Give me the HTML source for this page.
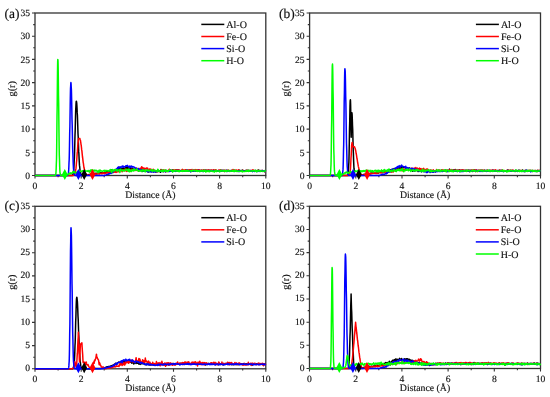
<!DOCTYPE html>
<html><head><meta charset="utf-8"><style>
html,body{margin:0;padding:0;background:#fff;width:550px;height:397px;overflow:hidden}
svg{display:block;filter:blur(0.35px)}
text{text-rendering:geometricPrecision;stroke:#111;stroke-width:0.15px}
.t{font-family:"Liberation Serif", serif;font-size:9.6px;fill:#111}
.ax{font-family:"Liberation Serif", serif;font-size:9.8px;fill:#111}
.gr{font-family:"Liberation Serif", serif;font-size:10.2px;fill:#111}
.lg{font-family:"Liberation Serif", serif;font-size:10px;fill:#111}
.pl{font-family:"Liberation Serif", serif;font-size:13.5px;fill:#111}
</style></head><body>
<svg width="550" height="397" viewBox="0 0 550 397">
<rect width="550" height="397" fill="#fff"/>
<rect x="35" y="13" width="230.8" height="162.5" fill="none" stroke="#333" stroke-width="1.3"/>
<path d="M35.0 175.5v3 M58.1 175.5v1.8 M81.2 175.5v3 M104.2 175.5v1.8 M127.3 175.5v3 M150.4 175.5v1.8 M173.5 175.5v3 M196.6 175.5v1.8 M219.6 175.5v3 M242.7 175.5v1.8 M265.8 175.5v3 M35 175.5h-3 M35 163.9h-1.8 M35 152.3h-3 M35 140.7h-1.8 M35 129.1h-3 M35 117.5h-1.8 M35 105.9h-3 M35 94.2h-1.8 M35 82.6h-3 M35 71.0h-1.8 M35 59.4h-3 M35 47.8h-1.8 M35 36.2h-3 M35 24.6h-1.8 M35 13.0h-3" stroke="#333" stroke-width="1.1" fill="none"/>
<polyline points="35.0,175.5 36.2,175.5 37.3,175.5 38.5,175.5 39.6,175.5 40.8,175.5 41.9,175.5 43.1,175.5 44.2,175.5 45.4,175.5 46.5,175.5 47.7,175.5 48.8,175.5 50.0,175.5 51.2,175.5 51.3,175.5 51.4,175.5 51.5,175.5 51.6,175.5 51.7,175.5 51.8,175.5 52.0,175.5 52.1,175.5 52.2,175.5 52.3,175.5 52.4,175.5 52.5,175.5 52.7,175.5 52.8,175.5 52.9,175.5 53.0,175.5 53.1,175.5 53.2,175.5 53.3,175.5 53.5,175.5 53.6,175.5 53.7,175.5 53.8,175.5 53.9,175.5 54.0,175.5 54.2,175.5 54.3,175.5 54.4,175.5 54.5,175.5 54.6,175.5 54.7,175.5 54.8,175.5 55.0,175.5 55.1,175.5 55.2,175.5 55.3,175.5 55.4,175.5 55.5,175.5 55.7,175.5 55.8,175.5 55.9,175.5 56.0,175.5 56.1,175.5 56.2,175.5 56.3,175.5 56.5,175.5 56.6,175.5 56.7,175.5 56.8,175.5 56.9,175.5 57.0,175.5 57.2,175.5 57.3,175.5 57.4,175.5 57.5,175.5 57.6,175.5 57.7,175.5 57.8,175.5 58.0,175.5 58.1,175.5 58.2,175.5 58.3,175.5 58.4,175.5 58.5,175.5 58.7,175.5 58.8,175.5 58.9,175.5 59.0,175.5 59.1,175.5 59.2,175.5 59.3,175.5 59.5,175.5 59.6,175.5 59.7,175.5 59.8,175.5 59.9,175.5 60.0,175.5 60.2,175.5 60.3,175.5 60.4,175.5 60.5,175.5 60.6,175.5 60.7,175.5 60.8,175.5 61.0,175.5 61.1,175.5 61.2,175.5 61.3,175.5 61.4,175.5 61.5,175.5 61.7,175.5 61.8,175.5 61.9,175.5 62.0,175.5 62.1,175.5 62.2,175.5 62.3,175.5 62.5,175.5 62.6,175.5 62.7,175.5 62.8,175.5 62.9,175.5 63.0,175.5 63.2,175.5 63.3,175.5 63.4,175.5 63.5,175.5 63.6,175.5 63.7,175.5 63.9,175.5 64.0,175.5 64.1,175.5 64.2,175.5 64.3,175.5 64.4,175.5 64.5,175.5 64.7,175.5 64.8,175.5 64.9,175.5 65.0,175.5 65.1,175.5 65.2,175.5 65.4,175.5 65.5,175.5 65.6,175.5 65.7,175.5 65.8,175.5 65.9,175.5 66.0,175.5 66.2,175.5 66.3,175.5 66.4,175.5 66.5,175.5 66.6,175.5 66.7,175.5 66.9,175.5 67.0,175.5 67.1,175.5 67.2,175.5 67.3,175.5 67.4,175.5 67.5,175.5 67.7,175.5 67.8,175.5 67.9,175.5 68.0,175.5 68.1,175.5 68.2,175.5 68.4,175.5 68.5,175.5 68.6,175.5 68.7,175.5 68.8,175.5 68.9,175.5 69.0,175.5 69.2,175.5 69.3,175.5 69.4,175.5 69.5,175.5 69.6,175.5 69.7,175.5 69.9,175.5 70.0,175.5 70.1,175.5 70.2,175.5 70.3,175.5 70.4,175.5 70.5,175.5 70.7,175.5 70.8,175.5 70.9,175.5 71.0,175.5 71.1,175.5 71.2,175.5 71.4,175.5 71.5,175.5 71.6,175.5 71.7,175.5 71.8,175.5 71.9,175.4 72.0,175.4 72.2,175.4 72.3,175.3 72.4,175.3 72.5,175.2 72.6,175.1 72.7,174.9 72.9,174.7 73.0,174.4 73.1,174.0 73.2,173.6 73.3,173.0 73.4,172.2 73.5,171.3 73.7,170.2 73.8,168.9 73.9,167.3 74.0,165.4 74.1,163.3 74.2,160.8 74.4,158.0 74.5,154.8 74.6,151.4 74.7,147.6 74.8,143.6 74.9,139.3 75.0,134.9 75.2,130.4 75.3,126.0 75.4,121.6 75.5,117.4 75.6,113.5 75.7,109.9 75.9,106.9 76.0,104.5 76.1,102.7 76.2,101.6 76.3,101.2 76.4,101.4 76.5,102.0 76.7,102.9 76.8,104.2 76.9,105.8 77.0,107.7 77.1,109.9 77.2,112.4 77.4,115.1 77.5,117.9 77.6,120.9 77.7,124.1 77.8,127.2 77.9,130.4 78.0,133.7 78.2,136.8 78.3,140.0 78.4,143.0 78.5,145.9 78.6,148.7 78.7,151.4 78.9,153.9 79.0,156.2 79.1,158.4 79.2,160.4 79.3,162.3 79.4,163.9 79.5,165.4 79.7,166.8 79.8,168.0 79.9,169.1 80.0,170.0 80.1,170.9 80.2,171.6 80.4,172.2 80.5,172.8 80.6,173.2 80.7,173.6 80.8,174.0 80.9,174.2 81.0,174.5 81.2,174.7 81.3,174.8 81.4,175.0 81.5,175.1 81.6,175.2 81.7,175.2 81.9,175.3 82.0,175.3 82.1,175.4 82.2,175.4 82.3,175.4 82.4,175.4 82.5,175.5 82.7,175.5 82.8,175.5 82.9,175.5 83.0,175.5 83.1,175.5 83.2,175.5 83.4,175.5 83.5,175.5 83.6,175.5 83.7,175.5 83.8,175.5 83.9,175.5 84.0,175.5 84.2,175.5 84.3,175.5 84.4,175.5 84.5,175.5 84.6,175.5 84.7,175.5 84.9,175.5 85.0,175.5 85.1,175.5 85.2,175.5 85.3,175.5 85.4,175.5 85.5,175.5 85.7,175.5 85.8,175.5 85.9,175.5 86.0,175.4 86.1,175.4 86.2,175.4 86.4,175.3 86.5,175.3 86.6,175.3 86.7,175.3 86.8,175.2 86.9,175.2 87.0,175.1 87.2,175.1 87.3,175.1 87.4,175.0 87.5,175.0 87.6,175.0 87.7,175.0 87.9,174.9 88.0,174.9 88.1,174.9 88.2,174.9 88.3,174.8 88.4,174.8 88.5,174.8 88.7,174.8 88.8,174.7 88.9,174.6 89.0,174.6 89.1,174.6 89.2,174.6 89.4,174.6 89.5,174.6 89.6,174.6 89.7,174.5 89.8,174.4 89.9,174.3 90.0,174.2 90.2,174.2 90.3,174.1 90.4,174.0 90.5,174.1 90.6,174.2 90.7,174.3 90.9,174.4 91.0,174.4 91.1,174.4 91.2,174.4 91.3,174.5 91.4,174.3 91.5,174.1 91.7,174.0 91.8,173.8 91.9,173.6 92.0,173.5 92.1,173.4 92.2,173.2 92.4,173.4 92.5,173.5 92.6,173.7 92.7,173.9 92.8,173.9 92.9,173.9 93.0,173.9 93.2,173.9 93.3,173.8 93.4,173.7 93.5,173.5 93.6,173.4 93.7,173.5 93.9,173.6 94.0,173.7 94.1,173.7 94.2,173.7 94.3,173.7 94.4,173.6 94.5,173.6 94.7,173.6 94.8,173.6 94.9,173.6 95.0,173.5 95.1,173.5 95.2,173.4 95.4,173.4 95.5,173.3 95.6,173.3 95.7,173.4 95.8,173.4 95.9,173.5 96.0,173.4 96.2,173.4 96.3,173.3 96.4,173.3 96.5,173.3 96.6,173.3 96.7,173.3 96.9,173.4 97.0,173.4 97.1,173.4 97.2,173.5 97.3,173.5 97.4,173.5 97.5,173.4 97.7,173.4 97.8,173.3 97.9,173.4 98.0,173.4 98.1,173.4 98.2,173.5 98.4,173.4 98.5,173.3 98.6,173.2 98.7,173.2 98.8,173.2 98.9,173.3 99.0,173.4 99.2,173.4 99.3,173.4 99.4,173.4 99.5,173.4 99.6,173.4 99.7,173.2 99.9,173.0 100.0,172.8 100.1,172.6 100.2,172.7 100.3,172.8 100.4,172.9 100.5,173.0 100.7,173.0 100.8,173.0 100.9,173.0 101.0,173.0 101.1,172.9 101.2,172.9 101.4,172.8 101.5,172.8 101.6,172.8 101.7,172.9 101.8,173.0 101.9,173.0 102.4,172.9 102.9,172.7 103.3,172.7 103.8,173.1 104.2,172.4 104.7,172.8 105.2,172.9 105.6,172.7 106.1,172.4 106.5,171.5 107.0,172.5 107.5,171.9 107.9,172.8 108.4,171.7 108.9,171.2 109.3,171.6 109.8,171.7 110.2,171.2 110.7,170.8 111.2,170.7 111.6,169.9 112.1,170.8 112.5,171.1 113.0,170.7 113.5,170.6 113.9,170.4 114.4,170.3 114.9,170.1 115.3,171.2 115.8,169.5 116.2,170.3 116.7,170.6 117.2,169.3 117.6,168.7 118.1,169.1 118.5,169.3 119.0,169.9 119.5,167.3 119.9,168.6 120.4,169.9 120.9,169.6 121.3,168.9 121.8,169.9 122.2,168.7 122.7,169.1 123.2,167.9 123.6,168.0 124.1,170.4 124.6,168.5 125.0,169.5 125.5,167.6 125.9,168.2 126.4,167.8 126.9,168.9 127.3,166.8 127.8,166.8 128.2,168.9 128.7,168.0 129.2,168.8 129.6,168.4 130.1,169.3 130.6,167.3 131.0,169.3 131.5,168.9 131.9,168.4 132.4,169.3 132.9,169.1 133.3,169.4 133.8,169.1 134.2,169.9 134.7,169.5 135.2,169.4 135.6,169.5 136.1,169.4 136.6,169.7 137.0,169.0 137.5,169.8 137.9,169.7 138.4,170.2 138.9,170.1 139.3,170.7 139.8,169.6 140.2,170.7 140.7,170.5 141.2,169.8 141.6,169.9 142.1,170.5 142.6,171.5 143.0,170.1 143.5,170.2 143.9,171.3 144.4,170.1 144.9,171.0 145.3,171.3 145.8,170.6 146.2,170.9 146.7,170.7 147.2,171.8 147.6,170.0 148.1,171.3 148.6,171.9 149.0,170.8 149.5,171.4 149.9,171.1 150.4,171.5 150.9,171.3 151.3,171.2 151.8,171.7 152.2,170.9 152.7,171.5 153.2,171.7 153.6,171.2 154.1,171.0 154.6,171.3 155.0,171.6 155.5,170.9 155.9,172.0 156.4,171.6 156.9,171.1 157.3,171.8 157.8,171.1 158.2,171.1 158.7,170.6 159.2,171.5 159.6,171.3 160.1,170.9 160.6,172.2 161.0,169.5 161.5,171.3 161.9,171.3 162.4,170.6 162.9,171.0 163.3,171.8 163.8,170.6 164.2,170.5 164.7,171.1 165.2,171.0 165.6,170.6 166.1,171.3 166.6,170.6 167.0,170.7 167.5,171.1 167.9,171.4 168.4,170.9 168.9,171.2 169.3,170.3 169.8,170.7 170.2,170.4 170.7,170.6 171.2,170.6 171.6,171.0 172.1,170.4 172.6,169.9 173.0,170.8 173.5,170.9 173.9,170.7 174.4,170.8 174.9,170.9 175.3,170.6 175.8,170.8 176.2,170.0 176.7,170.6 177.2,170.5 177.6,170.3 178.1,170.8 178.6,170.1 179.0,170.9 179.5,171.0 179.9,170.8 180.4,170.7 180.9,171.2 181.3,170.7 181.8,171.3 182.3,170.1 182.7,170.7 183.2,170.9 183.6,171.0 184.1,170.8 184.6,170.7 185.0,171.0 185.5,171.0 185.9,170.7 186.4,170.8 186.9,170.3 187.3,170.3 187.8,170.7 188.3,170.5 188.7,171.1 189.2,170.4 189.6,170.7 190.1,170.5 190.6,170.1 191.0,171.5 191.5,170.6 191.9,171.1 192.4,170.5 192.9,171.1 193.3,170.8 193.8,170.6 194.3,170.5 194.7,170.7 195.2,171.0 195.6,170.9 196.1,170.4 196.6,170.7 197.0,171.3 197.5,170.4 197.9,170.5 198.4,170.4 198.9,170.8 199.3,170.4 199.8,171.1 200.3,170.5 200.7,170.9 201.2,170.5 201.6,170.3 202.1,171.0 202.6,170.7 203.0,170.7 203.5,170.3 203.9,170.5 204.4,171.1 204.9,170.5 205.3,170.4 205.8,170.0 206.3,171.3 206.7,170.9 207.2,170.2 207.6,171.2 208.1,171.1 208.6,170.5 209.0,170.4 209.5,170.9 209.9,170.5 210.4,170.7 210.9,170.2 211.3,170.7 211.8,170.4 212.3,171.0 212.7,170.8 213.2,170.8 213.6,170.3 214.1,170.5 214.6,171.0 215.0,170.5 215.5,170.5 215.9,170.8 216.4,170.8 216.9,170.8 217.3,171.3 217.8,170.7 218.3,170.7 218.7,171.0 219.2,170.5 219.6,171.2 220.1,170.9 220.6,170.9 221.0,170.1 221.5,171.3 221.9,170.6 222.4,170.4 222.9,170.6 223.3,170.3 223.8,171.1 224.3,171.5 224.7,170.5 225.2,171.2 225.6,170.9 226.1,171.2 226.6,170.4 227.0,170.5 227.5,171.0 227.9,170.5 228.4,170.7 228.9,170.8 229.3,170.7 229.8,170.8 230.3,170.6 230.7,170.7 231.2,170.9 231.6,170.4 232.1,171.0 232.6,170.7 233.0,170.6 233.5,170.3 233.9,170.9 234.4,170.2 234.9,170.7 235.3,170.8 235.8,171.0 236.3,170.6 236.7,170.8 237.2,171.2 237.6,171.2 238.1,171.0 238.6,171.0 239.0,170.4 239.5,170.3 240.0,170.5 240.4,170.7 240.9,170.9 241.3,170.8 241.8,170.5 242.3,170.1 242.7,170.5 243.2,170.9 243.6,170.8 244.1,171.0 244.6,171.1 245.0,170.9 245.5,170.7 246.0,170.2 246.4,170.8 246.9,170.4 247.3,170.2 247.8,170.8 248.3,170.3 248.7,170.6 249.2,171.0 249.6,170.7 250.1,170.8 250.6,170.9 251.0,170.9 251.5,170.8 252.0,170.7 252.4,171.1 252.9,170.8 253.3,171.3 253.8,170.7 254.3,170.6 254.7,170.8 255.2,170.7 255.6,170.6 256.1,171.1 256.6,170.9 257.0,170.7 257.5,170.5 258.0,170.7 258.4,170.0 258.9,170.9 259.3,170.5 259.8,170.4 260.3,170.9 260.7,171.1 261.2,171.2 261.6,170.8 262.1,170.5 262.6,170.8 263.0,170.8 263.5,171.0 264.0,170.7 264.4,171.6 264.9,170.8 265.3,170.8 265.8,171.3" fill="none" stroke="#000000" stroke-width="1.5" stroke-linejoin="round"/>
<polyline points="35.0,175.5 36.2,175.5 37.3,175.5 38.5,175.5 39.6,175.5 40.8,175.5 41.9,175.5 43.1,175.5 44.2,175.5 45.4,175.5 46.5,175.5 47.7,175.5 48.8,175.5 50.0,175.5 51.2,175.5 51.3,175.5 51.4,175.5 51.5,175.5 51.6,175.5 51.7,175.5 51.8,175.5 52.0,175.5 52.1,175.5 52.2,175.5 52.3,175.5 52.4,175.5 52.5,175.5 52.7,175.5 52.8,175.5 52.9,175.5 53.0,175.5 53.1,175.5 53.2,175.5 53.3,175.5 53.5,175.5 53.6,175.5 53.7,175.5 53.8,175.5 53.9,175.5 54.0,175.5 54.2,175.5 54.3,175.5 54.4,175.5 54.5,175.5 54.6,175.5 54.7,175.5 54.8,175.5 55.0,175.5 55.1,175.5 55.2,175.5 55.3,175.5 55.4,175.5 55.5,175.5 55.7,175.5 55.8,175.5 55.9,175.5 56.0,175.5 56.1,175.5 56.2,175.5 56.3,175.5 56.5,175.5 56.6,175.5 56.7,175.5 56.8,175.5 56.9,175.5 57.0,175.5 57.2,175.5 57.3,175.5 57.4,175.5 57.5,175.5 57.6,175.5 57.7,175.5 57.8,175.5 58.0,175.5 58.1,175.5 58.2,175.5 58.3,175.5 58.4,175.5 58.5,175.5 58.7,175.5 58.8,175.5 58.9,175.5 59.0,175.5 59.1,175.5 59.2,175.5 59.3,175.5 59.5,175.5 59.6,175.5 59.7,175.5 59.8,175.5 59.9,175.5 60.0,175.5 60.2,175.5 60.3,175.5 60.4,175.5 60.5,175.5 60.6,175.5 60.7,175.5 60.8,175.5 61.0,175.5 61.1,175.5 61.2,175.5 61.3,175.5 61.4,175.5 61.5,175.5 61.7,175.5 61.8,175.5 61.9,175.5 62.0,175.5 62.1,175.5 62.2,175.5 62.3,175.5 62.5,175.5 62.6,175.5 62.7,175.5 62.8,175.5 62.9,175.5 63.0,175.5 63.2,175.5 63.3,175.5 63.4,175.5 63.5,175.5 63.6,175.5 63.7,175.5 63.9,175.5 64.0,175.5 64.1,175.5 64.2,175.5 64.3,175.5 64.4,175.5 64.5,175.5 64.7,175.5 64.8,175.5 64.9,175.5 65.0,175.5 65.1,175.5 65.2,175.5 65.4,175.5 65.5,175.5 65.6,175.5 65.7,175.5 65.8,175.5 65.9,175.5 66.0,175.5 66.2,175.5 66.3,175.5 66.4,175.5 66.5,175.5 66.6,175.5 66.7,175.5 66.9,175.5 67.0,175.5 67.1,175.5 67.2,175.5 67.3,175.5 67.4,175.5 67.5,175.5 67.7,175.5 67.8,175.5 67.9,175.5 68.0,175.5 68.1,175.5 68.2,175.5 68.4,175.5 68.5,175.5 68.6,175.5 68.7,175.5 68.8,175.5 68.9,175.5 69.0,175.5 69.2,175.5 69.3,175.5 69.4,175.5 69.5,175.5 69.6,175.5 69.7,175.5 69.9,175.5 70.0,175.5 70.1,175.5 70.2,175.5 70.3,175.5 70.4,175.5 70.5,175.5 70.7,175.5 70.8,175.5 70.9,175.5 71.0,175.5 71.1,175.5 71.2,175.5 71.4,175.5 71.5,175.5 71.6,175.5 71.7,175.5 71.8,175.5 71.9,175.5 72.0,175.5 72.2,175.5 72.3,175.5 72.4,175.5 72.5,175.5 72.6,175.5 72.7,175.5 72.9,175.5 73.0,175.5 73.1,175.4 73.2,175.4 73.3,175.4 73.4,175.4 73.5,175.3 73.7,175.3 73.8,175.2 73.9,175.2 74.0,175.1 74.1,175.0 74.2,174.9 74.4,174.7 74.5,174.6 74.6,174.4 74.7,174.1 74.8,173.9 74.9,173.6 75.0,173.2 75.2,172.8 75.3,172.3 75.4,171.8 75.5,171.2 75.6,170.5 75.7,169.7 75.9,168.9 76.0,168.0 76.1,167.0 76.2,165.9 76.3,164.7 76.4,163.4 76.5,162.1 76.7,160.7 76.8,159.2 76.9,157.7 77.0,156.2 77.1,154.6 77.2,153.0 77.4,151.4 77.5,149.8 77.6,148.2 77.7,146.7 77.8,145.3 77.9,144.0 78.0,142.7 78.2,141.6 78.3,140.7 78.4,139.8 78.5,139.2 78.6,138.7 78.7,138.5 78.9,138.4 79.0,138.4 79.1,138.4 79.2,138.4 79.3,138.4 79.4,138.4 79.5,138.4 79.7,138.4 79.8,138.5 79.9,138.7 80.0,139.0 80.1,139.3 80.2,139.7 80.4,140.2 80.5,140.7 80.6,141.3 80.7,142.0 80.8,142.7 80.9,143.5 81.0,144.3 81.2,145.2 81.3,146.1 81.4,147.0 81.5,147.9 81.6,148.9 81.7,149.9 81.9,150.9 82.0,151.9 82.1,153.0 82.2,154.0 82.3,155.0 82.4,156.0 82.5,157.0 82.7,158.0 82.8,159.0 82.9,159.9 83.0,160.8 83.1,161.7 83.2,162.6 83.4,163.4 83.5,164.2 83.6,165.0 83.7,165.8 83.8,166.5 83.9,167.1 84.0,167.8 84.2,168.4 84.3,169.0 84.4,169.5 84.5,170.0 84.6,170.5 84.7,170.9 84.9,171.3 85.0,171.7 85.1,172.1 85.2,172.4 85.3,172.7 85.4,173.0 85.5,173.2 85.7,173.5 85.8,173.7 85.9,173.9 86.0,174.0 86.1,174.2 86.2,174.4 86.4,174.5 86.5,174.6 86.6,174.7 86.7,174.8 86.8,174.9 86.9,175.0 87.0,175.0 87.2,175.1 87.3,175.1 87.4,175.1 87.5,175.1 87.6,175.1 87.7,175.1 87.9,175.2 88.0,175.2 88.1,175.2 88.2,175.2 88.3,175.2 88.4,175.2 88.5,175.2 88.7,175.2 88.8,175.1 88.9,175.1 89.0,175.0 89.1,175.0 89.2,175.0 89.4,175.0 89.5,175.0 89.6,175.0 89.7,175.0 89.8,175.0 89.9,175.0 90.0,175.0 90.2,175.0 90.3,175.0 90.4,175.0 90.5,174.9 90.6,174.9 90.7,174.9 90.9,174.8 91.0,174.8 91.1,174.8 91.2,174.8 91.3,174.8 91.4,174.7 91.5,174.7 91.7,174.6 91.8,174.6 91.9,174.6 92.0,174.5 92.1,174.5 92.2,174.5 92.4,174.5 92.5,174.5 92.6,174.6 92.7,174.6 92.8,174.6 92.9,174.5 93.0,174.5 93.2,174.5 93.3,174.5 93.4,174.5 93.5,174.4 93.6,174.4 93.7,174.4 93.9,174.4 94.0,174.5 94.1,174.5 94.2,174.4 94.3,174.4 94.4,174.3 94.5,174.3 94.7,174.2 94.8,174.2 94.9,174.2 95.0,174.1 95.1,174.1 95.2,174.0 95.4,174.0 95.5,173.9 95.6,173.9 95.7,173.9 95.8,173.8 95.9,173.8 96.0,173.9 96.2,173.9 96.3,174.0 96.4,174.1 96.5,174.0 96.6,174.0 96.7,173.9 96.9,173.8 97.0,173.9 97.1,173.9 97.2,173.9 97.3,174.0 97.4,173.8 97.5,173.7 97.7,173.6 97.8,173.4 97.9,173.5 98.0,173.6 98.1,173.7 98.2,173.8 98.4,173.8 98.5,173.7 98.6,173.7 98.7,173.6 98.8,173.7 98.9,173.8 99.0,173.8 99.2,173.9 99.3,173.9 99.4,173.9 99.5,173.8 99.6,173.8 99.7,173.8 99.9,173.7 100.0,173.6 100.1,173.6 100.2,173.6 100.3,173.6 100.4,173.6 100.5,173.6 100.7,173.6 100.8,173.5 100.9,173.5 101.0,173.4 101.1,173.5 101.2,173.6 101.4,173.7 101.5,173.8 101.6,173.7 101.7,173.5 101.8,173.4 101.9,173.2 102.4,173.6 102.9,172.9 103.3,173.3 103.8,172.9 104.2,173.6 104.7,173.0 105.2,173.3 105.6,173.2 106.1,173.0 106.5,173.0 107.0,172.8 107.5,172.6 107.9,172.6 108.4,172.8 108.9,173.2 109.3,172.9 109.8,172.6 110.2,173.3 110.7,172.1 111.2,172.4 111.6,172.3 112.1,171.8 112.5,171.8 113.0,171.9 113.5,172.4 113.9,171.7 114.4,171.6 114.9,172.1 115.3,171.1 115.8,171.3 116.2,172.4 116.7,171.3 117.2,172.0 117.6,170.7 118.1,170.7 118.5,171.7 119.0,171.5 119.5,170.9 119.9,171.0 120.4,169.9 120.9,170.3 121.3,170.8 121.8,170.2 122.2,171.7 122.7,170.2 123.2,169.8 123.6,170.5 124.1,170.8 124.6,170.0 125.0,169.1 125.5,170.2 125.9,171.0 126.4,169.3 126.9,171.4 127.3,169.9 127.8,170.6 128.2,169.6 128.7,170.7 129.2,169.3 129.6,169.9 130.1,171.2 130.6,171.4 131.0,170.3 131.5,169.2 131.9,169.9 132.4,170.0 132.9,170.1 133.3,169.5 133.8,169.7 134.2,169.7 134.7,170.5 135.2,169.0 135.6,168.8 136.1,170.5 136.6,168.0 137.0,169.0 137.5,169.7 137.9,170.6 138.4,168.8 138.9,168.8 139.3,169.5 139.8,170.2 140.2,168.2 140.7,169.3 141.2,169.1 141.6,166.8 142.1,167.2 142.6,168.0 143.0,168.8 143.5,168.0 143.9,169.9 144.4,168.2 144.9,168.7 145.3,169.0 145.8,169.1 146.2,167.9 146.7,168.3 147.2,168.4 147.6,168.1 148.1,169.3 148.6,169.7 149.0,170.2 149.5,169.4 149.9,168.8 150.4,169.6 150.9,169.2 151.3,170.5 151.8,170.2 152.2,170.5 152.7,170.9 153.2,169.2 153.6,169.9 154.1,171.0 154.6,171.1 155.0,170.9 155.5,171.6 155.9,170.6 156.4,171.5 156.9,171.0 157.3,171.3 157.8,171.0 158.2,171.5 158.7,171.6 159.2,171.3 159.6,171.1 160.1,170.9 160.6,170.7 161.0,169.9 161.5,170.3 161.9,170.8 162.4,170.3 162.9,171.0 163.3,169.9 163.8,170.4 164.2,171.3 164.7,170.3 165.2,170.2 165.6,171.9 166.1,171.0 166.6,170.8 167.0,171.5 167.5,171.1 167.9,171.0 168.4,170.3 168.9,170.4 169.3,169.3 169.8,170.7 170.2,170.0 170.7,170.5 171.2,170.4 171.6,171.0 172.1,171.3 172.6,170.8 173.0,170.1 173.5,169.7 173.9,170.1 174.4,170.2 174.9,170.8 175.3,169.7 175.8,169.8 176.2,170.6 176.7,170.4 177.2,170.8 177.6,169.7 178.1,170.1 178.6,170.4 179.0,170.1 179.5,170.1 179.9,170.4 180.4,170.8 180.9,170.8 181.3,171.0 181.8,170.1 182.3,169.3 182.7,170.9 183.2,170.1 183.6,170.0 184.1,170.6 184.6,170.1 185.0,170.6 185.5,169.7 185.9,170.4 186.4,170.1 186.9,169.9 187.3,170.3 187.8,170.9 188.3,170.4 188.7,169.9 189.2,170.2 189.6,170.1 190.1,170.6 190.6,170.2 191.0,169.9 191.5,170.2 191.9,169.5 192.4,170.3 192.9,170.6 193.3,170.8 193.8,169.8 194.3,170.3 194.7,169.9 195.2,170.1 195.6,169.6 196.1,169.8 196.6,170.4 197.0,170.2 197.5,169.9 197.9,170.7 198.4,169.7 198.9,169.8 199.3,169.9 199.8,170.4 200.3,170.2 200.7,170.7 201.2,170.3 201.6,170.5 202.1,170.3 202.6,170.5 203.0,170.2 203.5,169.9 203.9,170.8 204.4,170.0 204.9,171.1 205.3,171.1 205.8,170.4 206.3,170.3 206.7,170.2 207.2,171.0 207.6,170.4 208.1,170.3 208.6,169.9 209.0,170.4 209.5,170.2 209.9,170.7 210.4,170.4 210.9,170.5 211.3,170.1 211.8,170.8 212.3,170.7 212.7,170.2 213.2,169.7 213.6,170.3 214.1,170.3 214.6,170.5 215.0,170.0 215.5,170.2 215.9,169.8 216.4,170.3 216.9,170.8 217.3,170.6 217.8,170.8 218.3,170.9 218.7,170.0 219.2,170.2 219.6,170.9 220.1,169.8 220.6,170.4 221.0,170.8 221.5,170.3 221.9,170.5 222.4,170.8 222.9,171.2 223.3,170.5 223.8,170.4 224.3,171.4 224.7,170.3 225.2,170.3 225.6,170.7 226.1,170.5 226.6,170.6 227.0,170.8 227.5,170.7 227.9,170.0 228.4,171.1 228.9,170.5 229.3,170.5 229.8,170.8 230.3,170.7 230.7,171.1 231.2,170.9 231.6,170.6 232.1,170.5 232.6,170.9 233.0,169.5 233.5,170.8 233.9,170.5 234.4,170.7 234.9,170.7 235.3,170.1 235.8,170.8 236.3,170.1 236.7,170.2 237.2,171.0 237.6,170.3 238.1,170.8 238.6,169.7 239.0,170.8 239.5,171.0 240.0,171.3 240.4,171.1 240.9,170.8 241.3,171.0 241.8,171.1 242.3,170.9 242.7,170.7 243.2,170.2 243.6,171.3 244.1,170.9 244.6,171.0 245.0,171.2 245.5,171.1 246.0,171.0 246.4,170.4 246.9,170.8 247.3,170.9 247.8,170.5 248.3,170.6 248.7,170.8 249.2,170.6 249.6,171.0 250.1,170.5 250.6,170.6 251.0,170.9 251.5,171.2 252.0,170.2 252.4,170.7 252.9,169.7 253.3,171.0 253.8,170.5 254.3,170.9 254.7,170.7 255.2,170.5 255.6,171.0 256.1,170.8 256.6,170.7 257.0,170.7 257.5,170.6 258.0,170.4 258.4,170.5 258.9,170.7 259.3,170.9 259.8,171.2 260.3,171.1 260.7,171.0 261.2,170.6 261.6,170.9 262.1,171.2 262.6,170.6 263.0,171.1 263.5,171.1 264.0,170.9 264.4,170.7 264.9,171.7 265.3,171.2 265.8,170.8" fill="none" stroke="#ff0000" stroke-width="1.5" stroke-linejoin="round"/>
<polyline points="35.0,175.5 36.2,175.5 37.3,175.5 38.5,175.5 39.6,175.5 40.8,175.5 41.9,175.5 43.1,175.5 44.2,175.5 45.4,175.5 46.5,175.5 47.7,175.5 48.8,175.5 50.0,175.5 51.2,175.5 51.3,175.5 51.4,175.5 51.5,175.5 51.6,175.5 51.7,175.5 51.8,175.5 52.0,175.5 52.1,175.5 52.2,175.5 52.3,175.5 52.4,175.5 52.5,175.5 52.7,175.5 52.8,175.5 52.9,175.5 53.0,175.5 53.1,175.5 53.2,175.5 53.3,175.5 53.5,175.5 53.6,175.5 53.7,175.5 53.8,175.5 53.9,175.5 54.0,175.5 54.2,175.5 54.3,175.5 54.4,175.5 54.5,175.5 54.6,175.5 54.7,175.5 54.8,175.5 55.0,175.5 55.1,175.5 55.2,175.5 55.3,175.5 55.4,175.5 55.5,175.5 55.7,175.5 55.8,175.5 55.9,175.5 56.0,175.5 56.1,175.5 56.2,175.5 56.3,175.5 56.5,175.5 56.6,175.5 56.7,175.5 56.8,175.5 56.9,175.5 57.0,175.5 57.2,175.5 57.3,175.5 57.4,175.5 57.5,175.5 57.6,175.5 57.7,175.5 57.8,175.5 58.0,175.5 58.1,175.5 58.2,175.5 58.3,175.5 58.4,175.5 58.5,175.5 58.7,175.5 58.8,175.5 58.9,175.5 59.0,175.5 59.1,175.5 59.2,175.5 59.3,175.5 59.5,175.5 59.6,175.5 59.7,175.5 59.8,175.5 59.9,175.5 60.0,175.5 60.2,175.5 60.3,175.5 60.4,175.5 60.5,175.5 60.6,175.5 60.7,175.5 60.8,175.5 61.0,175.5 61.1,175.5 61.2,175.5 61.3,175.5 61.4,175.5 61.5,175.5 61.7,175.5 61.8,175.5 61.9,175.5 62.0,175.5 62.1,175.5 62.2,175.5 62.3,175.5 62.5,175.5 62.6,175.5 62.7,175.5 62.8,175.5 62.9,175.5 63.0,175.5 63.2,175.5 63.3,175.5 63.4,175.5 63.5,175.5 63.6,175.5 63.7,175.5 63.9,175.5 64.0,175.5 64.1,175.5 64.2,175.5 64.3,175.5 64.4,175.5 64.5,175.5 64.7,175.5 64.8,175.5 64.9,175.5 65.0,175.5 65.1,175.5 65.2,175.5 65.4,175.5 65.5,175.5 65.6,175.5 65.7,175.5 65.8,175.5 65.9,175.5 66.0,175.5 66.2,175.5 66.3,175.5 66.4,175.5 66.5,175.5 66.6,175.5 66.7,175.5 66.9,175.5 67.0,175.5 67.1,175.5 67.2,175.5 67.3,175.4 67.4,175.4 67.5,175.4 67.7,175.3 67.8,175.2 67.9,175.0 68.0,174.8 68.1,174.5 68.2,174.0 68.4,173.4 68.5,172.5 68.6,171.4 68.7,170.0 68.8,168.1 68.9,165.8 69.0,162.9 69.2,159.5 69.3,155.4 69.4,150.7 69.5,145.4 69.6,139.4 69.7,133.0 69.9,126.2 70.0,119.2 70.1,112.2 70.2,105.4 70.3,99.1 70.4,93.6 70.5,88.9 70.7,85.5 70.8,83.4 70.9,82.6 71.0,83.1 71.1,84.5 71.2,86.7 71.4,89.8 71.5,93.6 71.6,97.9 71.7,102.8 71.8,108.1 71.9,113.6 72.0,119.2 72.2,124.8 72.3,130.3 72.4,135.6 72.5,140.6 72.6,145.4 72.7,149.7 72.9,153.6 73.0,157.1 73.1,160.2 73.2,162.9 73.3,165.3 73.4,167.2 73.5,168.9 73.7,170.3 73.8,171.4 73.9,172.3 74.0,173.1 74.1,173.7 74.2,174.1 74.4,174.5 74.5,174.7 74.6,174.9 74.7,175.1 74.8,175.2 74.9,175.3 75.0,175.4 75.2,175.4 75.3,175.4 75.4,175.5 75.5,175.5 75.6,175.5 75.7,175.5 75.9,175.5 76.0,175.5 76.1,175.5 76.2,175.5 76.3,175.5 76.4,175.5 76.5,175.5 76.7,175.5 76.8,175.5 76.9,175.5 77.0,175.5 77.1,175.5 77.2,175.5 77.4,175.5 77.5,175.5 77.6,175.5 77.7,175.5 77.8,175.5 77.9,175.5 78.0,175.5 78.2,175.5 78.3,175.5 78.4,175.5 78.5,175.5 78.6,175.5 78.7,175.5 78.9,175.5 79.0,175.5 79.1,175.5 79.2,175.5 79.3,175.5 79.4,175.5 79.5,175.5 79.7,175.5 79.8,175.5 79.9,175.5 80.0,175.5 80.1,175.5 80.2,175.5 80.4,175.5 80.5,175.5 80.6,175.5 80.7,175.5 80.8,175.5 80.9,175.5 81.0,175.5 81.2,175.5 81.3,175.5 81.4,175.5 81.5,175.5 81.6,175.5 81.7,175.5 81.9,175.5 82.0,175.5 82.1,175.5 82.2,175.5 82.3,175.5 82.4,175.5 82.5,175.5 82.7,175.5 82.8,175.5 82.9,175.5 83.0,175.5 83.1,175.5 83.2,175.5 83.4,175.5 83.5,175.5 83.6,175.5 83.7,175.5 83.8,175.5 83.9,175.5 84.0,175.5 84.2,175.5 84.3,175.5 84.4,175.5 84.5,175.5 84.6,175.5 84.7,175.5 84.9,175.5 85.0,175.5 85.1,175.5 85.2,175.5 85.3,175.5 85.4,175.5 85.5,175.5 85.7,175.5 85.8,175.5 85.9,175.5 86.0,175.5 86.1,175.5 86.2,175.5 86.4,175.5 86.5,175.5 86.6,175.5 86.7,175.5 86.8,175.5 86.9,175.5 87.0,175.5 87.2,175.5 87.3,175.5 87.4,175.5 87.5,175.5 87.6,175.5 87.7,175.5 87.9,175.5 88.0,175.5 88.1,175.5 88.2,175.5 88.3,175.5 88.4,175.5 88.5,175.5 88.7,175.5 88.8,175.5 88.9,175.5 89.0,175.5 89.1,175.5 89.2,175.5 89.4,175.5 89.5,175.5 89.6,175.5 89.7,175.5 89.8,175.5 89.9,175.5 90.0,175.5 90.2,175.5 90.3,175.5 90.4,175.5 90.5,175.5 90.6,175.5 90.7,175.5 90.9,175.5 91.0,175.5 91.1,175.5 91.2,175.5 91.3,175.5 91.4,175.5 91.5,175.5 91.7,175.5 91.8,175.5 91.9,175.5 92.0,175.5 92.1,175.5 92.2,175.5 92.4,175.5 92.5,175.5 92.6,175.5 92.7,175.5 92.8,175.5 92.9,175.5 93.0,175.5 93.2,175.5 93.3,175.5 93.4,175.5 93.5,175.5 93.6,175.5 93.7,175.5 93.9,175.5 94.0,175.5 94.1,175.5 94.2,175.5 94.3,175.5 94.4,175.5 94.5,175.5 94.7,175.5 94.8,175.5 94.9,175.5 95.0,175.5 95.1,175.5 95.2,175.5 95.4,175.5 95.5,175.5 95.6,175.5 95.7,175.5 95.8,175.5 95.9,175.5 96.0,175.5 96.2,175.5 96.3,175.5 96.4,175.5 96.5,175.5 96.6,175.5 96.7,175.5 96.9,175.5 97.0,175.5 97.1,175.5 97.2,175.5 97.3,175.5 97.4,175.5 97.5,175.5 97.7,175.5 97.8,175.5 97.9,175.5 98.0,175.5 98.1,175.5 98.2,175.5 98.4,175.5 98.5,175.5 98.6,175.5 98.7,175.5 98.8,175.5 98.9,175.5 99.0,175.5 99.2,175.5 99.3,175.5 99.4,175.5 99.5,175.5 99.6,175.5 99.7,175.5 99.9,175.5 100.0,175.5 100.1,175.5 100.2,175.5 100.3,175.5 100.4,175.5 100.5,175.5 100.7,175.5 100.8,175.5 100.9,175.5 101.0,175.5 101.1,175.5 101.2,175.5 101.4,175.5 101.5,175.5 101.6,175.5 101.7,175.5 101.8,175.5 101.9,175.5 102.4,175.5 102.9,175.5 103.3,175.5 103.8,175.5 104.2,175.5 104.7,175.3 105.2,175.2 105.6,175.1 106.1,174.9 106.5,174.7 107.0,174.6 107.5,174.5 107.9,174.4 108.4,174.2 108.9,173.8 109.3,173.9 109.8,173.7 110.2,173.3 110.7,173.2 111.2,172.8 111.6,173.4 112.1,172.3 112.5,172.4 113.0,171.9 113.5,171.3 113.9,170.8 114.4,170.5 114.9,170.6 115.3,169.5 115.8,170.2 116.2,169.8 116.7,168.9 117.2,169.3 117.6,167.5 118.1,167.8 118.5,166.9 119.0,167.8 119.5,167.8 119.9,167.3 120.4,166.9 120.9,167.5 121.3,166.9 121.8,167.0 122.2,166.0 122.7,167.1 123.2,166.1 123.6,166.9 124.1,167.0 124.6,166.7 125.0,166.9 125.5,166.2 125.9,165.7 126.4,166.2 126.9,166.0 127.3,165.4 127.8,166.2 128.2,166.3 128.7,166.6 129.2,167.3 129.6,166.1 130.1,167.5 130.6,166.2 131.0,166.6 131.5,166.0 131.9,166.7 132.4,167.1 132.9,166.5 133.3,167.1 133.8,167.1 134.2,167.2 134.7,167.5 135.2,167.8 135.6,168.4 136.1,168.2 136.6,169.5 137.0,168.7 137.5,169.5 137.9,168.4 138.4,168.5 138.9,170.6 139.3,169.5 139.8,169.7 140.2,170.3 140.7,169.5 141.2,170.2 141.6,171.0 142.1,170.3 142.6,170.3 143.0,170.2 143.5,171.0 143.9,170.2 144.4,170.2 144.9,171.2 145.3,171.1 145.8,170.9 146.2,171.2 146.7,170.3 147.2,171.0 147.6,171.7 148.1,171.7 148.6,171.4 149.0,170.6 149.5,171.7 149.9,171.6 150.4,171.6 150.9,171.8 151.3,170.9 151.8,171.9 152.2,171.4 152.7,171.6 153.2,171.4 153.6,172.1 154.1,171.0 154.6,171.7 155.0,171.6 155.5,171.9 155.9,171.8 156.4,171.3 156.9,171.2 157.3,171.2 157.8,171.0 158.2,171.2 158.7,171.4 159.2,171.1 159.6,171.2 160.1,171.4 160.6,171.1 161.0,170.9 161.5,171.3 161.9,171.5 162.4,171.0 162.9,170.6 163.3,171.3 163.8,171.3 164.2,171.3 164.7,170.8 165.2,171.8 165.6,171.0 166.1,170.7 166.6,171.4 167.0,170.6 167.5,170.9 167.9,171.3 168.4,171.0 168.9,171.6 169.3,171.2 169.8,170.4 170.2,171.3 170.7,170.3 171.2,171.0 171.6,170.6 172.1,170.9 172.6,171.7 173.0,171.1 173.5,170.8 173.9,171.2 174.4,171.3 174.9,170.7 175.3,171.1 175.8,171.4 176.2,171.1 176.7,170.6 177.2,171.0 177.6,170.6 178.1,170.4 178.6,170.9 179.0,171.2 179.5,171.3 179.9,170.9 180.4,170.6 180.9,170.8 181.3,170.7 181.8,171.0 182.3,170.8 182.7,171.0 183.2,171.0 183.6,171.3 184.1,171.3 184.6,171.0 185.0,171.2 185.5,171.2 185.9,170.7 186.4,170.9 186.9,170.1 187.3,170.6 187.8,171.1 188.3,170.7 188.7,170.8 189.2,171.1 189.6,170.6 190.1,171.1 190.6,171.7 191.0,170.7 191.5,171.1 191.9,170.5 192.4,171.1 192.9,171.2 193.3,170.5 193.8,171.2 194.3,170.9 194.7,170.5 195.2,170.9 195.6,170.9 196.1,170.9 196.6,170.7 197.0,171.1 197.5,170.7 197.9,170.8 198.4,170.3 198.9,171.0 199.3,171.2 199.8,170.7 200.3,171.0 200.7,170.8 201.2,170.9 201.6,170.6 202.1,171.1 202.6,171.0 203.0,171.6 203.5,171.2 203.9,170.5 204.4,171.1 204.9,171.1 205.3,171.3 205.8,170.8 206.3,170.9 206.7,171.3 207.2,170.8 207.6,170.9 208.1,170.7 208.6,171.1 209.0,170.5 209.5,170.8 209.9,171.0 210.4,171.1 210.9,171.0 211.3,170.7 211.8,171.0 212.3,170.7 212.7,170.8 213.2,170.6 213.6,170.7 214.1,171.0 214.6,171.5 215.0,170.9 215.5,170.7 215.9,170.9 216.4,170.8 216.9,171.1 217.3,171.1 217.8,171.2 218.3,170.6 218.7,170.9 219.2,171.1 219.6,171.3 220.1,171.0 220.6,170.6 221.0,170.9 221.5,171.2 221.9,170.6 222.4,170.6 222.9,170.7 223.3,170.8 223.8,170.7 224.3,170.8 224.7,170.8 225.2,171.2 225.6,170.6 226.1,170.9 226.6,170.4 227.0,171.5 227.5,170.8 227.9,170.7 228.4,171.1 228.9,170.9 229.3,170.8 229.8,170.8 230.3,171.1 230.7,171.0 231.2,170.7 231.6,170.7 232.1,171.0 232.6,171.0 233.0,171.0 233.5,170.7 233.9,171.3 234.4,171.4 234.9,171.0 235.3,171.3 235.8,171.2 236.3,171.0 236.7,170.9 237.2,171.3 237.6,170.8 238.1,171.5 238.6,170.9 239.0,171.4 239.5,171.4 240.0,170.9 240.4,171.1 240.9,171.2 241.3,171.1 241.8,170.9 242.3,171.0 242.7,171.0 243.2,170.7 243.6,171.2 244.1,171.2 244.6,171.2 245.0,170.7 245.5,170.8 246.0,170.7 246.4,171.0 246.9,171.1 247.3,170.8 247.8,171.1 248.3,170.8 248.7,170.9 249.2,171.2 249.6,171.1 250.1,171.1 250.6,170.6 251.0,170.4 251.5,171.1 252.0,171.1 252.4,171.7 252.9,171.0 253.3,171.1 253.8,171.3 254.3,170.9 254.7,171.5 255.2,171.1 255.6,171.0 256.1,171.4 256.6,170.8 257.0,170.8 257.5,171.4 258.0,171.4 258.4,170.9 258.9,171.1 259.3,171.4 259.8,171.2 260.3,171.1 260.7,171.1 261.2,170.9 261.6,171.0 262.1,170.6 262.6,170.7 263.0,170.9 263.5,170.8 264.0,170.7 264.4,170.9 264.9,171.4 265.3,170.9 265.8,171.1" fill="none" stroke="#0000ff" stroke-width="1.5" stroke-linejoin="round"/>
<polyline points="35.0,175.5 36.2,175.5 37.3,175.5 38.5,175.5 39.6,175.5 40.8,175.5 41.9,175.5 43.1,175.5 44.2,175.5 45.4,175.5 46.5,175.5 47.7,175.5 48.8,175.5 50.0,175.5 51.2,175.5 51.3,175.5 51.4,175.5 51.5,175.5 51.6,175.5 51.7,175.5 51.8,175.5 52.0,175.5 52.1,175.5 52.2,175.5 52.3,175.5 52.4,175.5 52.5,175.5 52.7,175.5 52.8,175.5 52.9,175.5 53.0,175.5 53.1,175.5 53.2,175.5 53.3,175.5 53.5,175.5 53.6,175.5 53.7,175.5 53.8,175.5 53.9,175.5 54.0,175.5 54.2,175.5 54.3,175.5 54.4,175.5 54.5,175.5 54.6,175.5 54.7,175.5 54.8,175.5 55.0,175.5 55.1,175.5 55.2,175.4 55.3,175.4 55.4,175.2 55.5,175.1 55.7,174.7 55.8,174.2 55.9,173.4 56.0,172.2 56.1,170.4 56.2,167.9 56.3,164.4 56.5,159.8 56.6,153.9 56.7,146.6 56.8,137.8 56.9,127.8 57.0,116.7 57.2,105.1 57.3,93.5 57.4,82.6 57.5,73.1 57.6,65.7 57.7,61.0 57.8,59.4 58.0,60.6 58.1,64.1 58.2,69.6 58.3,76.9 58.4,85.6 58.5,95.1 58.7,105.1 58.8,115.1 58.9,124.7 59.0,133.7 59.1,141.7 59.2,148.8 59.3,154.8 59.5,159.8 59.6,163.8 59.7,167.0 59.8,169.4 59.9,171.2 60.0,172.6 60.2,173.5 60.3,174.2 60.4,174.7 60.5,175.0 60.6,175.2 60.7,175.3 60.8,175.4 61.0,175.4 61.1,175.5 61.2,175.5 61.3,175.5 61.4,175.5 61.5,175.5 61.7,175.5 61.8,175.5 61.9,175.5 62.0,175.5 62.1,175.5 62.2,175.5 62.3,175.5 62.5,175.5 62.6,175.5 62.7,175.5 62.8,175.5 62.9,175.5 63.0,175.5 63.2,175.5 63.3,175.5 63.4,175.5 63.5,175.5 63.6,175.5 63.7,175.5 63.9,175.5 64.0,175.5 64.1,175.5 64.2,175.5 64.3,175.5 64.4,175.5 64.5,175.5 64.7,175.5 64.8,175.5 64.9,175.5 65.0,175.5 65.1,175.5 65.2,175.5 65.4,175.5 65.5,175.5 65.6,175.5 65.7,175.5 65.8,175.5 65.9,175.5 66.0,175.5 66.2,175.5 66.3,175.4 66.4,175.4 66.5,175.3 66.6,175.3 66.7,175.2 66.9,175.2 67.0,175.0 67.1,174.9 67.2,174.8 67.3,174.6 67.4,174.6 67.5,174.6 67.7,174.5 67.8,174.5 67.9,174.5 68.0,174.5 68.1,174.5 68.2,174.5 68.4,174.3 68.5,174.0 68.6,173.8 68.7,173.6 68.8,173.6 68.9,173.7 69.0,173.7 69.2,173.8 69.3,173.6 69.4,173.5 69.5,173.3 69.6,173.1 69.7,173.2 69.9,173.2 70.0,173.3 70.1,173.4 70.2,173.3 70.3,173.2 70.4,173.1 70.5,172.9 70.7,173.0 70.8,173.1 70.9,173.2 71.0,173.3 71.1,173.4 71.2,173.4 71.4,173.4 71.5,173.4 71.6,173.3 71.7,173.2 71.8,173.1 71.9,173.0 72.0,172.9 72.2,172.7 72.3,172.6 72.4,172.5 72.5,172.4 72.6,172.3 72.7,172.2 72.9,172.1 73.0,171.9 73.1,171.7 73.2,171.5 73.3,171.3 73.4,171.7 73.5,172.0 73.7,172.4 73.8,172.8 73.9,172.5 74.0,172.3 74.1,172.0 74.2,171.8 74.4,172.0 74.5,172.1 74.6,172.3 74.7,172.5 74.8,172.4 74.9,172.3 75.0,172.3 75.2,172.2 75.3,172.3 75.4,172.5 75.5,172.6 75.6,172.8 75.7,172.8 75.9,172.8 76.0,172.7 76.1,172.7 76.2,172.6 76.3,172.5 76.4,172.4 76.5,172.3 76.7,172.4 76.8,172.4 76.9,172.4 77.0,172.5 77.1,172.3 77.2,172.2 77.4,172.0 77.5,171.8 77.6,171.9 77.7,172.0 77.8,172.0 77.9,172.1 78.0,171.9 78.2,171.6 78.3,171.3 78.4,171.0 78.5,171.2 78.6,171.3 78.7,171.4 78.9,171.5 79.0,171.5 79.1,171.5 79.2,171.5 79.3,171.5 79.4,171.3 79.5,171.2 79.7,171.0 79.8,170.9 79.9,170.9 80.0,171.0 80.1,171.1 80.2,171.2 80.4,171.2 80.5,171.3 80.6,171.3 80.7,171.4 80.8,171.4 80.9,171.4 81.0,171.4 81.2,171.4 81.3,171.4 81.4,171.4 81.5,171.4 81.6,171.4 81.7,171.2 81.9,171.0 82.0,170.8 82.1,170.7 82.2,170.7 82.3,170.8 82.4,170.8 82.5,170.8 82.7,170.9 82.8,171.0 82.9,171.0 83.0,171.1 83.1,171.0 83.2,170.9 83.4,170.9 83.5,170.8 83.6,171.0 83.7,171.2 83.8,171.4 83.9,171.6 84.0,171.4 84.2,171.3 84.3,171.1 84.4,171.0 84.5,171.2 84.6,171.5 84.7,171.8 84.9,172.1 85.0,171.7 85.1,171.3 85.2,170.8 85.3,170.4 85.4,170.6 85.5,170.8 85.7,171.0 85.8,171.2 85.9,171.2 86.0,171.1 86.1,171.1 86.2,171.1 86.4,171.0 86.5,171.0 86.6,170.9 86.7,170.9 86.8,170.9 86.9,171.0 87.0,171.1 87.2,171.2 87.3,171.2 87.4,171.3 87.5,171.3 87.6,171.3 87.7,171.1 87.9,170.9 88.0,170.7 88.1,170.5 88.2,170.6 88.3,170.8 88.4,170.9 88.5,171.1 88.7,171.3 88.8,171.4 88.9,171.6 89.0,171.7 89.1,171.5 89.2,171.3 89.4,171.1 89.5,170.9 89.6,171.2 89.7,171.5 89.8,171.9 89.9,172.2 90.0,171.7 90.2,171.2 90.3,170.6 90.4,170.1 90.5,170.4 90.6,170.7 90.7,171.0 90.9,171.2 91.0,171.2 91.1,171.2 91.2,171.1 91.3,171.1 91.4,170.7 91.5,170.4 91.7,170.1 91.8,169.7 91.9,169.7 92.0,169.7 92.1,169.8 92.2,169.8 92.4,170.1 92.5,170.4 92.6,170.7 92.7,171.0 92.8,170.9 92.9,170.9 93.0,170.8 93.2,170.7 93.3,170.6 93.4,170.5 93.5,170.5 93.6,170.4 93.7,170.3 93.9,170.2 94.0,170.1 94.1,170.0 94.2,170.3 94.3,170.6 94.4,170.9 94.5,171.1 94.7,171.1 94.8,171.0 94.9,171.0 95.0,171.0 95.1,170.8 95.2,170.6 95.4,170.4 95.5,170.3 95.6,170.4 95.7,170.6 95.8,170.7 95.9,170.9 96.0,170.8 96.2,170.7 96.3,170.6 96.4,170.5 96.5,170.6 96.6,170.6 96.7,170.6 96.9,170.6 97.0,170.9 97.1,171.2 97.2,171.4 97.3,171.7 97.4,171.7 97.5,171.6 97.7,171.6 97.8,171.5 97.9,171.8 98.0,172.1 98.1,172.4 98.2,172.7 98.4,172.3 98.5,171.9 98.6,171.5 98.7,171.1 98.8,170.9 98.9,170.6 99.0,170.4 99.2,170.1 99.3,170.5 99.4,170.9 99.5,171.3 99.6,171.7 99.7,171.3 99.9,170.9 100.0,170.5 100.1,170.2 100.2,170.2 100.3,170.2 100.4,170.3 100.5,170.3 100.7,170.5 100.8,170.6 100.9,170.8 101.0,171.0 101.1,170.9 101.2,170.9 101.4,170.9 101.5,170.9 101.6,170.9 101.7,170.9 101.8,170.9 101.9,170.9 102.4,171.4 102.9,171.1 103.3,170.9 103.8,170.5 104.2,170.3 104.7,171.3 105.2,170.3 105.6,171.3 106.1,170.9 106.5,170.5 107.0,170.8 107.5,170.8 107.9,170.6 108.4,171.1 108.9,171.2 109.3,170.8 109.8,170.0 110.2,170.7 110.7,169.4 111.2,170.5 111.6,172.7 112.1,170.9 112.5,169.5 113.0,170.6 113.5,170.9 113.9,171.2 114.4,169.6 114.9,169.8 115.3,170.1 115.8,170.2 116.2,169.5 116.7,169.9 117.2,171.3 117.6,169.9 118.1,170.3 118.5,170.5 119.0,169.9 119.5,170.4 119.9,172.5 120.4,169.3 120.9,169.6 121.3,170.4 121.8,170.6 122.2,170.1 122.7,171.2 123.2,170.1 123.6,170.4 124.1,170.5 124.6,170.9 125.0,170.7 125.5,169.4 125.9,169.2 126.4,169.8 126.9,170.2 127.3,170.8 127.8,169.6 128.2,169.0 128.7,171.4 129.2,169.3 129.6,171.8 130.1,170.5 130.6,170.0 131.0,171.3 131.5,171.4 131.9,170.2 132.4,169.7 132.9,170.7 133.3,169.4 133.8,170.9 134.2,169.1 134.7,170.3 135.2,170.2 135.6,170.0 136.1,170.2 136.6,169.1 137.0,168.9 137.5,170.1 137.9,170.6 138.4,171.3 138.9,171.0 139.3,170.5 139.8,170.6 140.2,170.6 140.7,170.6 141.2,170.2 141.6,171.5 142.1,171.3 142.6,169.9 143.0,170.1 143.5,171.0 143.9,169.8 144.4,171.1 144.9,170.9 145.3,171.9 145.8,170.2 146.2,170.7 146.7,170.0 147.2,170.3 147.6,170.7 148.1,170.7 148.6,170.0 149.0,170.9 149.5,170.9 149.9,170.8 150.4,170.3 150.9,170.3 151.3,169.6 151.8,170.9 152.2,170.0 152.7,171.3 153.2,170.5 153.6,170.8 154.1,169.8 154.6,170.5 155.0,171.1 155.5,170.5 155.9,170.6 156.4,171.0 156.9,171.0 157.3,171.4 157.8,169.2 158.2,170.8 158.7,170.3 159.2,171.5 159.6,171.5 160.1,170.9 160.6,170.9 161.0,170.4 161.5,171.4 161.9,170.5 162.4,170.0 162.9,171.4 163.3,170.3 163.8,171.4 164.2,170.7 164.7,170.7 165.2,169.9 165.6,171.2 166.1,170.8 166.6,170.3 167.0,171.5 167.5,170.9 167.9,171.3 168.4,171.2 168.9,170.5 169.3,170.5 169.8,169.6 170.2,170.2 170.7,170.2 171.2,170.9 171.6,171.0 172.1,170.8 172.6,172.0 173.0,170.1 173.5,171.2 173.9,171.4 174.4,171.1 174.9,170.5 175.3,170.3 175.8,171.0 176.2,170.7 176.7,170.9 177.2,171.3 177.6,170.8 178.1,170.9 178.6,171.5 179.0,170.4 179.5,171.6 179.9,170.8 180.4,171.3 180.9,171.2 181.3,171.2 181.8,170.6 182.3,171.4 182.7,171.0 183.2,170.3 183.6,171.2 184.1,170.9 184.6,170.6 185.0,171.1 185.5,170.7 185.9,171.1 186.4,170.6 186.9,170.9 187.3,171.3 187.8,170.4 188.3,170.9 188.7,171.0 189.2,171.3 189.6,171.1 190.1,170.9 190.6,170.8 191.0,170.5 191.5,171.4 191.9,171.0 192.4,170.4 192.9,170.8 193.3,170.7 193.8,170.3 194.3,170.8 194.7,170.7 195.2,170.9 195.6,170.2 196.1,170.5 196.6,171.2 197.0,170.7 197.5,171.4 197.9,170.5 198.4,170.7 198.9,171.0 199.3,171.1 199.8,171.6 200.3,170.6 200.7,171.0 201.2,171.0 201.6,170.6 202.1,171.2 202.6,171.1 203.0,171.2 203.5,171.4 203.9,170.0 204.4,171.0 204.9,171.1 205.3,170.6 205.8,172.1 206.3,170.9 206.7,170.9 207.2,171.3 207.6,170.8 208.1,171.7 208.6,170.9 209.0,170.6 209.5,171.8 209.9,171.5 210.4,171.0 210.9,171.0 211.3,171.2 211.8,170.8 212.3,170.9 212.7,171.5 213.2,171.0 213.6,171.5 214.1,171.8 214.6,171.9 215.0,170.6 215.5,171.0 215.9,170.2 216.4,171.6 216.9,171.1 217.3,170.9 217.8,171.1 218.3,170.8 218.7,170.9 219.2,171.2 219.6,171.9 220.1,171.4 220.6,170.3 221.0,170.7 221.5,170.5 221.9,171.2 222.4,171.1 222.9,171.3 223.3,170.8 223.8,171.0 224.3,170.8 224.7,170.3 225.2,171.3 225.6,170.7 226.1,171.5 226.6,170.6 227.0,171.2 227.5,171.0 227.9,170.9 228.4,170.4 228.9,171.0 229.3,171.2 229.8,171.5 230.3,170.9 230.7,171.3 231.2,171.2 231.6,171.0 232.1,170.7 232.6,171.3 233.0,170.7 233.5,170.3 233.9,171.6 234.4,170.5 234.9,170.2 235.3,171.2 235.8,170.8 236.3,171.5 236.7,170.9 237.2,171.1 237.6,170.9 238.1,171.4 238.6,171.3 239.0,171.2 239.5,171.3 240.0,171.3 240.4,171.1 240.9,171.4 241.3,171.1 241.8,170.8 242.3,171.9 242.7,170.9 243.2,171.3 243.6,171.5 244.1,171.5 244.6,171.4 245.0,171.3 245.5,170.9 246.0,171.5 246.4,170.6 246.9,171.3 247.3,170.8 247.8,170.6 248.3,171.5 248.7,170.6 249.2,170.2 249.6,171.2 250.1,170.8 250.6,171.1 251.0,171.0 251.5,171.1 252.0,171.2 252.4,170.7 252.9,170.7 253.3,171.0 253.8,170.4 254.3,170.6 254.7,170.7 255.2,171.3 255.6,170.3 256.1,170.5 256.6,171.8 257.0,171.4 257.5,171.2 258.0,170.6 258.4,170.5 258.9,171.1 259.3,170.9 259.8,170.7 260.3,171.5 260.7,170.8 261.2,171.1 261.6,170.9 262.1,171.0 262.6,171.4 263.0,171.4 263.5,171.0 264.0,170.9 264.4,171.1 264.9,170.6 265.3,171.1 265.8,171.5" fill="none" stroke="#00ff00" stroke-width="1.5" stroke-linejoin="round"/>
<path d="M64.8 169.0L67.7 174.5L64.8 180.0L61.9 174.5Z" fill="#00ff00"/>
<path d="M78.4 169.0L81.3 174.5L78.4 180.0L75.5 174.5Z" fill="#0000ff"/>
<path d="M84.2 169.0L87.1 174.5L84.2 180.0L81.3 174.5Z" fill="#000000"/>
<path d="M92.5 169.0L95.4 174.5L92.5 180.0L89.6 174.5Z" fill="#ff0000"/>
<text x="35.0" y="188.5" text-anchor="middle" class="t">0</text>
<text x="81.2" y="188.5" text-anchor="middle" class="t">2</text>
<text x="127.3" y="188.5" text-anchor="middle" class="t">4</text>
<text x="173.5" y="188.5" text-anchor="middle" class="t">6</text>
<text x="219.6" y="188.5" text-anchor="middle" class="t">8</text>
<text x="265.8" y="188.5" text-anchor="middle" class="t">10</text>
<text x="30.0" y="178.7" text-anchor="end" class="t">0</text>
<text x="30.0" y="155.5" text-anchor="end" class="t">5</text>
<text x="30.0" y="132.3" text-anchor="end" class="t">10</text>
<text x="30.0" y="109.1" text-anchor="end" class="t">15</text>
<text x="30.0" y="85.8" text-anchor="end" class="t">20</text>
<text x="30.0" y="62.6" text-anchor="end" class="t">25</text>
<text x="30.0" y="39.4" text-anchor="end" class="t">30</text>
<text x="30.0" y="16.2" text-anchor="end" class="t">35</text>
<text x="150.4" y="197.5" text-anchor="middle" class="ax">Distance (Å)</text>
<text transform="translate(14.6,88.8) rotate(-90)" text-anchor="middle" class="gr">g(r)</text>
<text x="4.5" y="17.6" class="pl">(a)</text>
<line x1="201.3" y1="24.4" x2="224.3" y2="24.4" stroke="#000000" stroke-width="1.5"/>
<text x="226.3" y="27.9" class="lg">Al-O</text>
<line x1="201.3" y1="36.5" x2="224.3" y2="36.5" stroke="#ff0000" stroke-width="1.5"/>
<text x="226.3" y="40.0" class="lg">Fe-O</text>
<line x1="201.3" y1="48.6" x2="224.3" y2="48.6" stroke="#0000ff" stroke-width="1.5"/>
<text x="226.3" y="52.1" class="lg">Si-O</text>
<line x1="201.3" y1="60.7" x2="224.3" y2="60.7" stroke="#00ff00" stroke-width="1.5"/>
<text x="226.3" y="64.2" class="lg">H-O</text>
<rect x="309.6" y="13.0" width="230.9" height="162.5" fill="none" stroke="#333" stroke-width="1.3"/>
<path d="M309.6 175.5v3 M332.7 175.5v1.8 M355.8 175.5v3 M378.9 175.5v1.8 M402.0 175.5v3 M425.1 175.5v1.8 M448.1 175.5v3 M471.2 175.5v1.8 M494.3 175.5v3 M517.4 175.5v1.8 M540.5 175.5v3 M309.6 175.5h-3 M309.6 163.9h-1.8 M309.6 152.3h-3 M309.6 140.7h-1.8 M309.6 129.1h-3 M309.6 117.5h-1.8 M309.6 105.9h-3 M309.6 94.2h-1.8 M309.6 82.6h-3 M309.6 71.0h-1.8 M309.6 59.4h-3 M309.6 47.8h-1.8 M309.6 36.2h-3 M309.6 24.6h-1.8 M309.6 13.0h-3" stroke="#333" stroke-width="1.1" fill="none"/>
<polyline points="309.6,175.5 310.8,175.5 311.9,175.5 313.1,175.5 314.2,175.5 315.4,175.5 316.5,175.5 317.7,175.5 318.8,175.5 320.0,175.5 321.1,175.5 322.3,175.5 323.5,175.5 324.6,175.5 325.8,175.5 325.9,175.5 326.0,175.5 326.1,175.5 326.2,175.5 326.3,175.5 326.5,175.5 326.6,175.5 326.7,175.5 326.8,175.5 326.9,175.5 327.0,175.5 327.1,175.5 327.3,175.5 327.4,175.5 327.5,175.5 327.6,175.5 327.7,175.5 327.8,175.5 328.0,175.5 328.1,175.5 328.2,175.5 328.3,175.5 328.4,175.5 328.5,175.5 328.6,175.5 328.8,175.5 328.9,175.5 329.0,175.5 329.1,175.5 329.2,175.5 329.3,175.5 329.5,175.5 329.6,175.5 329.7,175.5 329.8,175.5 329.9,175.5 330.0,175.5 330.2,175.5 330.3,175.5 330.4,175.5 330.5,175.5 330.6,175.5 330.7,175.5 330.8,175.5 331.0,175.5 331.1,175.5 331.2,175.5 331.3,175.5 331.4,175.5 331.5,175.5 331.7,175.5 331.8,175.5 331.9,175.5 332.0,175.5 332.1,175.5 332.2,175.5 332.3,175.5 332.5,175.5 332.6,175.5 332.7,175.5 332.8,175.5 332.9,175.5 333.0,175.5 333.2,175.5 333.3,175.5 333.4,175.5 333.5,175.5 333.6,175.5 333.7,175.5 333.8,175.5 334.0,175.5 334.1,175.5 334.2,175.5 334.3,175.5 334.4,175.5 334.5,175.5 334.7,175.5 334.8,175.5 334.9,175.5 335.0,175.5 335.1,175.5 335.2,175.5 335.3,175.5 335.5,175.5 335.6,175.5 335.7,175.5 335.8,175.5 335.9,175.5 336.0,175.5 336.2,175.5 336.3,175.5 336.4,175.5 336.5,175.5 336.6,175.5 336.7,175.5 336.8,175.5 337.0,175.5 337.1,175.5 337.2,175.5 337.3,175.5 337.4,175.5 337.5,175.5 337.7,175.5 337.8,175.5 337.9,175.5 338.0,175.5 338.1,175.5 338.2,175.5 338.3,175.5 338.5,175.5 338.6,175.5 338.7,175.5 338.8,175.5 338.9,175.5 339.0,175.5 339.2,175.5 339.3,175.5 339.4,175.5 339.5,175.5 339.6,175.5 339.7,175.5 339.8,175.5 340.0,175.5 340.1,175.5 340.2,175.5 340.3,175.5 340.4,175.5 340.5,175.5 340.7,175.5 340.8,175.5 340.9,175.5 341.0,175.5 341.1,175.5 341.2,175.5 341.3,175.5 341.5,175.5 341.6,175.5 341.7,175.5 341.8,175.5 341.9,175.5 342.0,175.5 342.2,175.5 342.3,175.5 342.4,175.5 342.5,175.5 342.6,175.5 342.7,175.5 342.8,175.5 343.0,175.5 343.1,175.5 343.2,175.5 343.3,175.5 343.4,175.5 343.5,175.5 343.7,175.5 343.8,175.5 343.9,175.5 344.0,175.5 344.1,175.5 344.2,175.5 344.4,175.5 344.5,175.5 344.6,175.5 344.7,175.5 344.8,175.5 344.9,175.5 345.0,175.5 345.2,175.5 345.3,175.5 345.4,175.5 345.5,175.5 345.6,175.5 345.7,175.5 345.9,175.5 346.0,175.5 346.1,175.5 346.2,175.5 346.3,175.5 346.4,175.5 346.5,175.5 346.7,175.5 346.8,175.5 346.9,175.5 347.0,175.5 347.1,175.5 347.2,175.5 347.4,175.4 347.5,175.4 347.6,175.3 347.7,175.2 347.8,175.0 347.9,174.7 348.0,174.2 348.2,173.6 348.3,172.7 348.4,171.5 348.5,169.9 348.6,167.9 348.7,165.3 348.9,162.0 349.0,158.1 349.1,153.5 349.2,148.2 349.3,142.4 349.4,136.1 349.5,129.6 349.7,123.1 349.8,116.9 349.9,111.2 350.0,106.5 350.1,102.8 350.2,100.6 350.4,99.8 350.5,100.9 350.6,103.9 350.7,108.7 350.8,114.9 350.9,122.0 351.0,129.6 351.2,137.2 351.3,131.2 351.4,125.3 351.5,120.2 351.6,116.2 351.7,113.7 351.9,112.8 352.0,113.2 352.1,114.4 352.2,116.2 352.3,118.7 352.4,121.8 352.5,125.3 352.7,129.2 352.8,133.3 352.9,137.5 353.0,141.7 353.1,145.8 353.2,149.7 353.4,153.4 353.5,156.8 353.6,159.9 353.7,162.6 353.8,165.0 353.9,167.0 354.0,168.7 354.2,170.2 354.3,171.4 354.4,172.3 354.5,173.1 354.6,173.7 354.7,174.2 354.9,174.5 355.0,174.8 355.1,175.0 355.2,175.2 355.3,175.3 355.4,175.3 355.5,175.4 355.7,175.4 355.8,175.5 355.9,175.5 356.0,175.5 356.1,175.5 356.2,175.5 356.4,175.5 356.5,175.5 356.6,175.5 356.7,175.5 356.8,175.5 356.9,175.5 357.0,175.5 357.2,175.5 357.3,175.5 357.4,175.5 357.5,175.5 357.6,175.5 357.7,175.5 357.9,175.5 358.0,175.5 358.1,175.5 358.2,175.5 358.3,175.5 358.4,175.5 358.6,175.5 358.7,175.5 358.8,175.5 358.9,175.5 359.0,175.5 359.1,175.5 359.2,175.5 359.4,175.5 359.5,175.5 359.6,175.5 359.7,175.5 359.8,175.5 359.9,175.5 360.1,175.5 360.2,175.5 360.3,175.5 360.4,175.5 360.5,175.5 360.6,175.4 360.7,175.4 360.9,175.4 361.0,175.3 361.1,175.3 361.2,175.2 361.3,175.2 361.4,175.2 361.6,175.2 361.7,175.1 361.8,175.1 361.9,175.1 362.0,175.1 362.1,175.1 362.2,175.0 362.4,175.0 362.5,175.0 362.6,175.0 362.7,175.0 362.8,174.9 362.9,174.8 363.1,174.7 363.2,174.6 363.3,174.6 363.4,174.5 363.5,174.4 363.6,174.4 363.7,174.4 363.9,174.5 364.0,174.5 364.1,174.6 364.2,174.6 364.3,174.5 364.4,174.5 364.6,174.5 364.7,174.4 364.8,174.3 364.9,174.3 365.0,174.2 365.1,174.2 365.2,174.2 365.4,174.2 365.5,174.3 365.6,174.2 365.7,174.2 365.8,174.1 365.9,174.1 366.1,174.0 366.2,174.0 366.3,174.0 366.4,174.0 366.5,173.9 366.6,173.8 366.7,173.8 366.9,173.7 367.0,173.6 367.1,173.6 367.2,173.5 367.3,173.4 367.4,173.4 367.6,173.5 367.7,173.5 367.8,173.6 367.9,173.5 368.0,173.5 368.1,173.4 368.2,173.4 368.4,173.4 368.5,173.5 368.6,173.6 368.7,173.6 368.8,173.6 368.9,173.5 369.1,173.5 369.2,173.4 369.3,173.6 369.4,173.7 369.5,173.8 369.6,174.0 369.7,173.9 369.9,173.9 370.0,173.8 370.1,173.8 370.2,173.6 370.3,173.5 370.4,173.3 370.6,173.2 370.7,173.3 370.8,173.3 370.9,173.4 371.0,173.5 371.1,173.4 371.3,173.3 371.4,173.2 371.5,173.2 371.6,173.1 371.7,173.1 371.8,173.1 371.9,173.1 372.1,173.1 372.2,173.0 372.3,172.9 372.4,172.9 372.5,172.9 372.6,172.9 372.8,172.9 372.9,173.0 373.0,172.9 373.1,172.9 373.2,172.9 373.3,172.9 373.4,172.9 373.6,173.0 373.7,173.1 373.8,173.2 373.9,173.2 374.0,173.2 374.1,173.3 374.3,173.3 374.4,173.3 374.5,173.3 374.6,173.3 374.7,173.3 374.8,173.2 374.9,173.2 375.1,173.2 375.2,173.2 375.3,173.2 375.4,173.2 375.5,173.3 375.6,173.3 375.8,173.3 375.9,173.2 376.0,173.2 376.1,173.1 376.2,173.1 376.3,173.0 376.4,173.0 376.6,172.9 377.0,172.8 377.5,172.9 377.9,173.4 378.4,172.8 378.9,172.6 379.3,172.2 379.8,172.3 380.3,172.6 380.7,172.6 381.2,171.4 381.6,171.8 382.1,171.2 382.6,170.9 383.0,172.1 383.5,171.5 383.9,171.3 384.4,171.1 384.9,171.0 385.3,171.1 385.8,171.0 386.3,171.8 386.7,171.0 387.2,171.2 387.6,170.6 388.1,170.8 388.6,170.1 389.0,169.8 389.5,170.0 390.0,169.9 390.4,169.9 390.9,170.2 391.3,169.9 391.8,170.0 392.3,169.3 392.7,169.5 393.2,169.0 393.6,170.1 394.1,168.5 394.6,169.5 395.0,169.4 395.5,168.9 396.0,169.0 396.4,168.3 396.9,168.8 397.3,169.0 397.8,168.8 398.3,167.2 398.7,167.9 399.2,168.6 399.7,167.7 400.1,168.6 400.6,166.3 401.0,168.4 401.5,166.9 402.0,166.8 402.4,168.2 402.9,167.2 403.3,166.8 403.8,167.3 404.3,167.5 404.7,167.2 405.2,167.8 405.7,167.8 406.1,168.3 406.6,167.9 407.0,169.0 407.5,168.0 408.0,169.0 408.4,169.5 408.9,168.6 409.3,167.9 409.8,168.5 410.3,169.6 410.7,168.9 411.2,169.8 411.7,169.6 412.1,169.5 412.6,171.2 413.0,169.6 413.5,170.5 414.0,170.3 414.4,170.9 414.9,171.0 415.4,170.6 415.8,169.5 416.3,169.1 416.7,170.2 417.2,169.6 417.7,170.5 418.1,171.6 418.6,170.4 419.0,170.3 419.5,170.8 420.0,170.5 420.4,170.4 420.9,171.3 421.4,171.7 421.8,171.0 422.3,171.1 422.7,171.2 423.2,170.5 423.7,170.2 424.1,171.4 424.6,170.9 425.1,170.8 425.5,171.0 426.0,170.8 426.4,171.5 426.9,170.9 427.4,170.2 427.8,170.8 428.3,171.5 428.7,170.9 429.2,170.6 429.7,171.0 430.1,171.4 430.6,170.4 431.1,171.7 431.5,170.9 432.0,171.1 432.4,171.7 432.9,170.5 433.4,170.9 433.8,171.6 434.3,170.8 434.7,171.2 435.2,171.9 435.7,171.3 436.1,170.9 436.6,170.7 437.1,170.9 437.5,170.9 438.0,170.7 438.4,171.0 438.9,170.4 439.4,170.8 439.8,170.7 440.3,170.6 440.8,171.3 441.2,171.2 441.7,170.1 442.1,170.7 442.6,170.9 443.1,170.6 443.5,171.0 444.0,170.6 444.4,171.0 444.9,170.6 445.4,171.4 445.8,170.1 446.3,170.9 446.8,171.4 447.2,170.7 447.7,170.8 448.1,170.6 448.6,171.1 449.1,170.5 449.5,169.1 450.0,171.2 450.4,170.5 450.9,170.8 451.4,170.6 451.8,171.4 452.3,171.1 452.8,170.5 453.2,170.7 453.7,170.0 454.1,170.9 454.6,170.6 455.1,169.5 455.5,170.9 456.0,171.0 456.5,170.7 456.9,170.7 457.4,170.3 457.8,170.6 458.3,170.9 458.8,170.6 459.2,169.7 459.7,170.2 460.1,171.6 460.6,170.7 461.1,171.0 461.5,170.4 462.0,170.7 462.5,170.0 462.9,170.3 463.4,170.4 463.8,170.6 464.3,170.7 464.8,170.5 465.2,170.2 465.7,170.5 466.2,170.8 466.6,170.2 467.1,170.6 467.5,170.7 468.0,170.9 468.5,170.9 468.9,170.9 469.4,171.6 469.8,170.3 470.3,170.5 470.8,170.8 471.2,170.3 471.7,170.5 472.2,170.6 472.6,171.5 473.1,170.8 473.5,170.5 474.0,170.1 474.5,170.1 474.9,170.2 475.4,171.1 475.8,171.5 476.3,170.5 476.8,170.7 477.2,170.4 477.7,170.7 478.2,170.6 478.6,171.2 479.1,170.5 479.5,170.9 480.0,170.6 480.5,170.5 480.9,170.7 481.4,170.6 481.9,170.7 482.3,170.4 482.8,170.5 483.2,170.9 483.7,170.9 484.2,170.1 484.6,170.8 485.1,170.4 485.5,170.6 486.0,170.9 486.5,171.0 486.9,170.7 487.4,170.6 487.9,170.5 488.3,171.2 488.8,170.9 489.2,170.8 489.7,170.2 490.2,171.5 490.6,170.6 491.1,170.9 491.5,170.6 492.0,170.9 492.5,170.6 492.9,170.2 493.4,170.6 493.9,170.6 494.3,170.6 494.8,171.0 495.2,170.6 495.7,170.8 496.2,171.0 496.6,170.8 497.1,170.8 497.6,170.5 498.0,170.8 498.5,170.9 498.9,170.3 499.4,170.4 499.9,170.3 500.3,170.5 500.8,170.8 501.2,170.9 501.7,170.9 502.2,170.4 502.6,170.7 503.1,171.3 503.6,170.8 504.0,171.2 504.5,170.7 504.9,171.2 505.4,171.2 505.9,170.7 506.3,170.8 506.8,171.3 507.3,170.5 507.7,170.0 508.2,171.3 508.6,170.2 509.1,171.0 509.6,170.9 510.0,170.8 510.5,171.3 510.9,170.3 511.4,170.6 511.9,171.0 512.3,170.9 512.8,171.3 513.3,170.9 513.7,170.5 514.2,171.4 514.6,170.9 515.1,170.7 515.6,170.4 516.0,170.3 516.5,171.0 516.9,171.0 517.4,170.6 517.9,170.9 518.3,170.9 518.8,170.4 519.3,170.2 519.7,170.7 520.2,170.9 520.6,170.6 521.1,171.4 521.6,170.8 522.0,171.2 522.5,170.0 523.0,170.6 523.4,170.8 523.9,170.9 524.3,171.7 524.8,170.6 525.3,170.3 525.7,171.1 526.2,170.6 526.6,170.6 527.1,171.3 527.6,170.5 528.0,170.4 528.5,170.8 529.0,170.8 529.4,170.6 529.9,171.3 530.3,170.8 530.8,170.5 531.3,171.3 531.7,170.5 532.2,171.0 532.6,171.5 533.1,170.9 533.6,171.2 534.0,170.7 534.5,171.2 535.0,170.5 535.4,171.1 535.9,170.7 536.3,171.0 536.8,171.0 537.3,170.4 537.7,170.8 538.2,171.0 538.7,171.3 539.1,170.5 539.6,170.6 540.0,171.0 540.5,170.8" fill="none" stroke="#000000" stroke-width="1.5" stroke-linejoin="round"/>
<polyline points="309.6,175.5 310.8,175.5 311.9,175.5 313.1,175.5 314.2,175.5 315.4,175.5 316.5,175.5 317.7,175.5 318.8,175.5 320.0,175.5 321.1,175.5 322.3,175.5 323.5,175.5 324.6,175.5 325.8,175.5 325.9,175.5 326.0,175.5 326.1,175.5 326.2,175.5 326.3,175.5 326.5,175.5 326.6,175.5 326.7,175.5 326.8,175.5 326.9,175.5 327.0,175.5 327.1,175.5 327.3,175.5 327.4,175.5 327.5,175.5 327.6,175.5 327.7,175.5 327.8,175.5 328.0,175.5 328.1,175.5 328.2,175.5 328.3,175.5 328.4,175.5 328.5,175.5 328.6,175.5 328.8,175.5 328.9,175.5 329.0,175.5 329.1,175.5 329.2,175.5 329.3,175.5 329.5,175.5 329.6,175.5 329.7,175.5 329.8,175.5 329.9,175.5 330.0,175.5 330.2,175.5 330.3,175.5 330.4,175.5 330.5,175.5 330.6,175.5 330.7,175.5 330.8,175.5 331.0,175.5 331.1,175.5 331.2,175.5 331.3,175.5 331.4,175.5 331.5,175.5 331.7,175.5 331.8,175.5 331.9,175.5 332.0,175.5 332.1,175.5 332.2,175.5 332.3,175.5 332.5,175.5 332.6,175.5 332.7,175.5 332.8,175.5 332.9,175.5 333.0,175.5 333.2,175.5 333.3,175.5 333.4,175.5 333.5,175.5 333.6,175.5 333.7,175.5 333.8,175.5 334.0,175.5 334.1,175.5 334.2,175.5 334.3,175.5 334.4,175.5 334.5,175.5 334.7,175.5 334.8,175.5 334.9,175.5 335.0,175.5 335.1,175.5 335.2,175.5 335.3,175.5 335.5,175.5 335.6,175.5 335.7,175.5 335.8,175.5 335.9,175.5 336.0,175.5 336.2,175.5 336.3,175.5 336.4,175.5 336.5,175.5 336.6,175.5 336.7,175.5 336.8,175.5 337.0,175.5 337.1,175.5 337.2,175.5 337.3,175.5 337.4,175.5 337.5,175.5 337.7,175.5 337.8,175.5 337.9,175.5 338.0,175.5 338.1,175.5 338.2,175.5 338.3,175.5 338.5,175.5 338.6,175.5 338.7,175.5 338.8,175.5 338.9,175.5 339.0,175.5 339.2,175.5 339.3,175.5 339.4,175.5 339.5,175.5 339.6,175.5 339.7,175.5 339.8,175.5 340.0,175.5 340.1,175.5 340.2,175.5 340.3,175.5 340.4,175.5 340.5,175.5 340.7,175.5 340.8,175.5 340.9,175.5 341.0,175.5 341.1,175.5 341.2,175.5 341.3,175.5 341.5,175.5 341.6,175.5 341.7,175.5 341.8,175.5 341.9,175.5 342.0,175.5 342.2,175.5 342.3,175.5 342.4,175.5 342.5,175.5 342.6,175.5 342.7,175.5 342.8,175.5 343.0,175.5 343.1,175.5 343.2,175.5 343.3,175.5 343.4,175.5 343.5,175.5 343.7,175.5 343.8,175.5 343.9,175.5 344.0,175.5 344.1,175.5 344.2,175.5 344.4,175.5 344.5,175.5 344.6,175.5 344.7,175.5 344.8,175.5 344.9,175.5 345.0,175.5 345.2,175.5 345.3,175.5 345.4,175.5 345.5,175.5 345.6,175.5 345.7,175.5 345.9,175.5 346.0,175.5 346.1,175.5 346.2,175.5 346.3,175.5 346.4,175.5 346.5,175.5 346.7,175.5 346.8,175.5 346.9,175.5 347.0,175.5 347.1,175.5 347.2,175.5 347.4,175.5 347.5,175.5 347.6,175.5 347.7,175.5 347.8,175.5 347.9,175.5 348.0,175.5 348.2,175.5 348.3,175.5 348.4,175.5 348.5,175.5 348.6,175.5 348.7,175.4 348.9,175.4 349.0,175.4 349.1,175.3 349.2,175.3 349.3,175.1 349.4,175.0 349.5,174.7 349.7,174.4 349.8,174.1 349.9,173.5 350.0,172.9 350.1,172.1 350.2,171.0 350.4,169.8 350.5,168.4 350.6,166.7 350.7,164.8 350.8,162.7 350.9,160.4 351.0,158.0 351.2,155.5 351.3,153.0 351.4,150.6 351.5,148.4 351.6,146.4 351.7,144.8 351.9,143.5 352.0,142.8 352.1,142.5 352.2,142.7 352.3,143.2 352.4,144.0 352.5,145.1 352.7,146.4 352.8,146.7 352.9,146.7 353.0,146.7 353.1,146.7 353.2,146.7 353.4,146.7 353.5,146.7 353.6,146.7 353.7,146.7 353.8,146.7 353.9,146.7 354.0,146.7 354.2,146.7 354.3,146.7 354.4,146.8 354.5,146.9 354.6,147.1 354.7,147.3 354.9,147.6 355.0,147.9 355.1,148.3 355.2,148.7 355.3,149.1 355.4,149.6 355.5,150.1 355.7,150.6 355.8,151.2 355.9,151.8 356.0,152.5 356.1,153.1 356.2,153.8 356.4,154.5 356.5,155.2 356.6,155.9 356.7,156.6 356.8,157.3 356.9,158.0 357.0,158.8 357.2,159.5 357.3,160.2 357.4,160.9 357.5,161.6 357.6,162.3 357.7,163.0 357.9,163.7 358.0,164.3 358.1,164.9 358.2,165.6 358.3,166.2 358.4,166.7 358.6,167.3 358.7,167.8 358.8,168.3 358.9,168.8 359.0,169.3 359.1,169.7 359.2,170.1 359.4,170.5 359.5,170.9 359.6,171.3 359.7,171.6 359.8,171.9 359.9,172.2 360.1,172.5 360.2,172.7 360.3,173.0 360.4,173.2 360.5,173.4 360.6,173.6 360.7,173.8 360.9,173.9 361.0,174.1 361.1,174.2 361.2,174.4 361.3,174.5 361.4,174.6 361.6,174.7 361.7,174.7 361.8,174.8 361.9,174.8 362.0,174.9 362.1,174.9 362.2,175.0 362.4,175.0 362.5,175.0 362.6,175.0 362.7,174.9 362.8,174.9 362.9,175.0 363.1,175.0 363.2,175.0 363.3,174.9 363.4,174.9 363.5,174.9 363.6,174.9 363.7,174.9 363.9,174.9 364.0,174.9 364.1,174.9 364.2,174.9 364.3,174.9 364.4,174.9 364.6,174.9 364.7,174.8 364.8,174.7 364.9,174.7 365.0,174.6 365.1,174.6 365.2,174.6 365.4,174.5 365.5,174.5 365.6,174.5 365.7,174.5 365.8,174.6 365.9,174.6 366.1,174.6 366.2,174.6 366.3,174.6 366.4,174.6 366.5,174.5 366.6,174.4 366.7,174.3 366.9,174.2 367.0,174.2 367.1,174.2 367.2,174.2 367.3,174.2 367.4,174.1 367.6,173.9 367.7,173.8 367.8,173.6 367.9,173.7 368.0,173.8 368.1,174.0 368.2,174.1 368.4,174.0 368.5,174.0 368.6,174.0 368.7,174.0 368.8,173.9 368.9,173.9 369.1,173.8 369.2,173.8 369.3,173.8 369.4,173.9 369.5,173.9 369.6,174.0 369.7,174.0 369.9,173.9 370.0,173.9 370.1,173.8 370.2,173.6 370.3,173.5 370.4,173.3 370.6,173.2 370.7,173.3 370.8,173.3 370.9,173.4 371.0,173.5 371.1,173.6 371.3,173.6 371.4,173.6 371.5,173.6 371.6,173.6 371.7,173.7 371.8,173.7 371.9,173.7 372.1,173.6 372.2,173.5 372.3,173.3 372.4,173.2 372.5,173.2 372.6,173.2 372.8,173.2 372.9,173.1 373.0,173.2 373.1,173.2 373.2,173.2 373.3,173.2 373.4,173.2 373.6,173.3 373.7,173.3 373.8,173.3 373.9,173.3 374.0,173.2 374.1,173.2 374.3,173.1 374.4,173.1 374.5,173.1 374.6,173.0 374.7,173.0 374.8,173.1 374.9,173.2 375.1,173.2 375.2,173.3 375.3,173.2 375.4,173.1 375.5,173.0 375.6,172.9 375.8,173.0 375.9,173.2 376.0,173.4 376.1,173.6 376.2,173.6 376.3,173.5 376.4,173.4 376.6,173.3 377.0,173.0 377.5,172.9 377.9,173.2 378.4,172.7 378.9,172.4 379.3,172.5 379.8,172.5 380.3,172.3 380.7,172.4 381.2,172.9 381.6,172.5 382.1,171.9 382.6,172.8 383.0,172.3 383.5,172.4 383.9,172.5 384.4,172.5 384.9,172.0 385.3,171.8 385.8,171.7 386.3,172.4 386.7,171.8 387.2,171.5 387.6,171.1 388.1,171.2 388.6,171.0 389.0,170.8 389.5,170.8 390.0,171.6 390.4,171.1 390.9,171.4 391.3,172.2 391.8,171.8 392.3,169.6 392.7,171.3 393.2,171.9 393.6,170.9 394.1,169.6 394.6,170.4 395.0,170.1 395.5,170.4 396.0,170.2 396.4,169.3 396.9,169.5 397.3,170.0 397.8,169.3 398.3,169.2 398.7,170.0 399.2,169.7 399.7,169.7 400.1,170.3 400.6,169.0 401.0,169.9 401.5,170.2 402.0,170.9 402.4,170.6 402.9,168.7 403.3,170.4 403.8,169.4 404.3,169.9 404.7,169.3 405.2,169.2 405.7,170.1 406.1,169.8 406.6,169.5 407.0,169.5 407.5,169.5 408.0,169.7 408.4,169.1 408.9,168.6 409.3,169.1 409.8,169.9 410.3,169.1 410.7,169.3 411.2,169.0 411.7,168.0 412.1,169.3 412.6,169.2 413.0,169.7 413.5,169.3 414.0,169.4 414.4,167.9 414.9,168.8 415.4,169.3 415.8,167.6 416.3,169.8 416.7,168.3 417.2,168.1 417.7,168.4 418.1,168.9 418.6,168.8 419.0,168.9 419.5,168.1 420.0,170.1 420.4,168.9 420.9,168.6 421.4,169.2 421.8,170.1 422.3,169.2 422.7,169.6 423.2,168.7 423.7,168.4 424.1,169.4 424.6,170.9 425.1,169.8 425.5,170.4 426.0,169.5 426.4,169.0 426.9,170.0 427.4,169.0 427.8,169.5 428.3,170.1 428.7,171.1 429.2,170.6 429.7,171.6 430.1,170.2 430.6,170.7 431.1,170.1 431.5,170.6 432.0,171.8 432.4,170.4 432.9,170.3 433.4,169.9 433.8,171.2 434.3,171.2 434.7,170.7 435.2,171.2 435.7,171.4 436.1,171.2 436.6,169.4 437.1,171.0 437.5,171.2 438.0,170.9 438.4,170.7 438.9,170.0 439.4,170.2 439.8,170.3 440.3,170.6 440.8,170.6 441.2,170.9 441.7,171.3 442.1,169.7 442.6,170.8 443.1,170.1 443.5,170.7 444.0,170.6 444.4,170.7 444.9,171.2 445.4,170.6 445.8,170.4 446.3,170.2 446.8,170.3 447.2,170.1 447.7,170.4 448.1,170.5 448.6,171.4 449.1,170.7 449.5,169.9 450.0,170.5 450.4,170.2 450.9,170.6 451.4,170.8 451.8,169.6 452.3,170.3 452.8,169.9 453.2,170.2 453.7,170.6 454.1,171.3 454.6,170.4 455.1,171.1 455.5,171.3 456.0,169.9 456.5,170.1 456.9,170.2 457.4,170.4 457.8,170.4 458.3,170.2 458.8,170.3 459.2,170.3 459.7,170.1 460.1,171.3 460.6,170.0 461.1,170.6 461.5,170.1 462.0,169.9 462.5,170.7 462.9,170.1 463.4,170.1 463.8,170.7 464.3,170.6 464.8,170.4 465.2,171.2 465.7,170.6 466.2,170.4 466.6,170.6 467.1,171.0 467.5,170.6 468.0,169.9 468.5,170.0 468.9,170.5 469.4,170.7 469.8,170.5 470.3,170.4 470.8,170.7 471.2,170.6 471.7,170.2 472.2,170.1 472.6,171.3 473.1,170.1 473.5,170.4 474.0,170.1 474.5,170.5 474.9,170.3 475.4,169.9 475.8,171.6 476.3,169.9 476.8,170.4 477.2,171.1 477.7,171.5 478.2,170.4 478.6,170.9 479.1,170.1 479.5,170.4 480.0,170.6 480.5,170.2 480.9,170.4 481.4,170.3 481.9,170.2 482.3,170.4 482.8,170.2 483.2,170.2 483.7,171.0 484.2,170.6 484.6,170.6 485.1,170.7 485.5,171.1 486.0,170.7 486.5,170.4 486.9,170.5 487.4,170.0 487.9,170.8 488.3,170.7 488.8,170.8 489.2,170.7 489.7,170.8 490.2,171.2 490.6,170.4 491.1,170.2 491.5,170.2 492.0,171.0 492.5,170.6 492.9,169.9 493.4,170.6 493.9,170.5 494.3,170.6 494.8,170.2 495.2,170.3 495.7,169.8 496.2,170.4 496.6,170.4 497.1,171.0 497.6,170.8 498.0,170.9 498.5,170.7 498.9,171.1 499.4,170.2 499.9,171.0 500.3,170.5 500.8,171.1 501.2,170.5 501.7,170.1 502.2,170.9 502.6,170.5 503.1,170.7 503.6,170.5 504.0,170.5 504.5,170.9 504.9,170.7 505.4,170.9 505.9,170.9 506.3,171.1 506.8,170.3 507.3,170.9 507.7,170.4 508.2,170.5 508.6,171.0 509.1,170.3 509.6,171.0 510.0,170.5 510.5,170.2 510.9,170.9 511.4,171.0 511.9,171.0 512.3,169.9 512.8,170.8 513.3,171.1 513.7,170.4 514.2,170.8 514.6,170.7 515.1,171.1 515.6,171.5 516.0,171.0 516.5,171.1 516.9,171.3 517.4,171.1 517.9,171.1 518.3,170.5 518.8,170.5 519.3,170.6 519.7,170.9 520.2,171.2 520.6,170.6 521.1,170.6 521.6,170.4 522.0,170.8 522.5,170.8 523.0,170.7 523.4,171.1 523.9,171.0 524.3,170.5 524.8,171.2 525.3,170.8 525.7,170.5 526.2,170.7 526.6,170.6 527.1,171.2 527.6,170.8 528.0,170.9 528.5,170.6 529.0,170.6 529.4,170.8 529.9,170.2 530.3,170.6 530.8,170.9 531.3,171.0 531.7,170.8 532.2,171.0 532.6,170.3 533.1,170.6 533.6,170.9 534.0,171.0 534.5,171.2 535.0,170.9 535.4,170.4 535.9,170.5 536.3,170.8 536.8,170.8 537.3,171.5 537.7,170.6 538.2,170.9 538.7,170.4 539.1,170.9 539.6,171.0 540.0,170.8 540.5,171.1" fill="none" stroke="#ff0000" stroke-width="1.5" stroke-linejoin="round"/>
<polyline points="309.6,175.5 310.8,175.5 311.9,175.5 313.1,175.5 314.2,175.5 315.4,175.5 316.5,175.5 317.7,175.5 318.8,175.5 320.0,175.5 321.1,175.5 322.3,175.5 323.5,175.5 324.6,175.5 325.8,175.5 325.9,175.5 326.0,175.5 326.1,175.5 326.2,175.5 326.3,175.5 326.5,175.5 326.6,175.5 326.7,175.5 326.8,175.5 326.9,175.5 327.0,175.5 327.1,175.5 327.3,175.5 327.4,175.5 327.5,175.5 327.6,175.5 327.7,175.5 327.8,175.5 328.0,175.5 328.1,175.5 328.2,175.5 328.3,175.5 328.4,175.5 328.5,175.5 328.6,175.5 328.8,175.5 328.9,175.5 329.0,175.5 329.1,175.5 329.2,175.5 329.3,175.5 329.5,175.5 329.6,175.5 329.7,175.5 329.8,175.5 329.9,175.5 330.0,175.5 330.2,175.5 330.3,175.5 330.4,175.5 330.5,175.5 330.6,175.5 330.7,175.5 330.8,175.5 331.0,175.5 331.1,175.5 331.2,175.5 331.3,175.5 331.4,175.5 331.5,175.5 331.7,175.5 331.8,175.5 331.9,175.5 332.0,175.5 332.1,175.5 332.2,175.5 332.3,175.5 332.5,175.5 332.6,175.5 332.7,175.5 332.8,175.5 332.9,175.5 333.0,175.5 333.2,175.5 333.3,175.5 333.4,175.5 333.5,175.5 333.6,175.5 333.7,175.5 333.8,175.5 334.0,175.5 334.1,175.5 334.2,175.5 334.3,175.5 334.4,175.5 334.5,175.5 334.7,175.5 334.8,175.5 334.9,175.5 335.0,175.5 335.1,175.5 335.2,175.5 335.3,175.5 335.5,175.5 335.6,175.5 335.7,175.5 335.8,175.5 335.9,175.5 336.0,175.5 336.2,175.5 336.3,175.5 336.4,175.5 336.5,175.5 336.6,175.5 336.7,175.5 336.8,175.5 337.0,175.5 337.1,175.5 337.2,175.5 337.3,175.5 337.4,175.5 337.5,175.5 337.7,175.5 337.8,175.5 337.9,175.5 338.0,175.5 338.1,175.5 338.2,175.5 338.3,175.5 338.5,175.5 338.6,175.5 338.7,175.5 338.8,175.5 338.9,175.5 339.0,175.5 339.2,175.5 339.3,175.5 339.4,175.5 339.5,175.5 339.6,175.5 339.7,175.5 339.8,175.5 340.0,175.5 340.1,175.5 340.2,175.5 340.3,175.5 340.4,175.5 340.5,175.5 340.7,175.5 340.8,175.5 340.9,175.5 341.0,175.5 341.1,175.5 341.2,175.5 341.3,175.5 341.5,175.5 341.6,175.5 341.7,175.5 341.8,175.4 341.9,175.4 342.0,175.3 342.2,175.2 342.3,175.0 342.4,174.7 342.5,174.3 342.6,173.7 342.7,172.8 342.8,171.6 343.0,169.9 343.1,167.7 343.2,164.7 343.3,161.0 343.4,156.5 343.5,150.9 343.7,144.4 343.8,137.0 343.9,128.8 344.0,119.9 344.1,110.7 344.2,101.5 344.4,92.8 344.5,84.8 344.6,78.1 344.7,73.0 344.8,69.8 344.9,68.7 345.0,69.4 345.2,71.3 345.3,74.5 345.4,78.8 345.5,84.0 345.6,90.0 345.7,96.6 345.9,103.6 346.0,110.7 346.1,117.9 346.2,124.9 346.3,131.6 346.4,137.9 346.5,143.7 346.7,148.9 346.8,153.5 346.9,157.6 347.0,161.0 347.1,164.0 347.2,166.5 347.4,168.5 347.5,170.1 347.6,171.4 347.7,172.4 347.8,173.2 347.9,173.9 348.0,174.3 348.2,174.7 348.3,174.9 348.4,175.1 348.5,175.2 348.6,175.3 348.7,175.4 348.9,175.4 349.0,175.4 349.1,175.5 349.2,175.5 349.3,175.5 349.4,175.5 349.5,175.5 349.7,175.5 349.8,175.5 349.9,175.5 350.0,175.5 350.1,175.5 350.2,175.5 350.4,175.5 350.5,175.5 350.6,175.5 350.7,175.5 350.8,175.5 350.9,175.5 351.0,175.5 351.2,175.5 351.3,175.5 351.4,175.5 351.5,175.5 351.6,175.5 351.7,175.5 351.9,175.5 352.0,175.5 352.1,175.5 352.2,175.5 352.3,175.5 352.4,175.5 352.5,175.5 352.7,175.5 352.8,175.5 352.9,175.5 353.0,175.5 353.1,175.5 353.2,175.5 353.4,175.5 353.5,175.5 353.6,175.5 353.7,175.5 353.8,175.5 353.9,175.5 354.0,175.5 354.2,175.5 354.3,175.5 354.4,175.5 354.5,175.5 354.6,175.5 354.7,175.5 354.9,175.5 355.0,175.5 355.1,175.5 355.2,175.5 355.3,175.5 355.4,175.5 355.5,175.5 355.7,175.5 355.8,175.5 355.9,175.5 356.0,175.5 356.1,175.5 356.2,175.5 356.4,175.5 356.5,175.5 356.6,175.5 356.7,175.5 356.8,175.5 356.9,175.5 357.0,175.5 357.2,175.5 357.3,175.5 357.4,175.5 357.5,175.5 357.6,175.5 357.7,175.5 357.9,175.5 358.0,175.5 358.1,175.5 358.2,175.5 358.3,175.5 358.4,175.5 358.6,175.5 358.7,175.5 358.8,175.5 358.9,175.5 359.0,175.5 359.1,175.5 359.2,175.5 359.4,175.5 359.5,175.5 359.6,175.5 359.7,175.5 359.8,175.5 359.9,175.5 360.1,175.5 360.2,175.5 360.3,175.5 360.4,175.5 360.5,175.5 360.6,175.5 360.7,175.5 360.9,175.5 361.0,175.5 361.1,175.5 361.2,175.5 361.3,175.5 361.4,175.5 361.6,175.5 361.7,175.5 361.8,175.5 361.9,175.5 362.0,175.5 362.1,175.5 362.2,175.5 362.4,175.5 362.5,175.5 362.6,175.5 362.7,175.5 362.8,175.5 362.9,175.5 363.1,175.5 363.2,175.5 363.3,175.5 363.4,175.5 363.5,175.5 363.6,175.5 363.7,175.5 363.9,175.5 364.0,175.5 364.1,175.5 364.2,175.5 364.3,175.5 364.4,175.5 364.6,175.5 364.7,175.5 364.8,175.5 364.9,175.5 365.0,175.5 365.1,175.5 365.2,175.5 365.4,175.5 365.5,175.5 365.6,175.5 365.7,175.5 365.8,175.5 365.9,175.5 366.1,175.5 366.2,175.5 366.3,175.5 366.4,175.5 366.5,175.5 366.6,175.5 366.7,175.5 366.9,175.5 367.0,175.5 367.1,175.5 367.2,175.5 367.3,175.5 367.4,175.5 367.6,175.5 367.7,175.5 367.8,175.5 367.9,175.5 368.0,175.5 368.1,175.5 368.2,175.5 368.4,175.5 368.5,175.5 368.6,175.5 368.7,175.5 368.8,175.5 368.9,175.5 369.1,175.5 369.2,175.5 369.3,175.5 369.4,175.5 369.5,175.5 369.6,175.5 369.7,175.5 369.9,175.5 370.0,175.5 370.1,175.5 370.2,175.5 370.3,175.5 370.4,175.5 370.6,175.5 370.7,175.5 370.8,175.5 370.9,175.5 371.0,175.5 371.1,175.5 371.3,175.5 371.4,175.5 371.5,175.5 371.6,175.5 371.7,175.5 371.8,175.5 371.9,175.5 372.1,175.5 372.2,175.5 372.3,175.5 372.4,175.5 372.5,175.5 372.6,175.5 372.8,175.5 372.9,175.5 373.0,175.5 373.1,175.5 373.2,175.5 373.3,175.5 373.4,175.5 373.6,175.5 373.7,175.5 373.8,175.5 373.9,175.5 374.0,175.5 374.1,175.5 374.3,175.5 374.4,175.5 374.5,175.5 374.6,175.5 374.7,175.5 374.8,175.5 374.9,175.5 375.1,175.5 375.2,175.5 375.3,175.5 375.4,175.5 375.5,175.5 375.6,175.5 375.8,175.5 375.9,175.5 376.0,175.5 376.1,175.5 376.2,175.5 376.3,175.5 376.4,175.5 376.6,175.5 377.0,175.5 377.5,175.5 377.9,175.5 378.4,175.5 378.9,175.5 379.3,175.4 379.8,175.2 380.3,175.1 380.7,175.0 381.2,174.9 381.6,174.5 382.1,174.6 382.6,174.5 383.0,174.1 383.5,174.3 383.9,174.5 384.4,174.3 384.9,174.1 385.3,173.7 385.8,173.5 386.3,173.9 386.7,172.9 387.2,173.3 387.6,172.6 388.1,172.3 388.6,172.1 389.0,172.0 389.5,171.7 390.0,172.0 390.4,171.2 390.9,170.7 391.3,170.4 391.8,169.4 392.3,169.8 392.7,169.8 393.2,169.0 393.6,169.6 394.1,170.2 394.6,170.5 395.0,168.3 395.5,168.4 396.0,167.9 396.4,168.3 396.9,167.6 397.3,166.5 397.8,167.0 398.3,167.5 398.7,166.9 399.2,165.6 399.7,166.6 400.1,167.2 400.6,166.7 401.0,166.1 401.5,165.1 402.0,165.7 402.4,166.4 402.9,166.8 403.3,166.4 403.8,166.6 404.3,167.0 404.7,167.0 405.2,167.5 405.7,166.2 406.1,168.7 406.6,167.5 407.0,168.4 407.5,167.6 408.0,168.3 408.4,168.1 408.9,168.2 409.3,168.5 409.8,168.2 410.3,169.6 410.7,168.4 411.2,169.1 411.7,168.9 412.1,168.3 412.6,168.7 413.0,168.3 413.5,170.7 414.0,170.1 414.4,169.1 414.9,170.4 415.4,169.9 415.8,169.0 416.3,169.5 416.7,170.6 417.2,170.0 417.7,170.0 418.1,170.4 418.6,170.5 419.0,170.5 419.5,171.4 420.0,170.7 420.4,171.3 420.9,170.8 421.4,170.9 421.8,171.5 422.3,171.0 422.7,171.2 423.2,171.4 423.7,171.2 424.1,171.7 424.6,171.8 425.1,171.8 425.5,171.8 426.0,171.3 426.4,172.6 426.9,171.8 427.4,172.4 427.8,171.9 428.3,171.6 428.7,171.6 429.2,171.3 429.7,171.5 430.1,172.6 430.6,172.0 431.1,171.0 431.5,171.0 432.0,171.5 432.4,172.1 432.9,170.7 433.4,172.2 433.8,171.3 434.3,171.5 434.7,171.3 435.2,171.8 435.7,171.5 436.1,171.0 436.6,171.5 437.1,171.8 437.5,171.3 438.0,171.3 438.4,171.3 438.9,171.5 439.4,171.0 439.8,171.3 440.3,171.6 440.8,171.1 441.2,171.2 441.7,171.1 442.1,171.7 442.6,171.4 443.1,170.9 443.5,170.7 444.0,170.9 444.4,171.0 444.9,170.8 445.4,170.6 445.8,170.4 446.3,170.8 446.8,171.1 447.2,170.7 447.7,171.6 448.1,170.9 448.6,171.0 449.1,170.9 449.5,170.7 450.0,170.9 450.4,171.3 450.9,171.0 451.4,171.1 451.8,170.9 452.3,170.8 452.8,171.2 453.2,170.6 453.7,170.5 454.1,171.0 454.6,170.7 455.1,171.3 455.5,171.0 456.0,170.6 456.5,171.4 456.9,171.0 457.4,171.1 457.8,170.6 458.3,170.6 458.8,171.1 459.2,170.9 459.7,171.6 460.1,170.7 460.6,170.8 461.1,170.5 461.5,171.6 462.0,170.8 462.5,171.0 462.9,171.6 463.4,171.1 463.8,170.9 464.3,170.7 464.8,170.8 465.2,171.0 465.7,170.8 466.2,170.9 466.6,171.1 467.1,171.2 467.5,170.9 468.0,170.9 468.5,170.4 468.9,171.0 469.4,170.5 469.8,170.8 470.3,170.6 470.8,171.2 471.2,171.2 471.7,171.0 472.2,170.7 472.6,170.9 473.1,170.7 473.5,170.8 474.0,170.6 474.5,170.9 474.9,171.1 475.4,170.8 475.8,170.9 476.3,170.4 476.8,171.0 477.2,170.9 477.7,171.0 478.2,170.6 478.6,170.7 479.1,170.8 479.5,171.3 480.0,171.4 480.5,170.9 480.9,170.7 481.4,170.5 481.9,171.4 482.3,171.0 482.8,171.4 483.2,171.2 483.7,171.0 484.2,170.7 484.6,171.1 485.1,171.1 485.5,171.0 486.0,170.6 486.5,170.3 486.9,171.4 487.4,171.0 487.9,171.1 488.3,170.6 488.8,170.8 489.2,170.5 489.7,171.2 490.2,171.0 490.6,171.1 491.1,171.3 491.5,171.0 492.0,171.3 492.5,170.4 492.9,170.9 493.4,171.2 493.9,171.1 494.3,170.5 494.8,171.1 495.2,170.8 495.7,170.8 496.2,170.7 496.6,170.8 497.1,171.0 497.6,171.1 498.0,171.5 498.5,171.0 498.9,170.9 499.4,171.1 499.9,171.0 500.3,171.3 500.8,170.4 501.2,171.1 501.7,171.3 502.2,171.2 502.6,171.0 503.1,170.8 503.6,171.7 504.0,170.9 504.5,171.2 504.9,171.0 505.4,170.7 505.9,170.8 506.3,171.2 506.8,171.0 507.3,170.5 507.7,170.6 508.2,170.8 508.6,171.0 509.1,170.8 509.6,170.9 510.0,171.2 510.5,171.3 510.9,170.9 511.4,170.9 511.9,170.7 512.3,171.1 512.8,170.6 513.3,171.1 513.7,170.7 514.2,170.9 514.6,171.2 515.1,171.3 515.6,171.1 516.0,171.1 516.5,170.8 516.9,171.2 517.4,171.4 517.9,171.0 518.3,170.5 518.8,170.6 519.3,171.2 519.7,171.1 520.2,171.0 520.6,171.2 521.1,171.1 521.6,171.1 522.0,171.3 522.5,171.2 523.0,171.2 523.4,171.0 523.9,171.4 524.3,171.0 524.8,171.3 525.3,171.3 525.7,171.4 526.2,170.0 526.6,170.7 527.1,170.7 527.6,170.8 528.0,171.1 528.5,171.0 529.0,171.0 529.4,170.9 529.9,170.9 530.3,170.7 530.8,171.9 531.3,171.2 531.7,170.9 532.2,171.2 532.6,171.1 533.1,170.7 533.6,171.0 534.0,170.6 534.5,171.1 535.0,171.0 535.4,171.4 535.9,171.6 536.3,171.2 536.8,171.1 537.3,171.2 537.7,171.4 538.2,170.9 538.7,171.1 539.1,171.1 539.6,171.3 540.0,170.7 540.5,170.7" fill="none" stroke="#0000ff" stroke-width="1.5" stroke-linejoin="round"/>
<polyline points="309.6,175.5 310.8,175.5 311.9,175.5 313.1,175.5 314.2,175.5 315.4,175.5 316.5,175.5 317.7,175.5 318.8,175.5 320.0,175.5 321.1,175.5 322.3,175.5 323.5,175.5 324.6,175.5 325.8,175.5 325.9,175.5 326.0,175.5 326.1,175.5 326.2,175.5 326.3,175.5 326.5,175.5 326.6,175.5 326.7,175.5 326.8,175.5 326.9,175.5 327.0,175.5 327.1,175.5 327.3,175.5 327.4,175.5 327.5,175.5 327.6,175.5 327.7,175.5 327.8,175.5 328.0,175.5 328.1,175.5 328.2,175.5 328.3,175.5 328.4,175.5 328.5,175.5 328.6,175.5 328.8,175.5 328.9,175.5 329.0,175.5 329.1,175.5 329.2,175.5 329.3,175.5 329.5,175.5 329.6,175.5 329.7,175.5 329.8,175.4 329.9,175.4 330.0,175.3 330.2,175.1 330.3,174.8 330.4,174.3 330.5,173.5 330.6,172.3 330.7,170.6 330.8,168.2 331.0,164.8 331.1,160.4 331.2,154.7 331.3,147.7 331.4,139.3 331.5,129.7 331.7,119.1 331.8,107.9 331.9,96.8 332.0,86.3 332.1,77.2 332.2,70.1 332.3,65.6 332.5,64.1 332.6,65.2 332.7,68.5 332.8,73.8 332.9,80.9 333.0,89.2 333.2,98.3 333.3,107.9 333.4,117.5 333.5,126.7 333.6,135.3 333.7,143.1 333.8,149.9 334.0,155.6 334.1,160.4 334.2,164.3 334.3,167.3 334.4,169.7 334.5,171.4 334.7,172.7 334.8,173.6 334.9,174.3 335.0,174.7 335.1,175.0 335.2,175.2 335.3,175.3 335.5,175.4 335.6,175.4 335.7,175.5 335.8,175.5 335.9,175.5 336.0,175.5 336.2,175.5 336.3,175.5 336.4,175.5 336.5,175.5 336.6,175.5 336.7,175.5 336.8,175.5 337.0,175.5 337.1,175.5 337.2,175.5 337.3,175.5 337.4,175.5 337.5,175.5 337.7,175.5 337.8,175.5 337.9,175.5 338.0,175.5 338.1,175.5 338.2,175.5 338.3,175.5 338.5,175.5 338.6,175.5 338.7,175.5 338.8,175.5 338.9,175.5 339.0,175.5 339.2,175.5 339.3,175.5 339.4,175.5 339.5,175.5 339.6,175.5 339.7,175.5 339.8,175.5 340.0,175.5 340.1,175.5 340.2,175.5 340.3,175.5 340.4,175.5 340.5,175.5 340.7,175.5 340.8,175.5 340.9,175.4 341.0,175.4 341.1,175.3 341.2,175.2 341.3,175.1 341.5,175.1 341.6,175.0 341.7,174.9 341.8,174.8 341.9,174.7 342.0,174.6 342.2,174.6 342.3,174.6 342.4,174.6 342.5,174.5 342.6,174.4 342.7,174.3 342.8,174.3 343.0,174.2 343.1,174.1 343.2,174.1 343.3,174.0 343.4,174.0 343.5,174.0 343.7,174.0 343.8,174.0 343.9,173.9 344.0,173.7 344.1,173.5 344.2,173.3 344.4,173.2 344.5,173.1 344.6,173.0 344.7,172.8 344.8,172.9 344.9,173.0 345.0,173.1 345.2,173.2 345.3,172.9 345.4,172.7 345.5,172.5 345.6,172.4 345.7,172.5 345.9,172.6 346.0,172.7 346.1,172.9 346.2,172.7 346.3,172.5 346.4,172.3 346.5,172.1 346.7,172.1 346.8,172.0 346.9,172.0 347.0,172.0 347.1,172.1 347.2,172.3 347.4,172.4 347.5,172.6 347.6,172.8 347.7,172.9 347.8,173.1 347.9,173.2 348.0,173.1 348.2,172.9 348.3,172.7 348.4,172.5 348.5,172.6 348.6,172.7 348.7,172.8 348.9,172.9 349.0,172.9 349.1,172.8 349.2,172.8 349.3,172.8 349.4,172.7 349.5,172.5 349.7,172.4 349.8,172.2 349.9,172.0 350.0,171.8 350.1,171.6 350.2,171.4 350.4,171.6 350.5,171.7 350.6,171.9 350.7,172.0 350.8,172.0 350.9,172.0 351.0,172.0 351.2,172.0 351.3,172.2 351.4,172.4 351.5,172.6 351.6,172.8 351.7,172.6 351.9,172.5 352.0,172.3 352.1,172.1 352.2,172.2 352.3,172.3 352.4,172.4 352.5,172.5 352.7,172.2 352.8,172.0 352.9,171.7 353.0,171.4 353.1,171.5 353.2,171.7 353.4,171.8 353.5,171.9 353.6,171.8 353.7,171.8 353.8,171.7 353.9,171.6 354.0,171.6 354.2,171.6 354.3,171.5 354.4,171.5 354.5,171.5 354.6,171.5 354.7,171.5 354.9,171.6 355.0,171.4 355.1,171.2 355.2,171.0 355.3,170.8 355.4,170.9 355.5,170.9 355.7,171.0 355.8,171.0 355.9,171.2 356.0,171.3 356.1,171.4 356.2,171.5 356.4,171.4 356.5,171.4 356.6,171.3 356.7,171.2 356.8,171.2 356.9,171.1 357.0,171.0 357.2,171.0 357.3,170.8 357.4,170.7 357.5,170.6 357.6,170.5 357.7,170.7 357.9,170.8 358.0,171.0 358.1,171.2 358.2,171.0 358.3,170.8 358.4,170.6 358.6,170.4 358.7,170.7 358.8,171.0 358.9,171.3 359.0,171.6 359.1,171.6 359.2,171.5 359.4,171.4 359.5,171.4 359.6,171.6 359.7,171.8 359.8,171.9 359.9,172.1 360.1,171.8 360.2,171.4 360.3,171.1 360.4,170.7 360.5,171.0 360.6,171.3 360.7,171.6 360.9,171.8 361.0,171.8 361.1,171.8 361.2,171.8 361.3,171.8 361.4,171.5 361.6,171.3 361.7,171.0 361.8,170.7 361.9,170.9 362.0,171.1 362.1,171.3 362.2,171.5 362.4,171.5 362.5,171.6 362.6,171.6 362.7,171.6 362.8,171.4 362.9,171.1 363.1,170.9 363.2,170.6 363.3,170.8 363.4,170.9 363.5,171.1 363.6,171.3 363.7,171.1 363.9,170.9 364.0,170.8 364.1,170.6 364.2,170.8 364.3,171.0 364.4,171.2 364.6,171.4 364.7,171.2 364.8,171.0 364.9,170.9 365.0,170.7 365.1,170.6 365.2,170.6 365.4,170.5 365.5,170.5 365.6,170.6 365.7,170.8 365.8,170.9 365.9,171.1 366.1,170.8 366.2,170.5 366.3,170.3 366.4,170.0 366.5,170.3 366.6,170.7 366.7,171.0 366.9,171.3 367.0,171.3 367.1,171.3 367.2,171.3 367.3,171.2 367.4,171.2 367.6,171.1 367.7,171.1 367.8,171.0 367.9,170.9 368.0,170.7 368.1,170.6 368.2,170.4 368.4,170.6 368.5,170.8 368.6,171.0 368.7,171.2 368.8,171.3 368.9,171.3 369.1,171.3 369.2,171.3 369.3,171.2 369.4,171.1 369.5,171.0 369.6,170.9 369.7,170.7 369.9,170.6 370.0,170.4 370.1,170.3 370.2,170.5 370.3,170.8 370.4,171.0 370.6,171.3 370.7,171.4 370.8,171.6 370.9,171.7 371.0,171.8 371.1,171.6 371.3,171.5 371.4,171.3 371.5,171.1 371.6,171.0 371.7,170.8 371.8,170.7 371.9,170.6 372.1,170.8 372.2,171.0 372.3,171.1 372.4,171.3 372.5,171.2 372.6,171.1 372.8,171.0 372.9,170.9 373.0,171.2 373.1,171.5 373.2,171.8 373.3,172.2 373.4,171.9 373.6,171.6 373.7,171.2 373.8,170.9 373.9,170.9 374.0,170.9 374.1,170.9 374.3,170.9 374.4,170.8 374.5,170.7 374.6,170.6 374.7,170.5 374.8,170.6 374.9,170.6 375.1,170.7 375.2,170.7 375.3,170.7 375.4,170.6 375.5,170.5 375.6,170.4 375.8,170.7 375.9,171.0 376.0,171.3 376.1,171.6 376.2,171.3 376.3,171.0 376.4,170.7 376.6,170.5 377.0,172.0 377.5,171.3 377.9,170.2 378.4,170.3 378.9,172.1 379.3,170.5 379.8,171.1 380.3,171.3 380.7,170.7 381.2,170.7 381.6,169.9 382.1,171.7 382.6,171.0 383.0,170.8 383.5,172.0 383.9,169.9 384.4,169.5 384.9,171.1 385.3,170.4 385.8,170.8 386.3,170.5 386.7,171.1 387.2,170.0 387.6,171.4 388.1,169.6 388.6,170.3 389.0,168.9 389.5,171.7 390.0,170.6 390.4,171.4 390.9,170.6 391.3,170.2 391.8,171.1 392.3,171.5 392.7,171.7 393.2,170.3 393.6,169.5 394.1,169.6 394.6,170.4 395.0,171.1 395.5,170.6 396.0,171.4 396.4,171.5 396.9,169.5 397.3,170.5 397.8,170.1 398.3,170.5 398.7,169.3 399.2,169.2 399.7,170.8 400.1,170.5 400.6,170.7 401.0,169.2 401.5,169.2 402.0,170.4 402.4,168.5 402.9,170.2 403.3,171.1 403.8,171.7 404.3,170.3 404.7,170.0 405.2,170.7 405.7,170.0 406.1,169.4 406.6,170.3 407.0,169.7 407.5,169.1 408.0,170.0 408.4,170.8 408.9,170.1 409.3,170.0 409.8,168.9 410.3,170.7 410.7,171.5 411.2,170.2 411.7,170.2 412.1,170.8 412.6,170.1 413.0,170.3 413.5,169.7 414.0,171.1 414.4,171.0 414.9,170.6 415.4,170.9 415.8,169.7 416.3,170.2 416.7,170.6 417.2,169.6 417.7,170.3 418.1,170.0 418.6,170.1 419.0,170.8 419.5,170.8 420.0,170.7 420.4,171.4 420.9,171.0 421.4,170.2 421.8,170.6 422.3,171.4 422.7,169.2 423.2,171.5 423.7,170.4 424.1,170.4 424.6,170.0 425.1,171.4 425.5,170.8 426.0,171.0 426.4,170.1 426.9,170.6 427.4,170.6 427.8,170.5 428.3,169.6 428.7,170.4 429.2,170.3 429.7,171.4 430.1,170.4 430.6,171.6 431.1,170.3 431.5,170.8 432.0,171.4 432.4,171.5 432.9,170.9 433.4,170.8 433.8,171.2 434.3,171.0 434.7,171.0 435.2,171.1 435.7,170.9 436.1,170.7 436.6,170.1 437.1,170.5 437.5,171.1 438.0,169.9 438.4,170.2 438.9,171.0 439.4,170.3 439.8,171.1 440.3,171.2 440.8,171.2 441.2,170.0 441.7,170.7 442.1,170.7 442.6,170.8 443.1,171.0 443.5,170.6 444.0,170.5 444.4,169.8 444.9,171.2 445.4,170.1 445.8,170.5 446.3,171.7 446.8,170.3 447.2,170.0 447.7,170.3 448.1,170.7 448.6,170.7 449.1,171.7 449.5,170.7 450.0,170.7 450.4,171.2 450.9,170.7 451.4,171.1 451.8,169.8 452.3,171.4 452.8,171.2 453.2,171.8 453.7,171.0 454.1,170.8 454.6,170.8 455.1,171.1 455.5,170.5 456.0,170.8 456.5,170.4 456.9,170.9 457.4,171.6 457.8,170.9 458.3,171.3 458.8,170.5 459.2,171.1 459.7,171.0 460.1,170.9 460.6,171.5 461.1,171.0 461.5,170.5 462.0,171.1 462.5,171.0 462.9,170.8 463.4,171.1 463.8,171.0 464.3,170.7 464.8,171.0 465.2,170.9 465.7,171.0 466.2,171.3 466.6,171.4 467.1,170.1 467.5,170.4 468.0,170.9 468.5,170.5 468.9,170.5 469.4,170.5 469.8,171.0 470.3,171.5 470.8,171.4 471.2,171.0 471.7,170.4 472.2,170.3 472.6,171.0 473.1,171.0 473.5,170.4 474.0,170.1 474.5,171.3 474.9,170.7 475.4,170.9 475.8,171.0 476.3,171.0 476.8,171.0 477.2,170.9 477.7,171.5 478.2,170.9 478.6,170.6 479.1,170.6 479.5,170.6 480.0,170.8 480.5,170.8 480.9,170.2 481.4,171.0 481.9,170.9 482.3,170.4 482.8,170.9 483.2,171.4 483.7,171.1 484.2,171.1 484.6,171.0 485.1,171.1 485.5,170.5 486.0,170.6 486.5,170.7 486.9,171.1 487.4,170.5 487.9,170.5 488.3,170.1 488.8,171.2 489.2,171.0 489.7,170.4 490.2,171.3 490.6,170.8 491.1,170.8 491.5,170.9 492.0,171.3 492.5,170.9 492.9,171.5 493.4,170.5 493.9,171.1 494.3,170.9 494.8,170.9 495.2,170.9 495.7,170.9 496.2,170.8 496.6,171.1 497.1,170.9 497.6,171.4 498.0,171.3 498.5,171.3 498.9,171.3 499.4,171.5 499.9,171.2 500.3,170.7 500.8,170.8 501.2,171.1 501.7,170.8 502.2,170.8 502.6,169.9 503.1,171.5 503.6,170.8 504.0,171.4 504.5,170.5 504.9,171.0 505.4,170.8 505.9,170.9 506.3,170.7 506.8,172.0 507.3,171.4 507.7,170.9 508.2,171.4 508.6,170.7 509.1,170.5 509.6,171.4 510.0,171.1 510.5,170.7 510.9,170.3 511.4,170.6 511.9,170.7 512.3,171.3 512.8,170.9 513.3,170.9 513.7,171.2 514.2,170.8 514.6,171.1 515.1,171.1 515.6,170.1 516.0,171.0 516.5,170.2 516.9,171.1 517.4,171.0 517.9,171.4 518.3,171.2 518.8,170.4 519.3,171.0 519.7,171.7 520.2,170.4 520.6,171.3 521.1,171.1 521.6,171.0 522.0,171.7 522.5,170.4 523.0,170.5 523.4,171.1 523.9,170.8 524.3,171.1 524.8,171.2 525.3,171.1 525.7,171.5 526.2,171.1 526.6,171.2 527.1,170.3 527.6,171.5 528.0,170.5 528.5,170.7 529.0,170.9 529.4,171.2 529.9,170.3 530.3,170.4 530.8,171.0 531.3,171.1 531.7,170.9 532.2,170.3 532.6,171.3 533.1,171.0 533.6,170.6 534.0,171.5 534.5,171.0 535.0,170.6 535.4,171.2 535.9,171.0 536.3,171.6 536.8,170.8 537.3,171.4 537.7,171.1 538.2,170.9 538.7,171.2 539.1,170.7 539.6,170.7 540.0,170.8 540.5,170.6" fill="none" stroke="#00ff00" stroke-width="1.5" stroke-linejoin="round"/>
<path d="M339.4 169.0L342.3 174.5L339.4 180.0L336.5 174.5Z" fill="#00ff00"/>
<path d="M353.0 169.0L355.9 174.5L353.0 180.0L350.1 174.5Z" fill="#0000ff"/>
<path d="M358.8 169.0L361.7 174.5L358.8 180.0L355.9 174.5Z" fill="#000000"/>
<path d="M367.1 169.0L370.0 174.5L367.1 180.0L364.2 174.5Z" fill="#ff0000"/>
<text x="309.6" y="188.5" text-anchor="middle" class="t">0</text>
<text x="355.8" y="188.5" text-anchor="middle" class="t">2</text>
<text x="402.0" y="188.5" text-anchor="middle" class="t">4</text>
<text x="448.1" y="188.5" text-anchor="middle" class="t">6</text>
<text x="494.3" y="188.5" text-anchor="middle" class="t">8</text>
<text x="540.5" y="188.5" text-anchor="middle" class="t">10</text>
<text x="304.6" y="178.7" text-anchor="end" class="t">0</text>
<text x="304.6" y="155.5" text-anchor="end" class="t">5</text>
<text x="304.6" y="132.3" text-anchor="end" class="t">10</text>
<text x="304.6" y="109.1" text-anchor="end" class="t">15</text>
<text x="304.6" y="85.8" text-anchor="end" class="t">20</text>
<text x="304.6" y="62.6" text-anchor="end" class="t">25</text>
<text x="304.6" y="39.4" text-anchor="end" class="t">30</text>
<text x="304.6" y="16.2" text-anchor="end" class="t">35</text>
<text x="425.1" y="197.5" text-anchor="middle" class="ax">Distance (Å)</text>
<text transform="translate(289.2,88.8) rotate(-90)" text-anchor="middle" class="gr">g(r)</text>
<text x="279.1" y="17.6" class="pl">(b)</text>
<line x1="475.9" y1="24.4" x2="498.9" y2="24.4" stroke="#000000" stroke-width="1.5"/>
<text x="500.9" y="27.9" class="lg">Al-O</text>
<line x1="475.9" y1="36.5" x2="498.9" y2="36.5" stroke="#ff0000" stroke-width="1.5"/>
<text x="500.9" y="40.0" class="lg">Fe-O</text>
<line x1="475.9" y1="48.6" x2="498.9" y2="48.6" stroke="#0000ff" stroke-width="1.5"/>
<text x="500.9" y="52.1" class="lg">Si-O</text>
<line x1="475.9" y1="60.7" x2="498.9" y2="60.7" stroke="#00ff00" stroke-width="1.5"/>
<text x="500.9" y="64.2" class="lg">H-O</text>
<rect x="35.0" y="206.3" width="230.8" height="162.5" fill="none" stroke="#333" stroke-width="1.3"/>
<path d="M35.0 368.8v3 M58.1 368.8v1.8 M81.2 368.8v3 M104.2 368.8v1.8 M127.3 368.8v3 M150.4 368.8v1.8 M173.5 368.8v3 M196.6 368.8v1.8 M219.6 368.8v3 M242.7 368.8v1.8 M265.8 368.8v3 M35.0 368.8h-3 M35.0 357.2h-1.8 M35.0 345.6h-3 M35.0 334.0h-1.8 M35.0 322.4h-3 M35.0 310.8h-1.8 M35.0 299.2h-3 M35.0 287.6h-1.8 M35.0 275.9h-3 M35.0 264.3h-1.8 M35.0 252.7h-3 M35.0 241.1h-1.8 M35.0 229.5h-3 M35.0 217.9h-1.8 M35.0 206.3h-3" stroke="#333" stroke-width="1.1" fill="none"/>
<polyline points="35.0,368.8 36.2,368.8 37.3,368.8 38.5,368.8 39.6,368.8 40.8,368.8 41.9,368.8 43.1,368.8 44.2,368.8 45.4,368.8 46.5,368.8 47.7,368.8 48.8,368.8 50.0,368.8 51.2,368.8 51.3,368.8 51.4,368.8 51.5,368.8 51.6,368.8 51.7,368.8 51.8,368.8 52.0,368.8 52.1,368.8 52.2,368.8 52.3,368.8 52.4,368.8 52.5,368.8 52.7,368.8 52.8,368.8 52.9,368.8 53.0,368.8 53.1,368.8 53.2,368.8 53.3,368.8 53.5,368.8 53.6,368.8 53.7,368.8 53.8,368.8 53.9,368.8 54.0,368.8 54.2,368.8 54.3,368.8 54.4,368.8 54.5,368.8 54.6,368.8 54.7,368.8 54.8,368.8 55.0,368.8 55.1,368.8 55.2,368.8 55.3,368.8 55.4,368.8 55.5,368.8 55.7,368.8 55.8,368.8 55.9,368.8 56.0,368.8 56.1,368.8 56.2,368.8 56.3,368.8 56.5,368.8 56.6,368.8 56.7,368.8 56.8,368.8 56.9,368.8 57.0,368.8 57.2,368.8 57.3,368.8 57.4,368.8 57.5,368.8 57.6,368.8 57.7,368.8 57.8,368.8 58.0,368.8 58.1,368.8 58.2,368.8 58.3,368.8 58.4,368.8 58.5,368.8 58.7,368.8 58.8,368.8 58.9,368.8 59.0,368.8 59.1,368.8 59.2,368.8 59.3,368.8 59.5,368.8 59.6,368.8 59.7,368.8 59.8,368.8 59.9,368.8 60.0,368.8 60.2,368.8 60.3,368.8 60.4,368.8 60.5,368.8 60.6,368.8 60.7,368.8 60.8,368.8 61.0,368.8 61.1,368.8 61.2,368.8 61.3,368.8 61.4,368.8 61.5,368.8 61.7,368.8 61.8,368.8 61.9,368.8 62.0,368.8 62.1,368.8 62.2,368.8 62.3,368.8 62.5,368.8 62.6,368.8 62.7,368.8 62.8,368.8 62.9,368.8 63.0,368.8 63.2,368.8 63.3,368.8 63.4,368.8 63.5,368.8 63.6,368.8 63.7,368.8 63.9,368.8 64.0,368.8 64.1,368.8 64.2,368.8 64.3,368.8 64.4,368.8 64.5,368.8 64.7,368.8 64.8,368.8 64.9,368.8 65.0,368.8 65.1,368.8 65.2,368.8 65.4,368.8 65.5,368.8 65.6,368.8 65.7,368.8 65.8,368.8 65.9,368.8 66.0,368.8 66.2,368.8 66.3,368.8 66.4,368.8 66.5,368.8 66.6,368.8 66.7,368.8 66.9,368.8 67.0,368.8 67.1,368.8 67.2,368.8 67.3,368.8 67.4,368.8 67.5,368.8 67.7,368.8 67.8,368.8 67.9,368.8 68.0,368.8 68.1,368.8 68.2,368.8 68.4,368.8 68.5,368.8 68.6,368.8 68.7,368.8 68.8,368.8 68.9,368.8 69.0,368.8 69.2,368.8 69.3,368.8 69.4,368.8 69.5,368.8 69.6,368.8 69.7,368.8 69.9,368.8 70.0,368.8 70.1,368.8 70.2,368.8 70.3,368.8 70.4,368.8 70.5,368.8 70.7,368.8 70.8,368.8 70.9,368.8 71.0,368.8 71.1,368.8 71.2,368.8 71.4,368.8 71.5,368.8 71.6,368.8 71.7,368.8 71.8,368.8 71.9,368.8 72.0,368.8 72.2,368.8 72.3,368.8 72.4,368.7 72.5,368.7 72.6,368.7 72.7,368.6 72.9,368.6 73.0,368.5 73.1,368.4 73.2,368.2 73.3,368.0 73.4,367.7 73.5,367.4 73.7,366.9 73.8,366.4 73.9,365.7 74.0,364.8 74.1,363.7 74.2,362.4 74.4,360.9 74.5,359.1 74.6,357.0 74.7,354.7 74.8,351.9 74.9,348.9 75.0,345.6 75.2,342.0 75.3,338.1 75.4,334.0 75.5,329.8 75.6,325.4 75.7,321.1 75.9,316.9 76.0,312.8 76.1,309.1 76.2,305.7 76.3,302.8 76.4,300.4 76.5,298.7 76.7,297.7 76.8,297.3 76.9,297.5 77.0,298.0 77.1,298.9 77.2,300.2 77.4,301.7 77.5,303.6 77.6,305.7 77.7,308.1 77.8,310.6 77.9,313.4 78.0,316.3 78.2,319.3 78.3,322.3 78.4,325.4 78.5,328.5 78.6,331.6 78.7,334.6 78.9,337.5 79.0,340.3 79.1,343.0 79.2,345.6 79.3,348.0 79.4,350.3 79.5,352.4 79.7,354.3 79.8,356.1 79.9,357.7 80.0,359.1 80.1,360.4 80.2,361.6 80.4,362.6 80.5,363.6 80.6,364.4 80.7,365.1 80.8,365.7 80.9,366.2 81.0,366.6 81.2,367.0 81.3,367.3 81.4,367.6 81.5,367.8 81.6,368.0 81.7,368.2 81.9,368.3 82.0,368.4 82.1,368.5 82.2,368.5 82.3,368.6 82.4,368.6 82.5,368.7 82.7,368.7 82.8,368.7 82.9,368.7 83.0,368.8 83.1,368.8 83.2,368.8 83.4,368.8 83.5,368.8 83.6,368.8 83.7,368.8 83.8,368.8 83.9,368.8 84.0,368.8 84.2,368.8 84.3,368.8 84.4,368.8 84.5,368.8 84.6,368.8 84.7,368.8 84.9,368.8 85.0,368.8 85.1,368.8 85.2,368.8 85.3,368.8 85.4,368.8 85.5,368.8 85.7,368.8 85.8,368.8 85.9,368.8 86.0,368.8 86.1,368.8 86.2,368.8 86.4,368.8 86.5,368.8 86.6,368.8 86.7,368.8 86.8,368.8 86.9,368.8 87.0,368.8 87.2,368.8 87.3,368.8 87.4,368.8 87.5,368.8 87.6,368.7 87.7,368.7 87.9,368.7 88.0,368.7 88.1,368.7 88.2,368.7 88.3,368.7 88.4,368.7 88.5,368.7 88.7,368.7 88.8,368.7 88.9,368.7 89.0,368.7 89.1,368.7 89.2,368.7 89.4,368.7 89.5,368.7 89.6,368.7 89.7,368.7 89.8,368.7 89.9,368.7 90.0,368.7 90.2,368.7 90.3,368.7 90.4,368.7 90.5,368.7 90.6,368.7 90.7,368.7 90.9,368.7 91.0,368.7 91.1,368.7 91.2,368.7 91.3,368.7 91.4,368.6 91.5,368.6 91.7,368.6 91.8,368.6 91.9,368.6 92.0,368.6 92.1,368.6 92.2,368.6 92.4,368.6 92.5,368.6 92.6,368.6 92.7,368.6 92.8,368.6 92.9,368.6 93.0,368.6 93.2,368.6 93.3,368.6 93.4,368.6 93.5,368.5 93.6,368.5 93.7,368.6 93.9,368.6 94.0,368.6 94.1,368.6 94.2,368.6 94.3,368.6 94.4,368.6 94.5,368.6 94.7,368.6 94.8,368.6 94.9,368.6 95.0,368.6 95.1,368.6 95.2,368.6 95.4,368.6 95.5,368.6 95.6,368.6 95.7,368.6 95.8,368.5 95.9,368.5 96.0,368.5 96.2,368.5 96.3,368.5 96.4,368.5 96.5,368.5 96.6,368.5 96.7,368.5 96.9,368.5 97.0,368.5 97.1,368.5 97.2,368.5 97.3,368.5 97.4,368.5 97.5,368.5 97.7,368.5 97.8,368.5 97.9,368.5 98.0,368.5 98.1,368.5 98.2,368.5 98.4,368.5 98.5,368.4 98.6,368.4 98.7,368.4 98.8,368.4 98.9,368.4 99.0,368.4 99.2,368.4 99.3,368.4 99.4,368.4 99.5,368.4 99.6,368.4 99.7,368.4 99.9,368.4 100.0,368.4 100.1,368.4 100.2,368.4 100.3,368.4 100.4,368.4 100.5,368.4 100.7,368.4 100.8,368.4 100.9,368.3 101.0,368.3 101.1,368.3 101.2,368.3 101.4,368.3 101.5,368.3 101.6,368.3 101.7,368.3 101.8,368.3 101.9,368.3 102.4,368.3 102.9,368.2 103.3,368.1 103.8,367.9 104.2,367.7 104.7,367.7 105.2,367.6 105.6,367.4 106.1,367.1 106.5,367.3 107.0,366.7 107.5,367.2 107.9,367.0 108.4,366.5 108.9,366.5 109.3,366.7 109.8,366.4 110.2,366.5 110.7,365.9 111.2,365.8 111.6,366.1 112.1,365.4 112.5,365.5 113.0,365.2 113.5,364.9 113.9,365.0 114.4,364.3 114.9,364.0 115.3,363.8 115.8,363.2 116.2,363.8 116.7,364.4 117.2,363.5 117.6,362.8 118.1,362.7 118.5,362.3 119.0,362.0 119.5,362.6 119.9,362.5 120.4,363.0 120.9,361.5 121.3,362.3 121.8,362.7 122.2,362.7 122.7,362.1 123.2,360.7 123.6,361.1 124.1,362.7 124.6,361.5 125.0,361.2 125.5,360.9 125.9,361.0 126.4,361.5 126.9,360.7 127.3,361.3 127.8,362.5 128.2,361.6 128.7,361.6 129.2,360.6 129.6,360.7 130.1,362.2 130.6,361.4 131.0,361.6 131.5,362.7 131.9,363.2 132.4,362.0 132.9,361.9 133.3,362.5 133.8,364.0 134.2,362.3 134.7,362.8 135.2,363.1 135.6,362.8 136.1,363.4 136.6,362.4 137.0,362.8 137.5,363.3 137.9,362.8 138.4,363.0 138.9,364.1 139.3,363.2 139.8,363.5 140.2,364.4 140.7,363.8 141.2,363.1 141.6,363.8 142.1,362.6 142.6,362.5 143.0,363.8 143.5,363.4 143.9,362.5 144.4,364.0 144.9,364.4 145.3,364.2 145.8,364.8 146.2,364.8 146.7,364.0 147.2,364.4 147.6,364.1 148.1,364.0 148.6,364.8 149.0,364.5 149.5,364.6 149.9,364.9 150.4,365.0 150.9,364.4 151.3,364.7 151.8,364.4 152.2,364.1 152.7,364.0 153.2,365.1 153.6,364.9 154.1,364.6 154.6,364.4 155.0,364.0 155.5,364.9 155.9,364.7 156.4,364.3 156.9,363.8 157.3,363.7 157.8,364.9 158.2,364.5 158.7,364.8 159.2,364.0 159.6,364.1 160.1,364.5 160.6,364.6 161.0,364.2 161.5,363.8 161.9,364.6 162.4,364.4 162.9,364.2 163.3,364.2 163.8,364.1 164.2,364.7 164.7,364.5 165.2,365.1 165.6,364.1 166.1,363.7 166.6,365.1 167.0,364.4 167.5,363.7 167.9,364.2 168.4,364.9 168.9,363.5 169.3,364.7 169.8,363.4 170.2,364.3 170.7,364.3 171.2,364.0 171.6,364.0 172.1,363.7 172.6,363.7 173.0,364.0 173.5,363.4 173.9,363.6 174.4,363.8 174.9,363.9 175.3,364.0 175.8,364.0 176.2,363.7 176.7,363.7 177.2,363.9 177.6,363.5 178.1,364.0 178.6,363.8 179.0,363.6 179.5,364.4 179.9,364.0 180.4,363.3 180.9,364.3 181.3,363.5 181.8,364.3 182.3,363.8 182.7,364.3 183.2,364.2 183.6,364.1 184.1,364.1 184.6,363.6 185.0,363.7 185.5,363.7 185.9,363.9 186.4,363.4 186.9,363.6 187.3,363.8 187.8,364.3 188.3,363.7 188.7,363.7 189.2,363.9 189.6,363.7 190.1,363.7 190.6,364.1 191.0,363.8 191.5,363.8 191.9,363.9 192.4,364.1 192.9,364.1 193.3,363.9 193.8,363.5 194.3,363.2 194.7,364.1 195.2,364.3 195.6,364.1 196.1,364.3 196.6,364.1 197.0,363.8 197.5,364.3 197.9,363.8 198.4,363.7 198.9,363.5 199.3,363.4 199.8,363.6 200.3,363.2 200.7,364.2 201.2,363.9 201.6,363.9 202.1,363.8 202.6,363.6 203.0,364.1 203.5,363.4 203.9,363.6 204.4,363.9 204.9,363.8 205.3,364.3 205.8,364.9 206.3,364.0 206.7,363.9 207.2,363.9 207.6,364.4 208.1,364.2 208.6,363.4 209.0,363.8 209.5,363.8 209.9,364.1 210.4,363.8 210.9,363.6 211.3,363.8 211.8,364.2 212.3,363.9 212.7,364.3 213.2,364.1 213.6,363.8 214.1,364.2 214.6,364.1 215.0,363.5 215.5,364.1 215.9,363.8 216.4,364.1 216.9,364.4 217.3,364.0 217.8,364.2 218.3,364.7 218.7,364.4 219.2,364.2 219.6,363.5 220.1,364.2 220.6,364.0 221.0,363.8 221.5,363.9 221.9,364.2 222.4,363.5 222.9,363.6 223.3,364.9 223.8,363.7 224.3,363.9 224.7,363.7 225.2,364.0 225.6,363.8 226.1,363.4 226.6,363.5 227.0,363.4 227.5,363.7 227.9,363.7 228.4,363.7 228.9,364.4 229.3,363.3 229.8,364.0 230.3,364.0 230.7,364.0 231.2,363.9 231.6,364.8 232.1,364.0 232.6,364.5 233.0,364.4 233.5,364.7 233.9,364.7 234.4,363.9 234.9,364.2 235.3,364.1 235.8,364.1 236.3,364.5 236.7,364.3 237.2,364.5 237.6,364.2 238.1,364.8 238.6,364.2 239.0,363.8 239.5,363.7 240.0,363.7 240.4,363.9 240.9,364.4 241.3,363.8 241.8,363.9 242.3,364.0 242.7,364.5 243.2,364.0 243.6,363.6 244.1,363.9 244.6,364.2 245.0,363.9 245.5,364.1 246.0,364.0 246.4,363.8 246.9,364.0 247.3,364.1 247.8,364.0 248.3,364.4 248.7,364.4 249.2,364.0 249.6,364.3 250.1,363.9 250.6,364.7 251.0,363.7 251.5,364.2 252.0,363.6 252.4,365.0 252.9,364.7 253.3,363.7 253.8,364.1 254.3,364.0 254.7,364.1 255.2,364.1 255.6,364.0 256.1,364.5 256.6,364.2 257.0,363.7 257.5,364.1 258.0,364.3 258.4,364.1 258.9,363.8 259.3,364.2 259.8,364.2 260.3,364.0 260.7,363.9 261.2,363.7 261.6,364.2 262.1,364.0 262.6,363.8 263.0,364.8 263.5,364.1 264.0,364.0 264.4,364.2 264.9,364.4 265.3,364.0 265.8,363.7" fill="none" stroke="#000000" stroke-width="1.5" stroke-linejoin="round"/>
<polyline points="35.0,368.8 36.2,368.8 37.3,368.8 38.5,368.8 39.6,368.8 40.8,368.8 41.9,368.8 43.1,368.8 44.2,368.8 45.4,368.8 46.5,368.8 47.7,368.8 48.8,368.8 50.0,368.8 51.2,368.8 51.3,368.8 51.4,368.8 51.5,368.8 51.6,368.8 51.7,368.8 51.8,368.8 52.0,368.8 52.1,368.8 52.2,368.8 52.3,368.8 52.4,368.8 52.5,368.8 52.7,368.8 52.8,368.8 52.9,368.8 53.0,368.8 53.1,368.8 53.2,368.8 53.3,368.8 53.5,368.8 53.6,368.8 53.7,368.8 53.8,368.8 53.9,368.8 54.0,368.8 54.2,368.8 54.3,368.8 54.4,368.8 54.5,368.8 54.6,368.8 54.7,368.8 54.8,368.8 55.0,368.8 55.1,368.8 55.2,368.8 55.3,368.8 55.4,368.8 55.5,368.8 55.7,368.8 55.8,368.8 55.9,368.8 56.0,368.8 56.1,368.8 56.2,368.8 56.3,368.8 56.5,368.8 56.6,368.8 56.7,368.8 56.8,368.8 56.9,368.8 57.0,368.8 57.2,368.8 57.3,368.8 57.4,368.8 57.5,368.8 57.6,368.8 57.7,368.8 57.8,368.8 58.0,368.8 58.1,368.8 58.2,368.8 58.3,368.8 58.4,368.8 58.5,368.8 58.7,368.8 58.8,368.8 58.9,368.8 59.0,368.8 59.1,368.8 59.2,368.8 59.3,368.8 59.5,368.8 59.6,368.8 59.7,368.8 59.8,368.8 59.9,368.8 60.0,368.8 60.2,368.8 60.3,368.8 60.4,368.8 60.5,368.8 60.6,368.8 60.7,368.8 60.8,368.8 61.0,368.8 61.1,368.8 61.2,368.8 61.3,368.8 61.4,368.8 61.5,368.8 61.7,368.8 61.8,368.8 61.9,368.8 62.0,368.8 62.1,368.8 62.2,368.8 62.3,368.8 62.5,368.8 62.6,368.8 62.7,368.8 62.8,368.8 62.9,368.8 63.0,368.8 63.2,368.8 63.3,368.8 63.4,368.8 63.5,368.8 63.6,368.8 63.7,368.8 63.9,368.8 64.0,368.8 64.1,368.8 64.2,368.8 64.3,368.8 64.4,368.8 64.5,368.8 64.7,368.8 64.8,368.8 64.9,368.8 65.0,368.8 65.1,368.8 65.2,368.8 65.4,368.8 65.5,368.8 65.6,368.8 65.7,368.8 65.8,368.8 65.9,368.8 66.0,368.8 66.2,368.8 66.3,368.8 66.4,368.8 66.5,368.8 66.6,368.8 66.7,368.8 66.9,368.8 67.0,368.8 67.1,368.8 67.2,368.8 67.3,368.8 67.4,368.8 67.5,368.8 67.7,368.8 67.8,368.8 67.9,368.8 68.0,368.8 68.1,368.8 68.2,368.8 68.4,368.8 68.5,368.8 68.6,368.8 68.7,368.8 68.8,368.8 68.9,368.8 69.0,368.8 69.2,368.8 69.3,368.8 69.4,368.8 69.5,368.8 69.6,368.8 69.7,368.8 69.9,368.8 70.0,368.8 70.1,368.8 70.2,368.8 70.3,368.8 70.4,368.8 70.5,368.8 70.7,368.8 70.8,368.8 70.9,368.8 71.0,368.8 71.1,368.8 71.2,368.8 71.4,368.8 71.5,368.8 71.6,368.8 71.7,368.8 71.8,368.8 71.9,368.8 72.0,368.8 72.2,368.8 72.3,368.8 72.4,368.8 72.5,368.8 72.6,368.7 72.7,368.7 72.9,368.6 73.0,368.5 73.1,368.3 73.2,368.1 73.3,367.9 73.4,367.5 73.5,367.1 73.7,366.5 73.8,365.9 73.9,365.3 74.0,364.6 74.1,363.9 74.2,363.2 74.4,362.6 74.5,362.1 74.6,361.8 74.7,361.7 74.8,361.7 74.9,361.9 75.0,362.2 75.2,362.6 75.3,363.3 75.4,364.0 75.5,364.7 75.6,365.3 75.7,365.8 75.9,366.2 76.0,366.5 76.1,366.7 76.2,367.0 76.3,367.1 76.4,366.8 76.5,365.6 76.7,364.1 76.8,362.5 76.9,360.7 77.0,358.8 77.1,357.0 77.2,355.1 77.4,353.2 77.5,351.2 77.6,349.0 77.7,346.8 77.8,344.5 77.9,342.1 78.0,339.7 78.2,337.2 78.3,334.8 78.4,332.2 78.5,335.5 78.6,338.7 78.7,341.8 78.9,344.8 79.0,348.3 79.1,351.7 79.2,355.1 79.3,358.3 79.4,360.2 79.5,361.8 79.7,360.2 79.8,357.5 79.9,355.4 80.0,353.2 80.1,350.9 80.2,348.5 80.4,346.3 80.5,344.0 80.6,344.2 80.7,344.5 80.8,344.2 80.9,343.9 81.0,343.6 81.2,343.3 81.3,343.4 81.4,343.4 81.5,343.4 81.6,343.5 81.7,343.2 81.9,342.9 82.0,344.7 82.1,346.5 82.2,348.1 82.3,349.6 82.4,351.0 82.5,352.4 82.7,354.8 82.8,357.1 82.9,359.3 83.0,361.4 83.1,362.1 83.2,362.6 83.4,362.2 83.5,361.8 83.6,361.9 83.7,362.0 83.8,362.0 83.9,362.1 84.0,362.4 84.2,362.6 84.3,362.9 84.4,363.1 84.5,363.0 84.6,362.9 84.7,362.7 84.9,362.4 85.0,362.9 85.1,363.4 85.2,363.9 85.3,364.4 85.4,364.2 85.5,364.1 85.7,363.9 85.8,363.7 85.9,363.3 86.0,362.8 86.1,362.4 86.2,362.0 86.4,362.7 86.5,363.4 86.6,364.0 86.7,364.7 86.8,364.8 86.9,364.8 87.0,364.9 87.2,365.0 87.3,365.0 87.4,365.0 87.5,365.0 87.6,365.0 87.7,364.9 87.9,364.7 88.0,364.6 88.1,364.5 88.2,365.0 88.3,365.4 88.4,365.8 88.5,366.2 88.7,366.3 88.8,366.4 88.9,366.4 89.0,366.5 89.1,366.9 89.2,367.2 89.4,367.5 89.5,367.8 89.6,367.8 89.7,367.9 89.8,367.9 89.9,368.0 90.0,368.1 90.2,368.2 90.3,368.3 90.4,368.5 90.5,368.5 90.6,368.5 90.7,368.6 90.9,368.6 91.0,368.6 91.1,368.7 91.2,368.7 91.3,368.7 91.4,368.8 91.5,368.8 91.7,368.3 91.8,367.7 91.9,367.3 92.0,366.9 92.1,366.5 92.2,366.3 92.4,366.1 92.5,365.9 92.6,365.8 92.7,365.7 92.8,365.1 92.9,364.4 93.0,363.7 93.2,362.9 93.3,362.7 93.4,362.5 93.5,362.3 93.6,362.1 93.7,362.4 93.9,362.7 94.0,363.0 94.1,363.3 94.2,362.6 94.3,361.8 94.4,361.0 94.5,360.2 94.7,360.4 94.8,360.5 94.9,360.6 95.0,360.7 95.1,360.2 95.2,359.8 95.4,359.3 95.5,358.8 95.6,358.6 95.7,358.3 95.8,358.0 95.9,357.8 96.0,356.9 96.2,356.1 96.3,355.2 96.4,354.3 96.5,354.6 96.6,354.9 96.7,355.9 96.9,356.9 97.0,357.2 97.1,357.4 97.2,357.7 97.3,357.9 97.4,358.2 97.5,358.5 97.7,358.7 97.8,359.0 97.9,359.1 98.0,359.3 98.1,359.4 98.2,359.5 98.4,359.9 98.5,360.3 98.6,360.5 98.7,360.7 98.8,361.7 98.9,362.7 99.0,363.7 99.2,364.7 99.3,364.1 99.4,363.6 99.5,363.2 99.6,362.8 99.7,363.3 99.9,363.8 100.0,364.3 100.1,364.8 100.2,364.9 100.3,364.9 100.4,365.1 100.5,365.2 100.7,365.5 100.8,365.8 100.9,365.9 101.0,366.0 101.1,366.3 101.2,366.5 101.4,366.8 101.5,367.0 101.6,367.0 101.7,367.0 101.8,366.9 101.9,366.9 102.4,367.3 102.9,367.2 103.3,367.0 103.8,367.8 104.2,368.2 104.7,368.1 105.2,368.7 105.6,368.7 106.1,368.6 106.5,368.6 107.0,368.3 107.5,368.1 107.9,368.1 108.4,368.0 108.9,367.9 109.3,368.2 109.8,367.6 110.2,368.0 110.7,367.8 111.2,367.3 111.6,367.0 112.1,367.6 112.5,366.7 113.0,366.3 113.5,366.9 113.9,366.9 114.4,366.7 114.9,366.9 115.3,367.0 115.8,366.1 116.2,365.8 116.7,366.4 117.2,366.2 117.6,366.2 118.1,366.1 118.5,366.2 119.0,366.5 119.5,364.1 119.9,365.2 120.4,364.5 120.9,362.5 121.3,364.8 121.8,363.4 122.2,365.5 122.7,364.5 123.2,362.6 123.6,363.7 124.1,365.1 124.6,365.1 125.0,362.3 125.5,363.9 125.9,361.5 126.4,361.9 126.9,362.6 127.3,362.2 127.8,361.0 128.2,361.9 128.7,363.2 129.2,361.3 129.6,362.2 130.1,362.0 130.6,360.8 131.0,361.0 131.5,360.0 131.9,361.6 132.4,361.9 132.9,361.6 133.3,360.6 133.8,362.1 134.2,361.4 134.7,362.1 135.2,362.0 135.6,361.2 136.1,357.7 136.6,361.5 137.0,360.7 137.5,360.9 137.9,361.3 138.4,361.0 138.9,358.4 139.3,361.5 139.8,358.9 140.2,360.3 140.7,362.4 141.2,362.1 141.6,361.8 142.1,362.7 142.6,359.7 143.0,360.7 143.5,360.6 143.9,362.7 144.4,360.7 144.9,362.1 145.3,358.1 145.8,361.5 146.2,361.1 146.7,361.1 147.2,362.4 147.6,362.5 148.1,362.6 148.6,361.1 149.0,363.3 149.5,362.7 149.9,362.2 150.4,363.3 150.9,364.7 151.3,364.6 151.8,363.7 152.2,364.6 152.7,362.2 153.2,363.6 153.6,363.8 154.1,365.0 154.6,363.4 155.0,364.5 155.5,365.2 155.9,364.8 156.4,361.6 156.9,364.8 157.3,365.0 157.8,362.9 158.2,363.3 158.7,364.4 159.2,362.6 159.6,365.5 160.1,364.5 160.6,365.7 161.0,362.6 161.5,363.9 161.9,361.3 162.4,363.5 162.9,363.4 163.3,365.1 163.8,365.1 164.2,364.4 164.7,363.0 165.2,364.9 165.6,366.2 166.1,363.0 166.6,363.0 167.0,364.7 167.5,363.4 167.9,362.7 168.4,362.7 168.9,365.3 169.3,363.7 169.8,364.5 170.2,362.8 170.7,363.7 171.2,364.9 171.6,363.6 172.1,363.2 172.6,365.2 173.0,365.0 173.5,364.3 173.9,364.0 174.4,364.2 174.9,365.3 175.3,365.1 175.8,363.7 176.2,363.2 176.7,364.4 177.2,363.4 177.6,361.9 178.1,363.7 178.6,363.9 179.0,364.1 179.5,363.1 179.9,363.3 180.4,363.2 180.9,363.8 181.3,363.1 181.8,363.0 182.3,363.5 182.7,362.4 183.2,364.6 183.6,362.7 184.1,363.4 184.6,362.6 185.0,361.7 185.5,363.2 185.9,363.4 186.4,363.3 186.9,362.2 187.3,362.0 187.8,363.2 188.3,362.8 188.7,361.8 189.2,362.9 189.6,364.5 190.1,364.0 190.6,363.7 191.0,363.0 191.5,363.8 191.9,362.2 192.4,363.7 192.9,362.1 193.3,363.9 193.8,362.2 194.3,363.2 194.7,362.2 195.2,361.8 195.6,361.9 196.1,362.5 196.6,363.9 197.0,364.0 197.5,365.9 197.9,362.2 198.4,362.3 198.9,362.5 199.3,364.3 199.8,361.2 200.3,363.9 200.7,362.7 201.2,364.7 201.6,363.9 202.1,362.4 202.6,362.6 203.0,364.2 203.5,363.5 203.9,362.5 204.4,364.9 204.9,362.8 205.3,364.6 205.8,362.9 206.3,363.6 206.7,362.7 207.2,363.9 207.6,363.7 208.1,363.7 208.6,364.2 209.0,363.7 209.5,364.3 209.9,363.9 210.4,363.0 210.9,363.8 211.3,362.7 211.8,363.0 212.3,362.9 212.7,364.4 213.2,363.2 213.6,362.4 214.1,362.9 214.6,362.6 215.0,362.4 215.5,364.8 215.9,363.1 216.4,363.2 216.9,363.7 217.3,364.6 217.8,363.5 218.3,363.7 218.7,362.1 219.2,362.6 219.6,363.9 220.1,364.4 220.6,364.3 221.0,363.7 221.5,364.2 221.9,362.1 222.4,364.6 222.9,363.7 223.3,363.6 223.8,363.3 224.3,364.4 224.7,363.8 225.2,363.5 225.6,363.4 226.1,364.1 226.6,363.9 227.0,363.5 227.5,362.3 227.9,364.6 228.4,363.2 228.9,362.5 229.3,364.8 229.8,362.6 230.3,362.7 230.7,363.7 231.2,363.0 231.6,362.6 232.1,363.8 232.6,363.6 233.0,364.5 233.5,364.3 233.9,363.7 234.4,363.8 234.9,362.5 235.3,363.9 235.8,364.7 236.3,363.1 236.7,363.1 237.2,363.5 237.6,363.9 238.1,364.4 238.6,364.3 239.0,362.7 239.5,363.2 240.0,363.7 240.4,363.5 240.9,364.1 241.3,364.5 241.8,364.2 242.3,363.9 242.7,365.0 243.2,364.9 243.6,365.1 244.1,364.2 244.6,363.4 245.0,364.9 245.5,364.7 246.0,365.1 246.4,364.2 246.9,364.8 247.3,364.7 247.8,364.7 248.3,362.3 248.7,364.0 249.2,364.4 249.6,364.3 250.1,363.4 250.6,363.3 251.0,363.8 251.5,365.4 252.0,363.3 252.4,363.2 252.9,363.5 253.3,363.7 253.8,364.0 254.3,363.2 254.7,364.2 255.2,363.3 255.6,364.4 256.1,364.3 256.6,364.4 257.0,364.4 257.5,364.4 258.0,363.5 258.4,363.0 258.9,364.6 259.3,364.8 259.8,363.2 260.3,364.3 260.7,363.9 261.2,364.0 261.6,363.5 262.1,364.7 262.6,363.3 263.0,363.6 263.5,365.7 264.0,364.2 264.4,364.4 264.9,363.9 265.3,364.2 265.8,364.7" fill="none" stroke="#ff0000" stroke-width="1.5" stroke-linejoin="round"/>
<polyline points="35.0,368.8 36.2,368.8 37.3,368.8 38.5,368.8 39.6,368.8 40.8,368.8 41.9,368.8 43.1,368.8 44.2,368.8 45.4,368.8 46.5,368.8 47.7,368.8 48.8,368.8 50.0,368.8 51.2,368.8 51.3,368.8 51.4,368.8 51.5,368.8 51.6,368.8 51.7,368.8 51.8,368.8 52.0,368.8 52.1,368.8 52.2,368.8 52.3,368.8 52.4,368.8 52.5,368.8 52.7,368.8 52.8,368.8 52.9,368.8 53.0,368.8 53.1,368.8 53.2,368.8 53.3,368.8 53.5,368.8 53.6,368.8 53.7,368.8 53.8,368.8 53.9,368.8 54.0,368.8 54.2,368.8 54.3,368.8 54.4,368.8 54.5,368.8 54.6,368.8 54.7,368.8 54.8,368.8 55.0,368.8 55.1,368.8 55.2,368.8 55.3,368.8 55.4,368.8 55.5,368.8 55.7,368.8 55.8,368.8 55.9,368.8 56.0,368.8 56.1,368.8 56.2,368.8 56.3,368.8 56.5,368.8 56.6,368.8 56.7,368.8 56.8,368.8 56.9,368.8 57.0,368.8 57.2,368.8 57.3,368.8 57.4,368.8 57.5,368.8 57.6,368.8 57.7,368.8 57.8,368.8 58.0,368.8 58.1,368.8 58.2,368.8 58.3,368.8 58.4,368.8 58.5,368.8 58.7,368.8 58.8,368.8 58.9,368.8 59.0,368.8 59.1,368.8 59.2,368.8 59.3,368.8 59.5,368.8 59.6,368.8 59.7,368.8 59.8,368.8 59.9,368.8 60.0,368.8 60.2,368.8 60.3,368.8 60.4,368.8 60.5,368.8 60.6,368.8 60.7,368.8 60.8,368.8 61.0,368.8 61.1,368.8 61.2,368.8 61.3,368.8 61.4,368.8 61.5,368.8 61.7,368.8 61.8,368.8 61.9,368.8 62.0,368.8 62.1,368.8 62.2,368.8 62.3,368.8 62.5,368.8 62.6,368.8 62.7,368.8 62.8,368.8 62.9,368.8 63.0,368.8 63.2,368.8 63.3,368.8 63.4,368.8 63.5,368.8 63.6,368.8 63.7,368.8 63.9,368.8 64.0,368.8 64.1,368.8 64.2,368.8 64.3,368.8 64.4,368.8 64.5,368.8 64.7,368.8 64.8,368.8 64.9,368.8 65.0,368.8 65.1,368.8 65.2,368.8 65.4,368.8 65.5,368.8 65.6,368.8 65.7,368.8 65.8,368.8 65.9,368.8 66.0,368.8 66.2,368.8 66.3,368.8 66.4,368.8 66.5,368.8 66.6,368.8 66.7,368.8 66.9,368.8 67.0,368.8 67.1,368.8 67.2,368.8 67.3,368.8 67.4,368.8 67.5,368.8 67.7,368.8 67.8,368.8 67.9,368.8 68.0,368.7 68.1,368.7 68.2,368.6 68.4,368.5 68.5,368.3 68.6,367.9 68.7,367.4 68.8,366.6 68.9,365.4 69.0,363.7 69.2,361.3 69.3,358.1 69.4,353.9 69.5,348.5 69.6,341.8 69.7,333.6 69.9,324.0 70.0,313.1 70.1,301.1 70.2,288.4 70.3,275.4 70.4,262.9 70.5,251.3 70.7,241.5 70.8,234.0 70.9,229.3 71.0,227.7 71.1,228.5 71.2,231.1 71.4,235.3 71.5,240.9 71.6,247.8 71.7,255.8 71.8,264.5 71.9,273.7 72.0,283.2 72.2,292.7 72.3,301.9 72.4,310.8 72.5,319.1 72.6,326.7 72.7,333.6 72.9,339.7 73.0,345.1 73.1,349.7 73.2,353.6 73.3,356.9 73.4,359.5 73.5,361.7 73.7,363.4 73.8,364.8 73.9,365.8 74.0,366.6 74.1,367.2 74.2,367.7 74.4,368.0 74.5,368.3 74.6,368.4 74.7,368.5 74.8,368.6 74.9,368.7 75.0,368.7 75.2,368.8 75.3,368.8 75.4,368.8 75.5,368.8 75.6,368.8 75.7,368.8 75.9,368.8 76.0,368.8 76.1,368.8 76.2,368.8 76.3,368.8 76.4,368.8 76.5,368.8 76.7,368.8 76.8,368.8 76.9,368.8 77.0,368.8 77.1,368.8 77.2,368.8 77.4,368.8 77.5,368.8 77.6,368.8 77.7,368.8 77.8,368.8 77.9,368.8 78.0,368.8 78.2,368.8 78.3,368.8 78.4,368.8 78.5,368.8 78.6,368.8 78.7,368.8 78.9,368.8 79.0,368.8 79.1,368.8 79.2,368.8 79.3,368.8 79.4,368.8 79.5,368.8 79.7,368.8 79.8,368.8 79.9,368.8 80.0,368.8 80.1,368.8 80.2,368.8 80.4,368.8 80.5,368.8 80.6,368.8 80.7,368.8 80.8,368.8 80.9,368.8 81.0,368.8 81.2,368.8 81.3,368.8 81.4,368.8 81.5,368.8 81.6,368.8 81.7,368.8 81.9,368.8 82.0,368.8 82.1,368.8 82.2,368.8 82.3,368.8 82.4,368.8 82.5,368.8 82.7,368.8 82.8,368.8 82.9,368.8 83.0,368.8 83.1,368.8 83.2,368.8 83.4,368.8 83.5,368.8 83.6,368.8 83.7,368.8 83.8,368.8 83.9,368.8 84.0,368.8 84.2,368.8 84.3,368.8 84.4,368.8 84.5,368.8 84.6,368.8 84.7,368.8 84.9,368.8 85.0,368.8 85.1,368.8 85.2,368.8 85.3,368.8 85.4,368.8 85.5,368.8 85.7,368.8 85.8,368.8 85.9,368.8 86.0,368.8 86.1,368.8 86.2,368.8 86.4,368.8 86.5,368.8 86.6,368.8 86.7,368.8 86.8,368.8 86.9,368.8 87.0,368.8 87.2,368.8 87.3,368.8 87.4,368.8 87.5,368.8 87.6,368.8 87.7,368.8 87.9,368.8 88.0,368.8 88.1,368.8 88.2,368.8 88.3,368.8 88.4,368.8 88.5,368.8 88.7,368.8 88.8,368.8 88.9,368.8 89.0,368.8 89.1,368.8 89.2,368.8 89.4,368.8 89.5,368.8 89.6,368.8 89.7,368.8 89.8,368.8 89.9,368.8 90.0,368.8 90.2,368.8 90.3,368.8 90.4,368.8 90.5,368.8 90.6,368.8 90.7,368.8 90.9,368.8 91.0,368.8 91.1,368.8 91.2,368.8 91.3,368.8 91.4,368.8 91.5,368.8 91.7,368.8 91.8,368.8 91.9,368.8 92.0,368.8 92.1,368.8 92.2,368.8 92.4,368.8 92.5,368.8 92.6,368.8 92.7,368.8 92.8,368.8 92.9,368.8 93.0,368.8 93.2,368.8 93.3,368.8 93.4,368.8 93.5,368.8 93.6,368.8 93.7,368.8 93.9,368.8 94.0,368.8 94.1,368.8 94.2,368.8 94.3,368.8 94.4,368.8 94.5,368.8 94.7,368.8 94.8,368.8 94.9,368.8 95.0,368.8 95.1,368.8 95.2,368.8 95.4,368.8 95.5,368.8 95.6,368.8 95.7,368.8 95.8,368.8 95.9,368.8 96.0,368.8 96.2,368.8 96.3,368.8 96.4,368.8 96.5,368.8 96.6,368.8 96.7,368.8 96.9,368.8 97.0,368.8 97.1,368.8 97.2,368.8 97.3,368.8 97.4,368.8 97.5,368.8 97.7,368.8 97.8,368.8 97.9,368.8 98.0,368.8 98.1,368.8 98.2,368.8 98.4,368.8 98.5,368.8 98.6,368.8 98.7,368.8 98.8,368.8 98.9,368.8 99.0,368.8 99.2,368.8 99.3,368.8 99.4,368.8 99.5,368.8 99.6,368.8 99.7,368.8 99.9,368.8 100.0,368.8 100.1,368.8 100.2,368.8 100.3,368.8 100.4,368.8 100.5,368.8 100.7,368.8 100.8,368.8 100.9,368.8 101.0,368.8 101.1,368.8 101.2,368.8 101.4,368.8 101.5,368.8 101.6,368.8 101.7,368.8 101.8,368.8 101.9,368.8 102.4,368.7 102.9,368.5 103.3,368.5 103.8,368.4 104.2,368.2 104.7,368.1 105.2,368.0 105.6,367.8 106.1,368.0 106.5,367.6 107.0,367.5 107.5,367.4 107.9,367.2 108.4,367.2 108.9,366.8 109.3,367.0 109.8,366.8 110.2,367.0 110.7,366.8 111.2,366.5 111.6,366.6 112.1,366.3 112.5,366.2 113.0,365.7 113.5,365.3 113.9,364.7 114.4,365.6 114.9,364.7 115.3,364.0 115.8,363.5 116.2,363.2 116.7,364.4 117.2,363.7 117.6,362.9 118.1,362.5 118.5,362.6 119.0,362.4 119.5,362.2 119.9,362.5 120.4,361.7 120.9,361.2 121.3,361.7 121.8,360.7 122.2,362.8 122.7,361.2 123.2,360.0 123.6,360.3 124.1,359.8 124.6,360.4 125.0,360.9 125.5,360.4 125.9,359.1 126.4,360.8 126.9,360.2 127.3,360.5 127.8,359.9 128.2,360.0 128.7,359.6 129.2,360.5 129.6,359.2 130.1,359.9 130.6,360.6 131.0,361.1 131.5,361.5 131.9,360.7 132.4,359.8 132.9,361.1 133.3,361.7 133.8,361.3 134.2,361.7 134.7,362.0 135.2,362.6 135.6,361.7 136.1,361.0 136.6,361.2 137.0,361.5 137.5,362.0 137.9,362.0 138.4,361.8 138.9,362.5 139.3,362.4 139.8,362.9 140.2,362.1 140.7,363.4 141.2,362.6 141.6,362.6 142.1,362.7 142.6,362.9 143.0,363.6 143.5,363.8 143.9,363.8 144.4,363.9 144.9,364.4 145.3,364.1 145.8,364.3 146.2,364.6 146.7,364.1 147.2,364.7 147.6,364.3 148.1,363.9 148.6,364.0 149.0,364.8 149.5,364.5 149.9,364.9 150.4,364.2 150.9,364.4 151.3,364.6 151.8,365.1 152.2,365.1 152.7,364.8 153.2,365.0 153.6,365.0 154.1,364.7 154.6,365.4 155.0,365.6 155.5,365.3 155.9,365.3 156.4,364.9 156.9,365.1 157.3,364.9 157.8,365.5 158.2,364.2 158.7,364.6 159.2,365.0 159.6,364.6 160.1,364.2 160.6,364.4 161.0,364.7 161.5,364.4 161.9,364.3 162.4,365.0 162.9,365.1 163.3,364.8 163.8,364.2 164.2,364.0 164.7,364.5 165.2,363.9 165.6,364.1 166.1,364.5 166.6,364.7 167.0,364.6 167.5,364.4 167.9,363.9 168.4,364.1 168.9,364.8 169.3,364.8 169.8,364.0 170.2,364.2 170.7,364.6 171.2,364.0 171.6,363.8 172.1,363.9 172.6,364.2 173.0,363.7 173.5,364.3 173.9,364.4 174.4,364.5 174.9,363.5 175.3,363.5 175.8,364.2 176.2,364.0 176.7,364.0 177.2,363.9 177.6,363.8 178.1,363.9 178.6,364.2 179.0,364.3 179.5,364.5 179.9,365.0 180.4,364.2 180.9,364.4 181.3,364.2 181.8,364.2 182.3,364.5 182.7,364.3 183.2,364.1 183.6,364.1 184.1,364.4 184.6,364.4 185.0,364.0 185.5,364.1 185.9,364.1 186.4,364.2 186.9,364.0 187.3,364.2 187.8,363.5 188.3,364.3 188.7,364.4 189.2,363.7 189.6,364.2 190.1,364.4 190.6,364.1 191.0,364.8 191.5,364.1 191.9,364.2 192.4,364.1 192.9,364.4 193.3,363.8 193.8,364.1 194.3,364.2 194.7,364.1 195.2,364.4 195.6,364.2 196.1,364.6 196.6,364.5 197.0,364.1 197.5,364.2 197.9,364.0 198.4,364.4 198.9,364.2 199.3,364.4 199.8,364.2 200.3,364.0 200.7,363.9 201.2,364.1 201.6,364.4 202.1,364.2 202.6,364.5 203.0,364.8 203.5,364.2 203.9,364.2 204.4,364.0 204.9,364.0 205.3,364.6 205.8,364.5 206.3,364.2 206.7,364.2 207.2,364.1 207.6,364.6 208.1,364.3 208.6,364.1 209.0,363.7 209.5,364.6 209.9,363.8 210.4,364.3 210.9,364.6 211.3,363.9 211.8,364.5 212.3,364.6 212.7,364.1 213.2,364.0 213.6,364.2 214.1,364.5 214.6,364.7 215.0,364.2 215.5,364.9 215.9,364.7 216.4,364.0 216.9,364.1 217.3,363.9 217.8,364.2 218.3,364.6 218.7,364.2 219.2,364.8 219.6,364.1 220.1,363.9 220.6,364.6 221.0,364.0 221.5,364.3 221.9,364.3 222.4,364.8 222.9,364.3 223.3,364.1 223.8,364.8 224.3,364.4 224.7,364.5 225.2,364.7 225.6,364.0 226.1,364.3 226.6,364.3 227.0,364.0 227.5,364.5 227.9,363.4 228.4,364.4 228.9,364.6 229.3,364.1 229.8,364.2 230.3,364.6 230.7,364.6 231.2,364.1 231.6,364.2 232.1,364.2 232.6,364.1 233.0,364.5 233.5,364.0 233.9,364.3 234.4,364.1 234.9,364.6 235.3,364.1 235.8,364.2 236.3,363.6 236.7,364.4 237.2,363.9 237.6,364.1 238.1,363.9 238.6,364.3 239.0,364.2 239.5,364.9 240.0,364.7 240.4,364.0 240.9,364.2 241.3,364.1 241.8,364.4 242.3,364.1 242.7,364.4 243.2,364.3 243.6,364.0 244.1,364.0 244.6,364.4 245.0,364.3 245.5,364.3 246.0,364.4 246.4,364.4 246.9,364.6 247.3,364.2 247.8,364.6 248.3,364.6 248.7,364.0 249.2,363.9 249.6,363.9 250.1,364.3 250.6,364.5 251.0,364.1 251.5,363.9 252.0,364.3 252.4,364.5 252.9,364.8 253.3,364.8 253.8,363.9 254.3,364.7 254.7,364.5 255.2,364.4 255.6,364.3 256.1,364.7 256.6,364.2 257.0,364.2 257.5,364.3 258.0,364.5 258.4,364.5 258.9,364.9 259.3,364.2 259.8,364.5 260.3,364.7 260.7,364.4 261.2,364.2 261.6,364.3 262.1,364.2 262.6,364.1 263.0,364.5 263.5,364.3 264.0,364.3 264.4,364.8 264.9,364.1 265.3,364.5 265.8,364.3" fill="none" stroke="#0000ff" stroke-width="1.5" stroke-linejoin="round"/>
<path d="M78.4 362.3L81.3 367.8L78.4 373.3L75.5 367.8Z" fill="#0000ff"/>
<path d="M84.2 362.3L87.1 367.8L84.2 373.3L81.3 367.8Z" fill="#000000"/>
<path d="M92.5 362.3L95.4 367.8L92.5 373.3L89.6 367.8Z" fill="#ff0000"/>
<text x="35.0" y="381.8" text-anchor="middle" class="t">0</text>
<text x="81.2" y="381.8" text-anchor="middle" class="t">2</text>
<text x="127.3" y="381.8" text-anchor="middle" class="t">4</text>
<text x="173.5" y="381.8" text-anchor="middle" class="t">6</text>
<text x="219.6" y="381.8" text-anchor="middle" class="t">8</text>
<text x="265.8" y="381.8" text-anchor="middle" class="t">10</text>
<text x="30.0" y="371.2" text-anchor="end" class="t">0</text>
<text x="30.0" y="348.0" text-anchor="end" class="t">5</text>
<text x="30.0" y="324.8" text-anchor="end" class="t">10</text>
<text x="30.0" y="301.6" text-anchor="end" class="t">15</text>
<text x="30.0" y="278.3" text-anchor="end" class="t">20</text>
<text x="30.0" y="255.1" text-anchor="end" class="t">25</text>
<text x="30.0" y="231.9" text-anchor="end" class="t">30</text>
<text x="30.0" y="208.7" text-anchor="end" class="t">35</text>
<text x="150.4" y="390.8" text-anchor="middle" class="ax">Distance (Å)</text>
<text transform="translate(14.6,282.2) rotate(-90)" text-anchor="middle" class="gr">g(r)</text>
<text x="4.5" y="210.1" class="pl">(c)</text>
<line x1="201.3" y1="217.7" x2="224.3" y2="217.7" stroke="#000000" stroke-width="1.5"/>
<text x="226.3" y="221.2" class="lg">Al-O</text>
<line x1="201.3" y1="229.8" x2="224.3" y2="229.8" stroke="#ff0000" stroke-width="1.5"/>
<text x="226.3" y="233.3" class="lg">Fe-O</text>
<line x1="201.3" y1="241.9" x2="224.3" y2="241.9" stroke="#0000ff" stroke-width="1.5"/>
<text x="226.3" y="245.4" class="lg">Si-O</text>
<rect x="309.5" y="206.3" width="231.0" height="162.2" fill="none" stroke="#333" stroke-width="1.3"/>
<path d="M309.5 368.5v3 M332.6 368.5v1.8 M355.7 368.5v3 M378.8 368.5v1.8 M401.9 368.5v3 M425.0 368.5v1.8 M448.1 368.5v3 M471.2 368.5v1.8 M494.3 368.5v3 M517.4 368.5v1.8 M540.5 368.5v3 M309.5 368.5h-3 M309.5 356.9h-1.8 M309.5 345.3h-3 M309.5 333.7h-1.8 M309.5 322.2h-3 M309.5 310.6h-1.8 M309.5 299.0h-3 M309.5 287.4h-1.8 M309.5 275.8h-3 M309.5 264.2h-1.8 M309.5 252.6h-3 M309.5 241.1h-1.8 M309.5 229.5h-3 M309.5 217.9h-1.8 M309.5 206.3h-3" stroke="#333" stroke-width="1.1" fill="none"/>
<polyline points="309.5,368.5 310.7,368.5 311.8,368.5 313.0,368.5 314.1,368.5 315.3,368.5 316.4,368.5 317.6,368.5 318.7,368.5 319.9,368.5 321.1,368.5 322.2,368.5 323.4,368.5 324.5,368.5 325.7,368.5 325.8,368.5 325.9,368.5 326.0,368.5 326.1,368.5 326.2,368.5 326.4,368.5 326.5,368.5 326.6,368.5 326.7,368.5 326.8,368.5 326.9,368.5 327.1,368.5 327.2,368.5 327.3,368.5 327.4,368.5 327.5,368.5 327.6,368.5 327.7,368.5 327.9,368.5 328.0,368.5 328.1,368.5 328.2,368.5 328.3,368.5 328.4,368.5 328.6,368.5 328.7,368.5 328.8,368.5 328.9,368.5 329.0,368.5 329.1,368.5 329.3,368.5 329.4,368.5 329.5,368.5 329.6,368.5 329.7,368.5 329.8,368.5 329.9,368.5 330.1,368.5 330.2,368.5 330.3,368.5 330.4,368.5 330.5,368.5 330.6,368.5 330.8,368.5 330.9,368.5 331.0,368.5 331.1,368.5 331.2,368.5 331.3,368.5 331.4,368.5 331.6,368.5 331.7,368.5 331.8,368.5 331.9,368.5 332.0,368.5 332.1,368.5 332.3,368.5 332.4,368.5 332.5,368.5 332.6,368.5 332.7,368.5 332.8,368.5 332.9,368.5 333.1,368.5 333.2,368.5 333.3,368.5 333.4,368.5 333.5,368.5 333.6,368.5 333.8,368.5 333.9,368.5 334.0,368.5 334.1,368.5 334.2,368.5 334.3,368.5 334.4,368.5 334.6,368.5 334.7,368.5 334.8,368.5 334.9,368.5 335.0,368.5 335.1,368.5 335.3,368.5 335.4,368.5 335.5,368.5 335.6,368.5 335.7,368.5 335.8,368.5 335.9,368.5 336.1,368.5 336.2,368.5 336.3,368.5 336.4,368.5 336.5,368.5 336.6,368.5 336.8,368.5 336.9,368.5 337.0,368.5 337.1,368.5 337.2,368.5 337.3,368.5 337.5,368.5 337.6,368.5 337.7,368.5 337.8,368.5 337.9,368.5 338.0,368.5 338.1,368.5 338.3,368.5 338.4,368.5 338.5,368.5 338.6,368.5 338.7,368.5 338.8,368.5 339.0,368.5 339.1,368.5 339.2,368.5 339.3,368.5 339.4,368.5 339.5,368.5 339.6,368.5 339.8,368.5 339.9,368.5 340.0,368.5 340.1,368.5 340.2,368.5 340.3,368.5 340.5,368.5 340.6,368.5 340.7,368.5 340.8,368.5 340.9,368.5 341.0,368.5 341.1,368.5 341.3,368.5 341.4,368.5 341.5,368.5 341.6,368.5 341.7,368.5 341.8,368.5 342.0,368.5 342.1,368.5 342.2,368.5 342.3,368.5 342.4,368.5 342.5,368.5 342.6,368.5 342.8,368.5 342.9,368.5 343.0,368.5 343.1,368.5 343.2,368.5 343.3,368.5 343.5,368.5 343.6,368.5 343.7,368.5 343.8,368.5 343.9,368.5 344.0,368.5 344.2,368.5 344.3,368.5 344.4,368.5 344.5,368.5 344.6,368.5 344.7,368.5 344.8,368.5 345.0,368.5 345.1,368.5 345.2,368.5 345.3,368.5 345.4,368.5 345.5,368.5 345.7,368.5 345.8,368.5 345.9,368.5 346.0,368.5 346.1,368.5 346.2,368.5 346.3,368.5 346.5,368.5 346.6,368.5 346.7,368.5 346.8,368.5 346.9,368.5 347.0,368.5 347.2,368.5 347.3,368.5 347.4,368.5 347.5,368.5 347.6,368.5 347.7,368.5 347.8,368.5 348.0,368.5 348.1,368.5 348.2,368.5 348.3,368.5 348.4,368.5 348.5,368.5 348.7,368.5 348.8,368.5 348.9,368.5 349.0,366.9 349.1,364.5 349.2,361.7 349.3,358.7 349.5,355.3 349.6,351.8 349.7,348.1 349.8,344.3 349.9,340.3 350.0,336.1 350.2,331.8 350.3,327.4 350.4,322.9 350.5,318.3 350.6,313.6 350.7,308.8 350.8,303.9 351.0,299.0 351.1,293.9 351.2,297.6 351.3,301.3 351.4,304.9 351.5,308.5 351.7,312.0 351.8,315.5 351.9,318.9 352.0,322.2 352.1,325.6 352.2,328.8 352.4,332.0 352.5,335.1 352.6,338.2 352.7,341.2 352.8,344.1 352.9,347.0 353.0,349.7 353.2,352.4 353.3,354.9 353.4,357.4 353.5,359.8 353.6,362.0 353.7,364.0 353.9,365.8 354.0,367.4 354.1,368.5 354.2,368.5 354.3,368.5 354.4,368.5 354.5,368.5 354.7,368.5 354.8,368.5 354.9,368.5 355.0,368.5 355.1,368.5 355.2,368.5 355.4,368.5 355.5,368.5 355.6,368.5 355.7,368.5 355.8,368.5 355.9,368.5 356.0,368.5 356.2,368.5 356.3,368.5 356.4,368.5 356.5,368.5 356.6,368.5 356.7,368.5 356.9,368.5 357.0,368.5 357.1,368.5 357.2,368.5 357.3,368.5 357.4,368.5 357.5,368.5 357.7,368.5 357.8,368.5 357.9,368.5 358.0,368.5 358.1,368.5 358.2,368.5 358.4,368.5 358.5,368.5 358.6,368.5 358.7,368.5 358.8,368.5 358.9,368.5 359.0,368.5 359.2,368.5 359.3,368.5 359.4,368.5 359.5,368.5 359.6,368.5 359.7,368.5 359.9,368.5 360.0,368.5 360.1,368.5 360.2,368.5 360.3,368.5 360.4,368.5 360.6,368.4 360.7,368.4 360.8,368.4 360.9,368.4 361.0,368.3 361.1,368.3 361.2,368.3 361.4,368.2 361.5,368.2 361.6,368.2 361.7,368.1 361.8,368.1 361.9,368.1 362.1,368.1 362.2,368.0 362.3,368.0 362.4,368.0 362.5,367.9 362.6,367.9 362.7,367.8 362.9,367.7 363.0,367.7 363.1,367.6 363.2,367.7 363.3,367.7 363.4,367.8 363.6,367.8 363.7,367.7 363.8,367.6 363.9,367.5 364.0,367.4 364.1,367.4 364.2,367.4 364.4,367.3 364.5,367.3 364.6,367.3 364.7,367.4 364.8,367.4 364.9,367.4 365.1,367.4 365.2,367.3 365.3,367.2 365.4,367.1 365.5,367.1 365.6,367.0 365.7,367.0 365.9,367.0 366.0,367.0 366.1,367.0 366.2,367.0 366.3,367.0 366.4,367.0 366.6,366.9 366.7,366.9 366.8,366.9 366.9,366.9 367.0,366.9 367.1,366.9 367.3,367.0 367.4,366.8 367.5,366.6 367.6,366.4 367.7,366.2 367.8,366.2 367.9,366.1 368.1,366.1 368.2,366.0 368.3,366.1 368.4,366.1 368.5,366.1 368.6,366.2 368.8,366.3 368.9,366.4 369.0,366.5 369.1,366.6 369.2,366.5 369.3,366.5 369.4,366.4 369.6,366.4 369.7,366.4 369.8,366.4 369.9,366.3 370.0,366.3 370.1,366.4 370.3,366.5 370.4,366.5 370.5,366.6 370.6,366.5 370.7,366.5 370.8,366.5 370.9,366.4 371.1,366.4 371.2,366.3 371.3,366.2 371.4,366.2 371.5,366.2 371.6,366.3 371.8,366.3 371.9,366.4 372.0,366.5 372.1,366.6 372.2,366.6 372.3,366.7 372.4,366.7 372.6,366.6 372.7,366.6 372.8,366.6 372.9,366.4 373.0,366.3 373.1,366.2 373.3,366.1 373.4,366.1 373.5,366.2 373.6,366.2 373.7,366.2 373.8,366.2 373.9,366.2 374.1,366.2 374.2,366.2 374.3,366.0 374.4,365.9 374.5,365.8 374.6,365.7 374.8,365.7 374.9,365.8 375.0,365.9 375.1,366.0 375.2,366.0 375.3,366.1 375.5,366.1 375.6,366.2 375.7,366.1 375.8,366.1 375.9,366.0 376.0,366.0 376.1,365.8 376.3,365.6 376.4,365.4 376.5,365.2 377.0,366.2 377.4,365.3 377.9,365.3 378.3,365.8 378.8,365.8 379.3,365.1 379.7,365.3 380.2,365.5 380.6,364.4 381.1,364.9 381.6,364.7 382.0,364.7 382.5,364.7 383.0,364.3 383.4,364.4 383.9,363.8 384.3,363.4 384.8,363.2 385.3,362.9 385.7,362.6 386.2,362.9 386.7,363.6 387.1,362.4 387.6,364.0 388.0,363.2 388.5,362.4 389.0,363.6 389.4,361.3 389.9,362.8 390.4,363.0 390.8,362.3 391.3,362.1 391.7,361.3 392.2,361.2 392.7,360.2 393.1,360.7 393.6,360.3 394.0,360.8 394.5,359.6 395.0,360.2 395.4,361.0 395.9,358.8 396.4,360.4 396.8,360.4 397.3,360.3 397.7,359.3 398.2,360.7 398.7,360.0 399.1,359.3 399.6,358.4 400.1,359.9 400.5,359.7 401.0,360.3 401.4,358.4 401.9,359.8 402.4,359.7 402.8,359.6 403.3,360.3 403.7,359.7 404.2,360.5 404.7,358.7 405.1,359.8 405.6,359.8 406.1,358.9 406.5,360.5 407.0,358.8 407.4,358.7 407.9,360.2 408.4,359.2 408.8,359.8 409.3,359.3 409.8,360.0 410.2,360.9 410.7,360.0 411.1,360.8 411.6,360.7 412.1,360.3 412.5,360.4 413.0,360.9 413.5,362.5 413.9,361.3 414.4,362.1 414.8,361.4 415.3,362.4 415.8,361.5 416.2,362.2 416.7,362.7 417.1,362.6 417.6,364.0 418.1,362.6 418.5,363.0 419.0,363.8 419.5,363.0 419.9,363.1 420.4,363.2 420.8,363.6 421.3,363.1 421.8,363.2 422.2,363.7 422.7,363.9 423.2,364.2 423.6,364.4 424.1,363.8 424.5,364.5 425.0,365.0 425.5,364.2 425.9,363.7 426.4,364.4 426.8,363.8 427.3,364.0 427.8,364.7 428.2,364.1 428.7,364.3 429.2,363.9 429.6,365.6 430.1,363.8 430.5,363.8 431.0,364.6 431.5,363.6 431.9,364.2 432.4,364.0 432.9,363.7 433.3,363.4 433.8,364.0 434.2,363.7 434.7,363.8 435.2,364.4 435.6,363.2 436.1,363.6 436.6,363.9 437.0,363.5 437.5,363.7 437.9,364.2 438.4,363.5 438.9,363.9 439.3,363.6 439.8,363.4 440.2,363.4 440.7,363.0 441.2,363.7 441.6,363.9 442.1,364.1 442.6,364.1 443.0,363.5 443.5,363.6 443.9,364.1 444.4,364.0 444.9,363.9 445.3,363.0 445.8,364.1 446.3,363.5 446.7,364.4 447.2,363.7 447.6,363.0 448.1,364.2 448.6,363.1 449.0,364.4 449.5,363.6 449.9,364.1 450.4,363.6 450.9,363.7 451.3,363.3 451.8,363.5 452.3,363.6 452.7,363.8 453.2,363.5 453.6,363.9 454.1,363.9 454.6,363.9 455.0,363.4 455.5,362.8 456.0,363.7 456.4,362.9 456.9,364.0 457.3,363.9 457.8,363.5 458.3,363.4 458.7,363.4 459.2,363.1 459.7,363.7 460.1,363.3 460.6,363.6 461.0,364.6 461.5,364.0 462.0,363.8 462.4,363.6 462.9,363.5 463.3,363.8 463.8,363.2 464.3,364.0 464.7,363.7 465.2,363.3 465.7,364.1 466.1,363.2 466.6,363.3 467.0,363.7 467.5,363.7 468.0,363.7 468.4,363.7 468.9,363.2 469.4,363.5 469.8,364.1 470.3,364.2 470.7,363.5 471.2,364.6 471.7,364.2 472.1,363.9 472.6,363.7 473.0,363.2 473.5,363.6 474.0,362.5 474.4,363.6 474.9,363.4 475.4,363.3 475.8,363.7 476.3,363.4 476.7,363.5 477.2,363.6 477.7,363.9 478.1,363.8 478.6,363.4 479.1,363.7 479.5,363.6 480.0,363.6 480.4,363.6 480.9,363.7 481.4,363.5 481.8,363.4 482.3,363.2 482.8,363.5 483.2,363.9 483.7,363.9 484.1,363.5 484.6,364.2 485.1,363.9 485.5,363.4 486.0,363.8 486.4,363.9 486.9,363.3 487.4,364.6 487.8,363.7 488.3,363.9 488.8,363.9 489.2,363.4 489.7,363.2 490.1,363.3 490.6,363.5 491.1,363.6 491.5,363.8 492.0,363.7 492.5,364.3 492.9,363.9 493.4,363.5 493.8,363.8 494.3,363.5 494.8,364.3 495.2,363.9 495.7,364.1 496.1,363.4 496.6,363.8 497.1,363.8 497.5,364.2 498.0,363.9 498.5,364.1 498.9,363.9 499.4,363.0 499.8,364.1 500.3,363.8 500.8,364.1 501.2,363.3 501.7,364.1 502.2,364.1 502.6,363.6 503.1,363.2 503.5,363.7 504.0,364.0 504.5,364.6 504.9,365.0 505.4,363.8 505.9,363.8 506.3,363.4 506.8,363.6 507.2,363.9 507.7,363.3 508.2,363.2 508.6,364.0 509.1,363.5 509.5,363.4 510.0,364.0 510.5,363.6 510.9,363.8 511.4,363.4 511.9,363.4 512.3,364.5 512.8,363.9 513.2,363.3 513.7,363.6 514.2,364.1 514.6,364.0 515.1,364.2 515.6,363.7 516.0,364.2 516.5,363.4 516.9,363.5 517.4,363.2 517.9,363.4 518.3,363.5 518.8,363.5 519.2,363.6 519.7,364.5 520.2,363.6 520.6,364.1 521.1,364.6 521.6,363.3 522.0,363.8 522.5,364.4 522.9,363.7 523.4,363.7 523.9,363.7 524.3,363.3 524.8,364.2 525.3,363.5 525.7,364.1 526.2,363.7 526.6,363.6 527.1,364.0 527.6,363.0 528.0,364.4 528.5,364.3 529.0,364.0 529.4,364.1 529.9,363.4 530.3,364.0 530.8,363.4 531.3,364.0 531.7,363.6 532.2,363.6 532.6,363.8 533.1,363.6 533.6,363.7 534.0,363.1 534.5,363.0 535.0,364.0 535.4,363.7 535.9,363.5 536.3,363.7 536.8,363.2 537.3,363.0 537.7,364.5 538.2,364.0 538.7,363.4 539.1,363.7 539.6,364.1 540.0,363.9 540.5,363.8" fill="none" stroke="#000000" stroke-width="1.5" stroke-linejoin="round"/>
<polyline points="309.5,368.5 310.7,368.5 311.8,368.5 313.0,368.5 314.1,368.5 315.3,368.5 316.4,368.5 317.6,368.5 318.7,368.5 319.9,368.5 321.1,368.5 322.2,368.5 323.4,368.5 324.5,368.5 325.7,368.5 325.8,368.5 325.9,368.5 326.0,368.5 326.1,368.5 326.2,368.5 326.4,368.5 326.5,368.5 326.6,368.5 326.7,368.5 326.8,368.5 326.9,368.5 327.1,368.5 327.2,368.5 327.3,368.5 327.4,368.5 327.5,368.5 327.6,368.5 327.7,368.5 327.9,368.5 328.0,368.5 328.1,368.5 328.2,368.5 328.3,368.5 328.4,368.5 328.6,368.5 328.7,368.5 328.8,368.5 328.9,368.5 329.0,368.5 329.1,368.5 329.3,368.5 329.4,368.5 329.5,368.5 329.6,368.5 329.7,368.5 329.8,368.5 329.9,368.5 330.1,368.5 330.2,368.5 330.3,368.5 330.4,368.5 330.5,368.5 330.6,368.5 330.8,368.5 330.9,368.5 331.0,368.5 331.1,368.5 331.2,368.5 331.3,368.5 331.4,368.5 331.6,368.5 331.7,368.5 331.8,368.5 331.9,368.5 332.0,368.5 332.1,368.5 332.3,368.5 332.4,368.5 332.5,368.5 332.6,368.5 332.7,368.5 332.8,368.5 332.9,368.5 333.1,368.5 333.2,368.5 333.3,368.5 333.4,368.5 333.5,368.5 333.6,368.5 333.8,368.5 333.9,368.5 334.0,368.5 334.1,368.5 334.2,368.5 334.3,368.5 334.4,368.5 334.6,368.5 334.7,368.5 334.8,368.5 334.9,368.5 335.0,368.5 335.1,368.5 335.3,368.5 335.4,368.5 335.5,368.5 335.6,368.5 335.7,368.5 335.8,368.5 335.9,368.5 336.1,368.5 336.2,368.5 336.3,368.5 336.4,368.5 336.5,368.5 336.6,368.5 336.8,368.5 336.9,368.5 337.0,368.5 337.1,368.5 337.2,368.5 337.3,368.5 337.5,368.5 337.6,368.5 337.7,368.5 337.8,368.5 337.9,368.5 338.0,368.5 338.1,368.5 338.3,368.5 338.4,368.5 338.5,368.5 338.6,368.5 338.7,368.5 338.8,368.5 339.0,368.5 339.1,368.5 339.2,368.5 339.3,368.5 339.4,368.5 339.5,368.5 339.6,368.5 339.8,368.5 339.9,368.5 340.0,368.5 340.1,368.5 340.2,368.5 340.3,368.5 340.5,368.5 340.6,368.5 340.7,368.5 340.8,368.5 340.9,368.5 341.0,368.5 341.1,368.5 341.3,368.5 341.4,368.5 341.5,368.5 341.6,368.5 341.7,368.5 341.8,368.5 342.0,368.5 342.1,368.5 342.2,368.5 342.3,368.5 342.4,368.5 342.5,368.5 342.6,368.5 342.8,368.5 342.9,368.5 343.0,368.5 343.1,368.5 343.2,368.5 343.3,368.5 343.5,368.5 343.6,368.5 343.7,368.5 343.8,368.5 343.9,368.5 344.0,368.5 344.2,368.5 344.3,368.5 344.4,368.5 344.5,368.5 344.6,368.5 344.7,368.5 344.8,368.5 345.0,368.5 345.1,368.5 345.2,368.5 345.3,368.5 345.4,368.5 345.5,368.5 345.7,368.5 345.8,368.5 345.9,368.5 346.0,368.5 346.1,368.5 346.2,368.5 346.3,368.5 346.5,368.5 346.6,368.5 346.7,368.5 346.8,368.5 346.9,368.5 347.0,368.5 347.2,368.5 347.3,368.5 347.4,368.5 347.5,368.5 347.6,368.5 347.7,368.5 347.8,368.5 348.0,368.5 348.1,368.5 348.2,368.5 348.3,368.5 348.4,368.5 348.5,368.5 348.7,368.5 348.8,368.5 348.9,368.5 349.0,368.5 349.1,368.5 349.2,368.5 349.3,368.5 349.5,368.5 349.6,368.5 349.7,368.5 349.8,368.5 349.9,368.5 350.0,368.5 350.2,368.5 350.3,368.5 350.4,368.5 350.5,368.5 350.6,368.5 350.7,368.5 350.8,368.5 351.0,368.5 351.1,368.1 351.2,367.6 351.3,366.9 351.4,366.2 351.5,365.4 351.7,364.6 351.8,363.7 351.9,362.8 352.0,361.8 352.1,360.9 352.2,359.8 352.4,358.8 352.5,357.7 352.6,356.7 352.7,355.6 352.8,354.4 352.9,353.3 353.0,352.1 353.2,350.9 353.3,349.7 353.4,348.4 353.5,347.2 353.6,345.9 353.7,344.6 353.9,343.3 354.0,342.0 354.1,340.7 354.2,339.4 354.3,338.0 354.4,336.6 354.5,335.2 354.7,333.8 354.8,332.4 354.9,331.0 355.0,329.5 355.1,328.1 355.2,326.6 355.4,325.1 355.5,323.7 355.6,322.2 355.7,323.3 355.8,324.4 355.9,325.5 356.0,326.6 356.2,327.7 356.3,328.7 356.4,329.8 356.5,330.9 356.6,331.9 356.7,333.0 356.9,334.0 357.0,335.1 357.1,336.1 357.2,337.1 357.3,338.1 357.4,339.2 357.5,340.2 357.7,341.1 357.8,342.1 357.9,343.1 358.0,344.1 358.1,345.0 358.2,346.0 358.4,346.9 358.5,347.8 358.6,348.8 358.7,349.7 358.8,350.6 358.9,351.5 359.0,352.4 359.2,353.2 359.3,354.1 359.4,354.9 359.5,355.8 359.6,356.6 359.7,357.4 359.9,358.2 360.0,359.0 360.1,359.7 360.2,360.5 360.3,361.2 360.4,361.9 360.6,362.6 360.7,363.3 360.8,364.0 360.9,364.6 361.0,365.2 361.1,365.8 361.2,366.4 361.4,366.9 361.5,367.4 361.6,367.8 361.7,368.2 361.8,368.4 361.9,368.4 362.1,368.4 362.2,368.4 362.3,368.4 362.4,368.3 362.5,368.3 362.6,368.3 362.7,368.3 362.9,368.2 363.0,368.2 363.1,368.2 363.2,368.2 363.3,368.2 363.4,368.1 363.6,368.1 363.7,368.1 363.8,368.1 363.9,368.1 364.0,368.1 364.1,368.1 364.2,368.1 364.4,368.1 364.5,368.1 364.6,368.1 364.7,368.1 364.8,368.1 364.9,368.0 365.1,368.0 365.2,367.9 365.3,367.9 365.4,367.8 365.5,367.8 365.6,367.8 365.7,367.8 365.9,367.8 366.0,367.7 366.1,367.7 366.2,367.7 366.3,367.6 366.4,367.6 366.6,367.6 366.7,367.6 366.8,367.6 366.9,367.6 367.0,367.5 367.1,367.5 367.3,367.4 367.4,367.4 367.5,367.3 367.6,367.3 367.7,367.2 367.8,367.3 367.9,367.3 368.1,367.3 368.2,367.4 368.3,367.3 368.4,367.3 368.5,367.3 368.6,367.2 368.8,367.2 368.9,367.2 369.0,367.2 369.1,367.2 369.2,367.3 369.3,367.3 369.4,367.4 369.6,367.4 369.7,367.3 369.8,367.3 369.9,367.2 370.0,367.1 370.1,367.0 370.3,366.9 370.4,366.8 370.5,366.7 370.6,366.8 370.7,366.9 370.8,367.0 370.9,367.1 371.1,367.0 371.2,366.8 371.3,366.6 371.4,366.5 371.5,366.5 371.6,366.6 371.8,366.7 371.9,366.8 372.0,366.8 372.1,366.7 372.2,366.7 372.3,366.7 372.4,366.7 372.6,366.7 372.7,366.6 372.8,366.6 372.9,366.6 373.0,366.7 373.1,366.7 373.3,366.7 373.4,366.7 373.5,366.7 373.6,366.7 373.7,366.7 373.8,366.6 373.9,366.5 374.1,366.4 374.2,366.3 374.3,366.4 374.4,366.5 374.5,366.6 374.6,366.7 374.8,366.7 374.9,366.7 375.0,366.6 375.1,366.6 375.2,366.6 375.3,366.7 375.5,366.7 375.6,366.8 375.7,366.7 375.8,366.6 375.9,366.5 376.0,366.4 376.1,366.2 376.3,366.0 376.4,365.8 376.5,365.6 377.0,366.0 377.4,366.5 377.9,366.7 378.3,366.1 378.8,366.0 379.3,366.3 379.7,365.7 380.2,365.9 380.6,365.8 381.1,365.7 381.6,365.5 382.0,366.0 382.5,366.0 383.0,365.3 383.4,365.7 383.9,366.0 384.3,365.4 384.8,365.6 385.3,365.2 385.7,364.0 386.2,364.4 386.7,365.2 387.1,365.5 387.6,364.8 388.0,365.2 388.5,364.5 389.0,364.4 389.4,364.1 389.9,364.4 390.4,365.0 390.8,364.3 391.3,364.1 391.7,363.9 392.2,363.2 392.7,364.4 393.1,363.8 393.6,364.0 394.0,364.0 394.5,363.1 395.0,363.7 395.4,362.0 395.9,364.7 396.4,362.1 396.8,363.1 397.3,363.7 397.7,362.8 398.2,362.8 398.7,362.2 399.1,362.0 399.6,363.3 400.1,362.8 400.5,362.5 401.0,362.6 401.4,363.0 401.9,361.8 402.4,362.5 402.8,363.6 403.3,362.5 403.7,362.8 404.2,362.8 404.7,362.0 405.1,362.2 405.6,362.4 406.1,362.3 406.5,361.9 407.0,362.9 407.4,362.4 407.9,361.6 408.4,362.9 408.8,362.8 409.3,362.8 409.8,361.6 410.2,362.5 410.7,361.4 411.1,362.3 411.6,361.8 412.1,361.6 412.5,362.1 413.0,362.3 413.5,360.9 413.9,361.7 414.4,361.0 414.8,360.8 415.3,362.1 415.8,360.2 416.2,360.9 416.7,361.1 417.1,361.0 417.6,361.0 418.1,360.4 418.5,359.1 419.0,360.5 419.5,361.1 419.9,360.4 420.4,358.7 420.8,360.3 421.3,359.2 421.8,361.2 422.2,361.4 422.7,361.8 423.2,361.9 423.6,361.5 424.1,361.5 424.5,363.0 425.0,362.7 425.5,362.7 425.9,362.6 426.4,361.7 426.8,361.8 427.3,362.7 427.8,362.7 428.2,363.8 428.7,363.3 429.2,364.7 429.6,363.9 430.1,363.7 430.5,363.5 431.0,364.0 431.5,363.9 431.9,364.4 432.4,365.0 432.9,364.2 433.3,364.8 433.8,364.1 434.2,364.0 434.7,364.5 435.2,364.7 435.6,363.9 436.1,364.1 436.6,363.6 437.0,363.3 437.5,363.0 437.9,363.3 438.4,364.2 438.9,363.8 439.3,362.7 439.8,364.1 440.2,363.9 440.7,363.0 441.2,363.4 441.6,363.9 442.1,363.5 442.6,363.9 443.0,363.2 443.5,363.7 443.9,363.6 444.4,363.5 444.9,364.5 445.3,363.6 445.8,363.4 446.3,363.5 446.7,363.8 447.2,363.5 447.6,362.8 448.1,363.2 448.6,363.7 449.0,363.0 449.5,363.3 449.9,363.6 450.4,364.2 450.9,363.2 451.3,363.9 451.8,363.2 452.3,362.9 452.7,363.1 453.2,363.8 453.6,363.7 454.1,363.0 454.6,362.9 455.0,363.3 455.5,363.3 456.0,362.5 456.4,362.6 456.9,363.1 457.3,363.4 457.8,363.0 458.3,363.7 458.7,363.1 459.2,363.1 459.7,362.7 460.1,363.0 460.6,363.9 461.0,362.5 461.5,363.0 462.0,364.0 462.4,363.8 462.9,362.9 463.3,363.7 463.8,362.9 464.3,363.6 464.7,363.8 465.2,362.6 465.7,362.6 466.1,363.3 466.6,362.6 467.0,363.1 467.5,363.0 468.0,363.3 468.4,363.0 468.9,362.7 469.4,362.7 469.8,362.4 470.3,362.5 470.7,363.0 471.2,363.4 471.7,362.9 472.1,363.0 472.6,363.4 473.0,363.7 473.5,363.5 474.0,363.8 474.4,363.6 474.9,363.2 475.4,362.8 475.8,363.2 476.3,363.4 476.7,363.4 477.2,363.3 477.7,362.8 478.1,363.2 478.6,363.9 479.1,363.3 479.5,363.9 480.0,363.6 480.4,363.3 480.9,363.6 481.4,363.4 481.8,362.9 482.3,363.6 482.8,362.9 483.2,363.0 483.7,363.1 484.1,363.7 484.6,362.9 485.1,363.2 485.5,363.1 486.0,363.3 486.4,362.9 486.9,363.9 487.4,363.2 487.8,363.1 488.3,362.4 488.8,363.9 489.2,363.8 489.7,363.5 490.1,363.3 490.6,363.7 491.1,363.1 491.5,363.5 492.0,363.4 492.5,363.9 492.9,363.3 493.4,363.4 493.8,362.9 494.3,363.2 494.8,362.9 495.2,363.3 495.7,363.7 496.1,363.2 496.6,364.0 497.1,364.0 497.5,363.7 498.0,363.2 498.5,363.1 498.9,364.1 499.4,363.6 499.8,363.1 500.3,363.7 500.8,364.1 501.2,363.5 501.7,363.1 502.2,363.8 502.6,363.8 503.1,362.8 503.5,363.3 504.0,364.0 504.5,363.3 504.9,363.1 505.4,363.7 505.9,363.5 506.3,363.3 506.8,363.4 507.2,363.0 507.7,363.1 508.2,363.2 508.6,363.0 509.1,363.7 509.5,363.8 510.0,364.0 510.5,363.8 510.9,364.0 511.4,363.7 511.9,363.2 512.3,363.0 512.8,363.3 513.2,363.4 513.7,363.5 514.2,363.4 514.6,363.8 515.1,363.8 515.6,364.0 516.0,363.7 516.5,363.5 516.9,363.7 517.4,363.5 517.9,363.0 518.3,363.5 518.8,363.4 519.2,363.6 519.7,363.4 520.2,364.0 520.6,363.5 521.1,363.4 521.6,363.3 522.0,364.2 522.5,363.8 522.9,363.2 523.4,363.4 523.9,364.2 524.3,364.0 524.8,364.1 525.3,363.6 525.7,363.4 526.2,363.8 526.6,364.3 527.1,363.7 527.6,364.4 528.0,363.4 528.5,364.1 529.0,364.1 529.4,364.2 529.9,363.8 530.3,363.8 530.8,363.7 531.3,363.9 531.7,363.8 532.2,363.5 532.6,363.4 533.1,363.7 533.6,363.6 534.0,363.5 534.5,363.9 535.0,364.0 535.4,364.3 535.9,364.0 536.3,363.3 536.8,364.1 537.3,364.2 537.7,363.9 538.2,363.7 538.7,363.7 539.1,364.1 539.6,363.7 540.0,364.0 540.5,364.0" fill="none" stroke="#ff0000" stroke-width="1.5" stroke-linejoin="round"/>
<polyline points="309.5,368.5 310.7,368.5 311.8,368.5 313.0,368.5 314.1,368.5 315.3,368.5 316.4,368.5 317.6,368.5 318.7,368.5 319.9,368.5 321.1,368.5 322.2,368.5 323.4,368.5 324.5,368.5 325.7,368.5 325.8,368.5 325.9,368.5 326.0,368.5 326.1,368.5 326.2,368.5 326.4,368.5 326.5,368.5 326.6,368.5 326.7,368.5 326.8,368.5 326.9,368.5 327.1,368.5 327.2,368.5 327.3,368.5 327.4,368.5 327.5,368.5 327.6,368.5 327.7,368.5 327.9,368.5 328.0,368.5 328.1,368.5 328.2,368.5 328.3,368.5 328.4,368.5 328.6,368.5 328.7,368.5 328.8,368.5 328.9,368.5 329.0,368.5 329.1,368.5 329.3,368.5 329.4,368.5 329.5,368.5 329.6,368.5 329.7,368.5 329.8,368.5 329.9,368.5 330.1,368.5 330.2,368.5 330.3,368.5 330.4,368.5 330.5,368.5 330.6,368.5 330.8,368.5 330.9,368.5 331.0,368.5 331.1,368.5 331.2,368.5 331.3,368.5 331.4,368.5 331.6,368.5 331.7,368.5 331.8,368.5 331.9,368.5 332.0,368.5 332.1,368.5 332.3,368.5 332.4,368.5 332.5,368.5 332.6,368.5 332.7,368.5 332.8,368.5 332.9,368.5 333.1,368.5 333.2,368.5 333.3,368.5 333.4,368.5 333.5,368.5 333.6,368.5 333.8,368.5 333.9,368.5 334.0,368.5 334.1,368.5 334.2,368.5 334.3,368.5 334.4,368.5 334.6,368.5 334.7,368.5 334.8,368.5 334.9,368.5 335.0,368.5 335.1,368.5 335.3,368.5 335.4,368.5 335.5,368.5 335.6,368.5 335.7,368.5 335.8,368.5 335.9,368.5 336.1,368.5 336.2,368.5 336.3,368.5 336.4,368.5 336.5,368.5 336.6,368.5 336.8,368.5 336.9,368.5 337.0,368.5 337.1,368.5 337.2,368.5 337.3,368.5 337.5,368.5 337.6,368.5 337.7,368.5 337.8,368.5 337.9,368.5 338.0,368.5 338.1,368.5 338.3,368.5 338.4,368.5 338.5,368.5 338.6,368.5 338.7,368.5 338.8,368.5 339.0,368.5 339.1,368.5 339.2,368.5 339.3,368.5 339.4,368.5 339.5,368.5 339.6,368.5 339.8,368.5 339.9,368.5 340.0,368.5 340.1,368.5 340.2,368.5 340.3,368.5 340.5,368.5 340.6,368.5 340.7,368.5 340.8,368.5 340.9,368.5 341.0,368.5 341.1,368.5 341.3,368.5 341.4,368.5 341.5,368.5 341.6,368.5 341.7,368.5 341.8,368.5 342.0,368.5 342.1,368.5 342.2,368.5 342.3,368.4 342.4,368.4 342.5,368.3 342.6,368.2 342.8,368.0 342.9,367.7 343.0,367.2 343.1,366.6 343.2,365.6 343.3,364.3 343.5,362.5 343.6,360.1 343.7,357.0 343.8,353.0 343.9,348.1 344.0,342.2 344.2,335.2 344.3,327.2 344.4,318.4 344.5,308.9 344.6,299.1 344.7,289.2 344.8,279.8 345.0,271.3 345.1,264.1 345.2,258.6 345.3,255.2 345.4,254.0 345.5,254.7 345.7,256.8 345.8,260.2 345.9,264.8 346.0,270.4 346.1,276.8 346.2,283.9 346.3,291.4 346.5,299.1 346.6,306.8 346.7,314.3 346.8,321.4 346.9,328.2 347.0,334.4 347.2,340.0 347.3,344.9 347.4,349.3 347.5,353.0 347.6,356.2 347.7,358.8 347.8,361.0 348.0,362.7 348.1,364.1 348.2,365.2 348.3,366.1 348.4,366.7 348.5,367.2 348.7,367.6 348.8,367.9 348.9,368.1 349.0,368.2 349.1,368.3 349.2,368.4 349.3,368.4 349.5,368.4 349.6,368.5 349.7,368.5 349.8,368.5 349.9,368.5 350.0,368.5 350.2,368.5 350.3,368.5 350.4,368.5 350.5,368.5 350.6,368.5 350.7,368.5 350.8,368.5 351.0,368.5 351.1,368.5 351.2,368.5 351.3,368.5 351.4,368.5 351.5,368.5 351.7,368.5 351.8,368.5 351.9,368.5 352.0,368.5 352.1,368.5 352.2,368.5 352.4,368.5 352.5,368.5 352.6,368.5 352.7,368.5 352.8,368.5 352.9,368.5 353.0,368.5 353.2,368.5 353.3,368.5 353.4,368.5 353.5,368.5 353.6,368.5 353.7,368.5 353.9,368.5 354.0,368.5 354.1,368.5 354.2,368.5 354.3,368.5 354.4,368.5 354.5,368.5 354.7,368.5 354.8,368.5 354.9,368.5 355.0,368.5 355.1,368.5 355.2,368.5 355.4,368.5 355.5,368.5 355.6,368.5 355.7,368.5 355.8,368.5 355.9,368.5 356.0,368.5 356.2,368.5 356.3,368.5 356.4,368.5 356.5,368.5 356.6,368.5 356.7,368.5 356.9,368.5 357.0,368.5 357.1,368.5 357.2,368.5 357.3,368.5 357.4,368.5 357.5,368.5 357.7,368.5 357.8,368.5 357.9,368.5 358.0,368.5 358.1,368.5 358.2,368.5 358.4,368.5 358.5,368.5 358.6,368.5 358.7,368.5 358.8,368.5 358.9,368.5 359.0,368.5 359.2,368.5 359.3,368.5 359.4,368.5 359.5,368.5 359.6,368.5 359.7,368.5 359.9,368.5 360.0,368.5 360.1,368.5 360.2,368.5 360.3,368.5 360.4,368.5 360.6,368.5 360.7,368.5 360.8,368.5 360.9,368.5 361.0,368.5 361.1,368.5 361.2,368.5 361.4,368.5 361.5,368.5 361.6,368.5 361.7,368.5 361.8,368.5 361.9,368.5 362.1,368.5 362.2,368.5 362.3,368.5 362.4,368.5 362.5,368.5 362.6,368.5 362.7,368.5 362.9,368.5 363.0,368.5 363.1,368.5 363.2,368.5 363.3,368.5 363.4,368.5 363.6,368.5 363.7,368.5 363.8,368.5 363.9,368.5 364.0,368.5 364.1,368.5 364.2,368.5 364.4,368.5 364.5,368.5 364.6,368.5 364.7,368.5 364.8,368.5 364.9,368.5 365.1,368.5 365.2,368.5 365.3,368.5 365.4,368.5 365.5,368.5 365.6,368.5 365.7,368.5 365.9,368.5 366.0,368.5 366.1,368.5 366.2,368.5 366.3,368.5 366.4,368.5 366.6,368.5 366.7,368.5 366.8,368.5 366.9,368.5 367.0,368.5 367.1,368.5 367.3,368.5 367.4,368.5 367.5,368.5 367.6,368.5 367.7,368.5 367.8,368.5 367.9,368.5 368.1,368.5 368.2,368.5 368.3,368.5 368.4,368.5 368.5,368.5 368.6,368.5 368.8,368.5 368.9,368.5 369.0,368.5 369.1,368.5 369.2,368.5 369.3,368.5 369.4,368.5 369.6,368.5 369.7,368.5 369.8,368.5 369.9,368.5 370.0,368.5 370.1,368.5 370.3,368.5 370.4,368.5 370.5,368.5 370.6,368.5 370.7,368.5 370.8,368.5 370.9,368.5 371.1,368.5 371.2,368.5 371.3,368.5 371.4,368.5 371.5,368.5 371.6,368.5 371.8,368.5 371.9,368.5 372.0,368.5 372.1,368.5 372.2,368.5 372.3,368.5 372.4,368.5 372.6,368.5 372.7,368.5 372.8,368.5 372.9,368.5 373.0,368.5 373.1,368.5 373.3,368.5 373.4,368.5 373.5,368.5 373.6,368.5 373.7,368.5 373.8,368.5 373.9,368.5 374.1,368.5 374.2,368.5 374.3,368.5 374.4,368.5 374.5,368.5 374.6,368.5 374.8,368.5 374.9,368.5 375.0,368.5 375.1,368.5 375.2,368.5 375.3,368.5 375.5,368.5 375.6,368.5 375.7,368.5 375.8,368.5 375.9,368.5 376.0,368.5 376.1,368.5 376.3,368.5 376.4,368.5 376.5,368.5 377.0,368.5 377.4,368.5 377.9,368.5 378.3,368.5 378.8,368.5 379.3,368.4 379.7,368.3 380.2,368.1 380.6,368.0 381.1,367.8 381.6,367.8 382.0,367.8 382.5,367.5 383.0,367.4 383.4,367.1 383.9,367.0 384.3,367.4 384.8,367.2 385.3,366.8 385.7,366.8 386.2,366.9 386.7,366.3 387.1,365.5 387.6,365.4 388.0,365.7 388.5,365.0 389.0,364.5 389.4,364.7 389.9,363.6 390.4,364.4 390.8,362.9 391.3,362.8 391.7,363.1 392.2,363.0 392.7,362.8 393.1,363.1 393.6,361.8 394.0,361.4 394.5,361.4 395.0,361.4 395.4,361.4 395.9,361.9 396.4,361.6 396.8,362.0 397.3,360.8 397.7,361.5 398.2,360.4 398.7,361.2 399.1,359.9 399.6,359.8 400.1,359.7 400.5,359.8 401.0,360.5 401.4,360.4 401.9,360.6 402.4,360.0 402.8,359.4 403.3,361.0 403.7,359.1 404.2,360.8 404.7,361.2 405.1,360.4 405.6,360.1 406.1,360.9 406.5,361.3 407.0,359.9 407.4,361.5 407.9,360.4 408.4,360.9 408.8,361.3 409.3,361.2 409.8,361.9 410.2,362.0 410.7,361.3 411.1,362.2 411.6,362.2 412.1,361.0 412.5,360.9 413.0,361.4 413.5,361.6 413.9,362.4 414.4,362.3 414.8,362.9 415.3,364.1 415.8,362.6 416.2,362.7 416.7,362.3 417.1,363.7 417.6,362.5 418.1,363.5 418.5,364.0 419.0,363.6 419.5,363.1 419.9,363.6 420.4,363.5 420.8,364.3 421.3,363.7 421.8,363.6 422.2,364.5 422.7,364.1 423.2,364.9 423.6,364.4 424.1,365.2 424.5,364.5 425.0,364.8 425.5,365.2 425.9,364.6 426.4,365.1 426.8,364.7 427.3,365.0 427.8,364.5 428.2,364.9 428.7,364.1 429.2,364.5 429.6,364.4 430.1,365.1 430.5,365.3 431.0,364.8 431.5,363.9 431.9,364.9 432.4,364.1 432.9,364.0 433.3,364.7 433.8,364.5 434.2,363.9 434.7,364.5 435.2,364.5 435.6,364.6 436.1,364.3 436.6,364.4 437.0,363.9 437.5,364.2 437.9,363.8 438.4,364.3 438.9,363.3 439.3,364.3 439.8,364.3 440.2,364.5 440.7,364.8 441.2,364.4 441.6,364.0 442.1,364.5 442.6,363.8 443.0,364.6 443.5,364.6 443.9,363.9 444.4,363.9 444.9,364.4 445.3,363.6 445.8,363.5 446.3,363.8 446.7,364.4 447.2,363.5 447.6,364.0 448.1,363.9 448.6,363.7 449.0,364.1 449.5,363.4 449.9,364.1 450.4,363.5 450.9,363.6 451.3,363.3 451.8,363.7 452.3,363.6 452.7,364.0 453.2,363.9 453.6,364.1 454.1,363.6 454.6,364.1 455.0,363.4 455.5,363.9 456.0,364.2 456.4,364.1 456.9,363.5 457.3,364.0 457.8,363.7 458.3,364.3 458.7,363.8 459.2,363.7 459.7,363.7 460.1,363.7 460.6,364.2 461.0,364.3 461.5,364.2 462.0,363.7 462.4,363.8 462.9,363.7 463.3,364.0 463.8,363.7 464.3,364.3 464.7,363.8 465.2,364.2 465.7,364.0 466.1,363.7 466.6,363.7 467.0,363.9 467.5,364.0 468.0,363.5 468.4,363.6 468.9,364.1 469.4,363.8 469.8,364.0 470.3,363.6 470.7,363.8 471.2,363.8 471.7,363.9 472.1,364.0 472.6,363.6 473.0,363.8 473.5,364.5 474.0,364.0 474.4,363.8 474.9,364.1 475.4,364.2 475.8,364.1 476.3,363.8 476.7,364.2 477.2,363.8 477.7,363.5 478.1,363.7 478.6,363.6 479.1,364.0 479.5,363.6 480.0,363.9 480.4,363.7 480.9,364.2 481.4,363.6 481.8,364.1 482.3,363.9 482.8,363.6 483.2,363.9 483.7,364.1 484.1,364.0 484.6,363.6 485.1,363.6 485.5,363.8 486.0,364.1 486.4,364.0 486.9,363.8 487.4,363.7 487.8,364.1 488.3,364.1 488.8,363.8 489.2,363.7 489.7,363.9 490.1,364.3 490.6,363.5 491.1,363.9 491.5,363.8 492.0,364.5 492.5,364.2 492.9,364.0 493.4,363.9 493.8,364.2 494.3,364.4 494.8,364.4 495.2,364.1 495.7,363.9 496.1,363.9 496.6,364.4 497.1,364.2 497.5,364.0 498.0,363.7 498.5,363.8 498.9,363.9 499.4,364.4 499.8,363.7 500.3,364.0 500.8,363.9 501.2,364.2 501.7,364.1 502.2,364.1 502.6,364.1 503.1,364.2 503.5,363.8 504.0,363.8 504.5,364.2 504.9,364.2 505.4,364.2 505.9,364.1 506.3,363.6 506.8,364.1 507.2,363.5 507.7,364.4 508.2,364.3 508.6,364.2 509.1,364.3 509.5,363.9 510.0,363.6 510.5,364.2 510.9,363.9 511.4,363.7 511.9,363.4 512.3,364.0 512.8,363.8 513.2,363.7 513.7,364.0 514.2,363.9 514.6,364.1 515.1,364.3 515.6,364.2 516.0,363.7 516.5,363.7 516.9,364.0 517.4,364.4 517.9,363.7 518.3,364.0 518.8,363.6 519.2,364.0 519.7,364.3 520.2,364.1 520.6,364.2 521.1,363.6 521.6,364.6 522.0,364.2 522.5,364.1 522.9,364.6 523.4,363.9 523.9,363.9 524.3,363.8 524.8,363.8 525.3,364.1 525.7,363.8 526.2,364.2 526.6,364.0 527.1,364.0 527.6,364.0 528.0,363.9 528.5,364.2 529.0,364.1 529.4,364.2 529.9,364.0 530.3,364.0 530.8,364.3 531.3,363.7 531.7,363.6 532.2,363.9 532.6,364.0 533.1,364.2 533.6,364.1 534.0,364.1 534.5,363.9 535.0,364.1 535.4,363.9 535.9,363.9 536.3,364.2 536.8,364.4 537.3,364.4 537.7,364.4 538.2,364.1 538.7,363.8 539.1,364.3 539.6,363.9 540.0,364.1 540.5,363.8" fill="none" stroke="#0000ff" stroke-width="1.5" stroke-linejoin="round"/>
<polyline points="309.5,368.5 310.7,368.5 311.8,368.5 313.0,368.5 314.1,368.5 315.3,368.5 316.4,368.5 317.6,368.5 318.7,368.5 319.9,368.5 321.1,368.5 322.2,368.5 323.4,368.5 324.5,368.5 325.7,368.5 325.8,368.5 325.9,368.5 326.0,368.5 326.1,368.5 326.2,368.5 326.4,368.5 326.5,368.5 326.6,368.5 326.7,368.5 326.8,368.5 326.9,368.5 327.1,368.5 327.2,368.5 327.3,368.5 327.4,368.5 327.5,368.5 327.6,368.5 327.7,368.5 327.9,368.5 328.0,368.5 328.1,368.5 328.2,368.5 328.3,368.5 328.4,368.5 328.6,368.5 328.7,368.5 328.8,368.5 328.9,368.5 329.0,368.5 329.1,368.5 329.3,368.5 329.4,368.5 329.5,368.5 329.6,368.5 329.7,368.5 329.8,368.5 329.9,368.4 330.1,368.3 330.2,368.2 330.3,367.9 330.4,367.4 330.5,366.5 330.6,365.1 330.8,362.8 330.9,359.5 331.0,354.8 331.1,348.5 331.2,340.4 331.3,330.6 331.4,319.3 331.6,307.2 331.7,295.1 331.8,284.1 331.9,275.2 332.0,269.5 332.1,267.5 332.3,269.1 332.4,273.7 332.5,281.0 332.6,290.2 332.7,300.7 332.8,311.6 332.9,322.2 333.1,332.1 333.2,340.7 333.3,348.0 333.4,353.8 333.5,358.3 333.6,361.7 333.8,364.1 333.9,365.7 334.0,366.8 334.1,367.5 334.2,367.9 334.3,368.2 334.4,368.3 334.6,368.4 334.7,368.5 334.8,368.5 334.9,368.5 335.0,368.5 335.1,368.5 335.3,368.5 335.4,368.5 335.5,368.5 335.6,368.5 335.7,368.5 335.8,368.5 335.9,368.5 336.1,368.5 336.2,368.5 336.3,368.5 336.4,368.5 336.5,368.5 336.6,368.5 336.8,368.5 336.9,368.5 337.0,368.5 337.1,368.5 337.2,368.5 337.3,368.5 337.5,368.5 337.6,368.5 337.7,368.5 337.8,368.5 337.9,368.5 338.0,368.5 338.1,368.5 338.3,368.5 338.4,368.5 338.5,368.5 338.6,368.5 338.7,368.5 338.8,368.5 339.0,368.5 339.1,368.5 339.2,368.5 339.3,368.5 339.4,368.5 339.5,368.5 339.6,368.5 339.8,368.5 339.9,368.5 340.0,368.5 340.1,368.5 340.2,368.5 340.3,368.5 340.5,368.5 340.6,368.5 340.7,368.5 340.8,368.5 340.9,368.4 341.0,368.4 341.1,368.4 341.3,368.3 341.4,368.3 341.5,368.2 341.6,368.2 341.7,368.2 341.8,368.2 342.0,368.2 342.1,368.1 342.2,368.0 342.3,368.0 342.4,368.0 342.5,367.9 342.6,367.9 342.8,367.9 342.9,367.9 343.0,367.8 343.1,367.8 343.2,367.8 343.3,367.7 343.5,367.7 343.6,367.7 343.7,367.6 343.8,367.6 343.9,367.6 344.0,367.6 344.2,367.6 344.3,367.5 344.4,367.4 344.5,367.4 344.6,367.3 344.7,367.3 344.8,367.3 345.0,367.2 345.1,367.2 345.2,367.0 345.3,366.7 345.4,366.4 345.5,366.0 345.7,365.8 345.8,365.5 345.9,365.0 346.0,364.5 346.1,363.7 346.2,362.8 346.3,361.7 346.5,360.6 346.6,359.7 346.7,358.8 346.8,357.9 346.9,357.1 347.0,356.4 347.2,355.8 347.3,355.5 347.4,355.3 347.5,355.3 347.6,355.4 347.7,355.6 347.8,356.0 348.0,356.7 348.1,357.5 348.2,358.3 348.3,359.2 348.4,360.0 348.5,360.9 348.7,361.7 348.8,362.4 348.9,362.9 349.0,363.3 349.1,363.6 349.2,363.9 349.3,364.4 349.5,364.9 349.6,365.3 349.7,365.7 349.8,365.7 349.9,365.6 350.0,365.5 350.2,365.3 350.3,365.4 350.4,365.5 350.5,365.5 350.6,365.5 350.7,365.4 350.8,365.2 351.0,365.0 351.1,364.9 351.2,365.1 351.3,365.4 351.4,365.6 351.5,365.9 351.7,365.8 351.8,365.7 351.9,365.6 352.0,365.5 352.1,365.5 352.2,365.5 352.4,365.5 352.5,365.4 352.6,365.5 352.7,365.5 352.8,365.5 352.9,365.5 353.0,365.5 353.2,365.6 353.3,365.6 353.4,365.7 353.5,365.5 353.6,365.3 353.7,365.1 353.9,365.0 354.0,364.9 354.1,364.9 354.2,364.9 354.3,364.9 354.4,364.9 354.5,365.0 354.7,365.0 354.8,365.1 354.9,365.0 355.0,364.8 355.1,364.7 355.2,364.6 355.4,364.8 355.5,365.0 355.6,365.2 355.7,365.3 355.8,364.9 355.9,364.4 356.0,364.0 356.2,363.5 356.3,363.6 356.4,363.8 356.5,363.9 356.6,364.0 356.7,364.1 356.9,364.1 357.0,364.2 357.1,364.2 357.2,364.1 357.3,364.0 357.4,364.0 357.5,363.9 357.7,364.0 357.8,364.2 357.9,364.3 358.0,364.5 358.1,364.5 358.2,364.6 358.4,364.6 358.5,364.7 358.6,364.7 358.7,364.6 358.8,364.6 358.9,364.6 359.0,364.6 359.2,364.7 359.3,364.7 359.4,364.7 359.5,364.7 359.6,364.6 359.7,364.6 359.9,364.5 360.0,364.3 360.1,364.1 360.2,363.8 360.3,363.6 360.4,363.8 360.6,364.1 360.7,364.3 360.8,364.5 360.9,364.2 361.0,364.0 361.1,363.7 361.2,363.4 361.4,363.5 361.5,363.7 361.6,363.8 361.7,364.0 361.8,363.7 361.9,363.5 362.1,363.3 362.2,363.1 362.3,363.4 362.4,363.8 362.5,364.2 362.6,364.5 362.7,364.5 362.9,364.6 363.0,364.6 363.1,364.6 363.2,364.6 363.3,364.6 363.4,364.6 363.6,364.6 363.7,364.8 363.8,365.0 363.9,365.3 364.0,365.5 364.1,365.0 364.2,364.6 364.4,364.2 364.5,363.7 364.6,363.8 364.7,363.8 364.8,363.8 364.9,363.9 365.1,363.9 365.2,364.0 365.3,364.0 365.4,364.1 365.5,364.1 365.6,364.1 365.7,364.1 365.9,364.1 366.0,363.9 366.1,363.8 366.2,363.7 366.3,363.5 366.4,363.8 366.6,364.1 366.7,364.4 366.8,364.7 366.9,364.5 367.0,364.3 367.1,364.1 367.3,363.9 367.4,363.9 367.5,363.9 367.6,363.9 367.7,363.9 367.8,363.8 367.9,363.7 368.1,363.7 368.2,363.6 368.3,363.5 368.4,363.4 368.5,363.3 368.6,363.2 368.8,363.3 368.9,363.5 369.0,363.6 369.1,363.8 369.2,364.0 369.3,364.1 369.4,364.3 369.6,364.5 369.7,364.3 369.8,364.1 369.9,363.9 370.0,363.7 370.1,363.8 370.3,363.9 370.4,364.1 370.5,364.2 370.6,364.1 370.7,364.1 370.8,364.0 370.9,364.0 371.1,364.1 371.2,364.3 371.3,364.5 371.4,364.6 371.5,364.5 371.6,364.4 371.8,364.3 371.9,364.2 372.0,364.1 372.1,364.1 372.2,364.1 372.3,364.0 372.4,364.1 372.6,364.1 372.7,364.1 372.8,364.2 372.9,364.0 373.0,363.9 373.1,363.8 373.3,363.7 373.4,363.4 373.5,363.2 373.6,363.0 373.7,362.8 373.8,363.1 373.9,363.4 374.1,363.7 374.2,364.0 374.3,364.1 374.4,364.2 374.5,364.4 374.6,364.5 374.8,364.4 374.9,364.3 375.0,364.2 375.1,364.1 375.2,363.9 375.3,363.7 375.5,363.4 375.6,363.2 375.7,363.4 375.8,363.5 375.9,363.7 376.0,363.9 376.1,363.7 376.3,363.6 376.4,363.4 376.5,363.3 377.0,363.8 377.4,363.2 377.9,364.1 378.3,363.0 378.8,363.7 379.3,363.4 379.7,362.9 380.2,365.2 380.6,362.9 381.1,362.2 381.6,363.9 382.0,364.1 382.5,363.9 383.0,363.3 383.4,363.8 383.9,364.5 384.3,364.4 384.8,364.8 385.3,364.2 385.7,364.3 386.2,364.8 386.7,363.4 387.1,363.7 387.6,363.3 388.0,365.1 388.5,363.0 389.0,362.6 389.4,363.9 389.9,364.6 390.4,365.0 390.8,362.9 391.3,363.6 391.7,363.3 392.2,363.7 392.7,364.7 393.1,363.9 393.6,363.6 394.0,364.1 394.5,363.3 395.0,364.0 395.4,362.8 395.9,364.9 396.4,363.1 396.8,363.4 397.3,362.8 397.7,362.4 398.2,362.9 398.7,363.2 399.1,363.8 399.6,362.5 400.1,363.2 400.5,363.0 401.0,363.3 401.4,363.1 401.9,363.7 402.4,361.3 402.8,363.1 403.3,363.5 403.7,363.6 404.2,363.0 404.7,363.6 405.1,362.7 405.6,363.3 406.1,363.1 406.5,362.5 407.0,363.1 407.4,363.0 407.9,363.0 408.4,362.4 408.8,363.4 409.3,362.5 409.8,362.9 410.2,363.1 410.7,364.3 411.1,363.3 411.6,364.4 412.1,363.9 412.5,363.7 413.0,363.9 413.5,364.5 413.9,362.9 414.4,363.7 414.8,362.7 415.3,363.6 415.8,364.8 416.2,362.6 416.7,363.0 417.1,362.5 417.6,363.9 418.1,365.1 418.5,363.6 419.0,364.4 419.5,364.3 419.9,364.5 420.4,364.6 420.8,363.1 421.3,364.5 421.8,365.3 422.2,362.7 422.7,364.4 423.2,364.6 423.6,363.3 424.1,363.7 424.5,365.0 425.0,363.3 425.5,363.4 425.9,363.7 426.4,365.1 426.8,363.9 427.3,365.1 427.8,363.8 428.2,363.6 428.7,363.4 429.2,364.5 429.6,363.1 430.1,364.0 430.5,364.1 431.0,364.4 431.5,363.6 431.9,363.6 432.4,364.0 432.9,364.4 433.3,363.1 433.8,363.8 434.2,363.4 434.7,363.6 435.2,363.8 435.6,364.3 436.1,364.2 436.6,364.1 437.0,365.3 437.5,364.3 437.9,363.4 438.4,363.9 438.9,364.7 439.3,363.7 439.8,364.1 440.2,363.4 440.7,364.0 441.2,364.4 441.6,363.8 442.1,364.1 442.6,363.6 443.0,364.2 443.5,363.3 443.9,364.1 444.4,364.5 444.9,364.2 445.3,364.1 445.8,363.5 446.3,363.7 446.7,363.9 447.2,363.5 447.6,363.7 448.1,363.5 448.6,364.1 449.0,363.2 449.5,364.8 449.9,364.5 450.4,363.9 450.9,363.5 451.3,363.3 451.8,363.8 452.3,363.9 452.7,363.7 453.2,363.8 453.6,363.9 454.1,364.4 454.6,364.2 455.0,363.9 455.5,364.5 456.0,363.9 456.4,363.5 456.9,364.1 457.3,364.3 457.8,364.5 458.3,364.2 458.7,363.9 459.2,363.6 459.7,364.0 460.1,363.8 460.6,363.7 461.0,364.0 461.5,364.2 462.0,363.4 462.4,363.7 462.9,363.4 463.3,364.1 463.8,364.1 464.3,363.8 464.7,364.1 465.2,364.4 465.7,364.2 466.1,364.4 466.6,364.0 467.0,364.7 467.5,363.8 468.0,363.7 468.4,364.7 468.9,364.1 469.4,363.9 469.8,364.4 470.3,364.0 470.7,363.8 471.2,364.2 471.7,363.6 472.1,363.9 472.6,364.4 473.0,364.3 473.5,363.5 474.0,363.4 474.4,363.8 474.9,363.4 475.4,364.5 475.8,363.3 476.3,363.3 476.7,364.1 477.2,364.0 477.7,364.3 478.1,362.8 478.6,363.9 479.1,364.0 479.5,364.2 480.0,364.2 480.4,364.2 480.9,363.6 481.4,363.7 481.8,364.2 482.3,363.9 482.8,364.2 483.2,363.9 483.7,365.0 484.1,363.3 484.6,363.8 485.1,364.3 485.5,363.6 486.0,363.9 486.4,364.1 486.9,363.3 487.4,363.8 487.8,363.7 488.3,363.4 488.8,363.8 489.2,363.9 489.7,364.0 490.1,364.3 490.6,363.6 491.1,364.6 491.5,363.7 492.0,363.5 492.5,363.7 492.9,363.9 493.4,364.3 493.8,363.8 494.3,363.5 494.8,363.7 495.2,363.6 495.7,364.2 496.1,364.2 496.6,363.7 497.1,364.7 497.5,364.2 498.0,364.5 498.5,364.6 498.9,363.7 499.4,363.6 499.8,363.9 500.3,364.1 500.8,364.4 501.2,364.0 501.7,364.2 502.2,363.6 502.6,364.5 503.1,364.2 503.5,363.4 504.0,364.4 504.5,363.7 504.9,364.1 505.4,365.2 505.9,363.9 506.3,364.0 506.8,364.5 507.2,363.9 507.7,363.5 508.2,364.0 508.6,363.8 509.1,364.3 509.5,363.4 510.0,364.0 510.5,363.9 510.9,364.4 511.4,364.2 511.9,363.5 512.3,363.8 512.8,364.3 513.2,364.7 513.7,364.8 514.2,363.7 514.6,364.4 515.1,364.1 515.6,363.3 516.0,364.5 516.5,364.3 516.9,363.6 517.4,363.9 517.9,363.6 518.3,363.6 518.8,364.2 519.2,364.1 519.7,363.7 520.2,363.9 520.6,364.1 521.1,363.6 521.6,363.8 522.0,364.7 522.5,363.2 522.9,363.5 523.4,364.3 523.9,363.6 524.3,364.2 524.8,364.9 525.3,363.9 525.7,363.7 526.2,363.5 526.6,364.4 527.1,363.7 527.6,364.1 528.0,363.9 528.5,364.1 529.0,364.0 529.4,364.5 529.9,363.7 530.3,364.2 530.8,363.8 531.3,364.2 531.7,363.7 532.2,363.7 532.6,364.0 533.1,364.3 533.6,364.2 534.0,363.9 534.5,363.6 535.0,363.9 535.4,364.0 535.9,363.7 536.3,364.7 536.8,364.1 537.3,363.7 537.7,363.9 538.2,363.9 538.7,363.7 539.1,364.6 539.6,363.8 540.0,364.0 540.5,365.1" fill="none" stroke="#00ff00" stroke-width="1.5" stroke-linejoin="round"/>
<path d="M339.3 362.0L342.2 367.5L339.3 373.0L336.4 367.5Z" fill="#00ff00"/>
<path d="M352.9 362.0L355.8 367.5L352.9 373.0L350.0 367.5Z" fill="#0000ff"/>
<path d="M358.7 362.0L361.6 367.5L358.7 373.0L355.8 367.5Z" fill="#000000"/>
<path d="M367.0 362.0L369.9 367.5L367.0 373.0L364.1 367.5Z" fill="#ff0000"/>
<text x="309.5" y="381.5" text-anchor="middle" class="t">0</text>
<text x="355.7" y="381.5" text-anchor="middle" class="t">2</text>
<text x="401.9" y="381.5" text-anchor="middle" class="t">4</text>
<text x="448.1" y="381.5" text-anchor="middle" class="t">6</text>
<text x="494.3" y="381.5" text-anchor="middle" class="t">8</text>
<text x="540.5" y="381.5" text-anchor="middle" class="t">10</text>
<text x="304.5" y="370.9" text-anchor="end" class="t">0</text>
<text x="304.5" y="347.7" text-anchor="end" class="t">5</text>
<text x="304.5" y="324.6" text-anchor="end" class="t">10</text>
<text x="304.5" y="301.4" text-anchor="end" class="t">15</text>
<text x="304.5" y="278.2" text-anchor="end" class="t">20</text>
<text x="304.5" y="255.0" text-anchor="end" class="t">25</text>
<text x="304.5" y="231.9" text-anchor="end" class="t">30</text>
<text x="304.5" y="208.7" text-anchor="end" class="t">35</text>
<text x="425.0" y="390.5" text-anchor="middle" class="ax">Distance (Å)</text>
<text transform="translate(289.1,282.0) rotate(-90)" text-anchor="middle" class="gr">g(r)</text>
<text x="279.0" y="210.1" class="pl">(d)</text>
<line x1="475.8" y1="217.7" x2="498.8" y2="217.7" stroke="#000000" stroke-width="1.5"/>
<text x="500.8" y="221.2" class="lg">Al-O</text>
<line x1="475.8" y1="229.8" x2="498.8" y2="229.8" stroke="#ff0000" stroke-width="1.5"/>
<text x="500.8" y="233.3" class="lg">Fe-O</text>
<line x1="475.8" y1="241.9" x2="498.8" y2="241.9" stroke="#0000ff" stroke-width="1.5"/>
<text x="500.8" y="245.4" class="lg">Si-O</text>
<line x1="475.8" y1="254.0" x2="498.8" y2="254.0" stroke="#00ff00" stroke-width="1.5"/>
<text x="500.8" y="257.5" class="lg">H-O</text>
</svg>
</body></html>
